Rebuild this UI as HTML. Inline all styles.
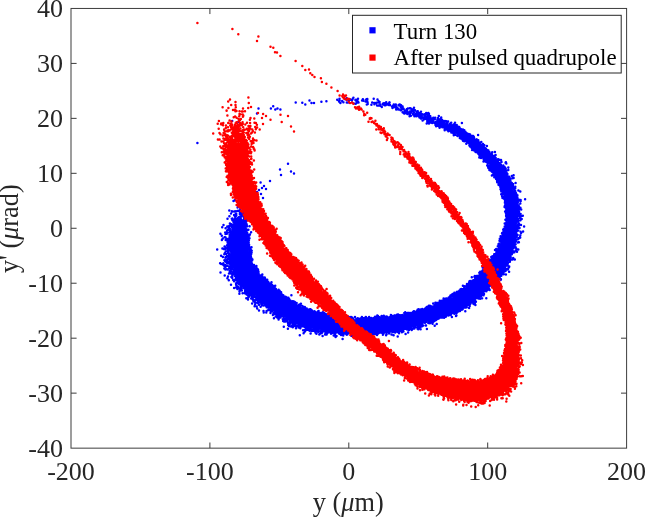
<!DOCTYPE html>
<html lang="en"><head><meta charset="utf-8"><title>Phase space</title>
<style>html,body{margin:0;padding:0;background:#fff}svg{display:block}</style></head>
<body>
<svg width="645" height="517" viewBox="0 0 645 517">
<rect width="645" height="517" fill="#fff"/>
<g fill="#0000ff" stroke="#0000ff" stroke-linecap="round" stroke-linejoin="round">
<path stroke-width="1" d="M238.9 221.2L238.5 222.0L238.0 222.8L237.5 223.6L236.9 224.3L236.4 224.9L236.2 225.5L236.0 226.1L235.8 226.7L235.6 227.3L235.4 227.9L235.1 228.5L234.8 229.1L234.5 229.8L234.2 230.4L233.9 231.0L233.5 231.7L233.2 232.4L232.9 233.1L232.5 233.8L232.2 234.5L231.9 235.2L231.6 236.0L231.3 236.8L231.0 237.6L230.8 238.5L230.6 239.3L230.4 240.2L230.3 241.1L230.1 242.1L230.1 243.0L230.0 243.9L229.9 244.8L229.9 245.7L229.9 246.6L229.9 247.5L229.9 248.4L230.0 249.3L230.0 250.2L230.1 251.0L230.1 251.9L230.2 252.8L230.3 253.6L230.4 254.4L230.5 255.3L230.6 256.1L230.8 256.9L230.9 257.7L231.0 258.5L231.2 259.3L231.3 260.1L231.5 260.9L231.6 261.8L231.8 262.6L232.0 263.4L232.2 264.3L232.4 265.1L232.6 265.9L232.8 266.8L233.1 267.6L233.3 268.5L233.6 269.3L233.9 270.2L234.2 271.1L234.5 271.9L234.9 272.8L235.2 273.7L235.6 274.5L236.0 275.4L236.5 276.2L236.9 277.1L237.4 278.0L237.9 278.8L238.5 279.6L239.0 280.4L239.6 281.1L240.2 281.9L240.7 282.6L241.3 283.3L242.0 284.0L242.6 284.7L243.2 285.3L243.8 286.0L244.5 286.6L245.1 287.2L245.8 287.8L246.4 288.4L247.1 288.9L247.7 289.5L248.4 290.0L249.0 290.6L249.7 291.1L250.3 291.6L251.0 292.1L251.6 292.6L252.2 293.1L252.9 293.6L253.5 294.1L254.1 294.6L254.8 295.0L255.4 295.5L256.0 295.9L256.6 296.4L257.2 296.8L257.8 297.3L258.4 297.7L259.0 298.2L259.6 298.6L260.2 299.0L260.8 299.5L261.4 299.9L262.0 300.4L262.6 300.8L263.1 301.3L263.7 301.7L264.3 302.2L264.9 302.6L265.5 303.1L266.1 303.5L266.7 304.0L267.3 304.5L267.9 304.9L268.6 305.4L269.2 305.9L269.8 306.4L270.4 306.8L271.0 307.3L271.7 307.8L272.3 308.2L272.9 308.7L273.6 309.2L274.2 309.7L274.9 310.1L275.5 310.6L276.2 311.1L276.9 311.5L277.5 312.0L278.2 312.5L278.9 312.9L279.6 313.3L280.2 313.8L280.9 314.2L281.6 314.6L282.3 315.1L283.0 315.5L283.7 315.9L284.3 316.3L285.0 316.7L285.7 317.1L286.4 317.5L287.1 317.9L287.8 318.3L288.5 318.6L289.2 319.0L289.9 319.4L290.6 319.8L291.2 320.1L291.9 320.5L292.6 320.8L293.3 321.2L294.0 321.5L294.7 321.9L295.4 322.2L296.1 322.6L296.9 322.9L297.6 323.3L298.3 323.6L299.1 324.0L299.8 324.3L300.6 324.6L301.3 324.9L302.1 325.2L302.9 325.5L303.7 325.8L304.5 326.1L305.3 326.4L306.1 326.7L306.9 326.9L307.7 327.2L308.5 327.4L309.4 327.7L310.2 327.9L311.1 328.1L311.9 328.2L312.8 328.4L313.6 328.5L314.4 328.7L315.3 328.8L316.1 328.9L316.9 329.0L317.7 329.1L318.5 329.1L319.3 329.2L320.1 329.2L320.9 329.3L321.7 329.4L322.5 329.4L323.2 329.4L324.0 329.5L324.7 329.5L325.5 329.6L326.2 329.7L326.9 329.7L327.7 329.8L328.4 329.8L329.1 329.9L329.8 330.0L330.5 330.1L331.3 330.2L332.0 330.3L332.7 330.4L333.4 330.5L334.2 330.6L334.9 330.7L335.6 330.8L336.4 330.9L337.1 331.0L337.9 331.1L338.6 331.2L339.4 331.4L340.1 331.5L340.9 331.6L341.6 331.7L342.4 331.8L343.2 331.9L343.9 332.0L344.7 332.1L345.5 332.2L346.2 332.3L347.0 332.4L347.8 332.5L348.6 332.6L349.4 332.6L350.2 332.7L351.0 332.8L351.8 332.8L352.6 332.9L353.4 332.9L354.2 333.0L355.0 333.0L355.8 333.0L356.6 333.0L357.4 333.0L358.2 333.0L359.0 333.0L359.8 333.0L360.6 333.0L361.4 332.9L362.2 332.9L363.0 332.9L363.8 332.8L364.6 332.8L365.3 332.7L366.1 332.7L366.9 332.6L367.7 332.6L368.4 332.5L369.2 332.4L370.0 332.4L370.7 332.3L371.5 332.3L372.3 332.2L373.0 332.1L373.8 332.1L374.5 332.0L375.3 331.9L376.0 331.9L376.8 331.8L377.5 331.8L378.3 331.7L379.0 331.6L379.8 331.6L380.5 331.5L381.3 331.5L382.0 331.4L382.8 331.3L383.6 331.3L384.3 331.2L385.1 331.2L385.8 331.1L386.6 331.0L387.4 330.9L388.1 330.9L388.9 330.8L389.7 330.7L390.5 330.6L391.2 330.5L392.0 330.4L392.8 330.3L393.6 330.2L394.3 330.1L395.1 330.0L395.9 329.9L396.6 329.8L397.4 329.6L398.2 329.5L399.0 329.4L399.7 329.2L400.5 329.1L401.3 329.0L402.0 328.8L402.8 328.7L403.6 328.5L404.3 328.3L405.1 328.2L405.8 328.0L406.6 327.8L407.4 327.7L408.1 327.5L408.9 327.3L409.6 327.1L410.4 326.9L411.1 326.8L411.9 326.6L412.7 326.4L413.4 326.2L414.2 325.9L414.9 325.7L415.7 325.5L416.4 325.3L417.2 325.1L417.9 324.9L418.7 324.6L419.4 324.4L420.1 324.2L420.9 323.9L421.6 323.7L422.4 323.5L423.1 323.2L423.9 323.0L424.6 322.7L425.3 322.5L426.1 322.2L426.8 321.9L427.5 321.7L428.3 321.4L429.0 321.1L429.7 320.9L430.4 320.6L431.2 320.3L431.9 320.1L432.6 319.8L433.3 319.5L434.0 319.2L434.7 318.9L435.4 318.7L436.1 318.4L436.8 318.1L437.5 317.8L438.2 317.5L438.9 317.3L439.6 317.0L440.3 316.7L441.0 316.4L441.7 316.1L442.4 315.9L443.2 315.6L443.9 315.3L444.6 315.0L445.3 314.8L446.0 314.5L446.7 314.2L447.5 313.9L448.2 313.7L448.9 313.4L449.6 313.1L450.4 312.8L451.1 312.5L451.8 312.2L452.5 311.9L453.3 311.6L454.0 311.3L454.7 310.9L455.5 310.6L456.2 310.2L456.9 309.9L457.6 309.5L458.3 309.2L459.1 308.8L459.8 308.4L460.5 308.1L461.2 307.7L461.9 307.3L462.6 306.9L463.3 306.5L464.0 306.1L464.7 305.7L465.4 305.3L466.0 304.8L466.7 304.4L467.4 304.0L468.1 303.5L468.7 303.1L469.4 302.6L470.1 302.2L470.7 301.7L471.3 301.2L472.0 300.7L472.6 300.3L473.3 299.8L473.9 299.3L474.5 298.8L475.1 298.3L475.7 297.8L476.4 297.3L477.0 296.8L477.6 296.3L478.2 295.8L478.8 295.3L479.4 294.8L479.9 294.3L480.5 293.7L481.1 293.2L481.7 292.7L482.3 292.2L482.8 291.6L483.4 291.1L484.0 290.6L484.6 290.1L485.1 289.5L485.7 289.0L486.3 288.5L486.8 287.9L487.4 287.4L487.9 286.8L488.5 286.3L489.0 285.7L489.6 285.2L490.2 284.6L490.7 284.0L491.3 283.5L491.8 282.9L492.4 282.3L492.9 281.7L493.4 281.2L494.0 280.6L494.5 280.0L495.1 279.4L495.6 278.8L496.1 278.2L496.6 277.5L497.2 276.9L497.7 276.3L498.2 275.7L498.7 275.0L499.2 274.4L499.7 273.8L500.2 273.1L500.7 272.5L501.2 271.8L501.6 271.1L502.1 270.5L502.6 269.8L503.0 269.1L503.5 268.4L503.9 267.7L504.3 267.0L504.8 266.3L505.2 265.6L505.6 264.9L506.0 264.2L506.4 263.4L506.8 262.7L507.1 261.9L507.5 261.2L507.9 260.4L508.2 259.7L508.5 258.9L508.8 258.1L509.1 257.4L509.4 256.6L509.7 255.8L510.0 255.1L510.2 254.3L510.4 253.5L510.7 252.7L510.9 252.0L511.1 251.2L511.3 250.4L511.5 249.7L511.7 248.9L511.9 248.1L512.1 247.4L512.3 246.6L512.5 245.9L512.6 245.1L512.8 244.4L513.0 243.6L513.2 242.9L513.4 242.2L513.6 241.4L513.7 240.7L513.9 239.9L514.1 239.2L514.3 238.4L514.5 237.7L514.6 236.9L514.8 236.1L515.0 235.4L515.1 234.6L515.3 233.8L515.4 233.1L515.6 232.3L515.8 231.5L515.9 230.7L516.0 230.0L516.2 229.2L516.3 228.4L516.4 227.6L516.6 226.8L516.7 226.0L516.8 225.2L516.9 224.4L517.0 223.6L517.1 222.8L517.1 222.0L517.2 221.2L517.3 220.4L517.3 219.6L517.3 218.8L517.4 217.9L517.4 217.1L517.4 216.3L517.4 215.5L517.4 214.7L517.4 213.9L517.3 213.0L517.3 212.2L517.2 211.4L517.2 210.6L517.1 209.8L517.0 208.9L516.9 208.1L516.8 207.3L516.7 206.5L516.6 205.7L516.4 205.0L516.3 204.2L516.1 203.4L516.0 202.6L515.8 201.8L515.6 201.1L515.5 200.3L515.3 199.5L515.1 198.8L514.9 198.0L514.7 197.3L514.5 196.5L514.3 195.8L514.1 195.0L513.9 194.3L513.7 193.6L513.5 192.8L513.3 192.1L513.1 191.3L512.9 190.6L512.7 189.8L512.4 189.1L512.2 188.3L511.9 187.6L511.7 186.8L511.4 186.1L511.1 185.3L510.8 184.5L510.5 183.8L510.2 183.0L509.9 182.3L509.6 181.5L509.2 180.8L508.9 180.1L508.5 179.3L508.1 178.6L507.7 177.8L507.3 177.1L506.9 176.4L506.4 175.7L506.0 175.0L505.6 174.3L505.1 173.7L504.7 173.0L504.2 172.4L503.8 171.8L503.4 171.1L502.9 170.5L502.5 169.9L502.1 169.3L501.6 168.7L501.2 168.1L500.8 167.5L500.3 166.9L499.9 166.3L499.4 165.8L499.0 165.2L498.5 164.6L498.1 164.0L497.6 163.4L497.1 162.8L496.6 162.2L496.1 161.6L495.7 160.9L495.2 160.3L494.7 159.7L494.2 159.1L493.7 158.5L493.2 157.9L492.6 157.3L492.1 156.7L491.6 156.1L491.1 155.5L490.6 154.9L490.0 154.3L489.5 153.8L489.0 153.2L488.4 152.7L487.9 152.1L487.3 151.5L486.8 151.0L486.2 150.5L485.7 149.9L485.1 149.4L484.5 148.9L484.0 148.3L483.4 147.8L482.8 147.3L482.3 146.8L481.7 146.3L481.1 145.8L480.5 145.3L480.0 144.8L479.4 144.3L478.8 143.8L478.2 143.3L477.7 142.8L477.1 142.3L476.5 141.9L475.9 141.4L475.3 140.9L474.7 140.4L474.2 139.9L473.6 139.4L473.0 139.0L472.4 138.5L471.8 138.0L471.2 137.5L470.6 137.1L470.0 136.6L469.4 136.1L468.8 135.7L468.1 135.2L467.5 134.7L466.9 134.3L466.3 133.8L465.6 133.4L465.0 132.9L464.4 132.5L463.7 132.1L463.1 131.7L462.4 131.2L461.7 130.8L461.1 130.4L460.4 130.0L459.7 129.6L459.0 129.2L458.4 128.9L457.7 128.5L457.0 128.1L456.3 127.8L455.6 127.4L454.9 127.1L454.2 126.7L453.6 126.4L452.9 126.1L452.2 125.8L451.5 125.4L450.8 125.1L450.1 124.8L449.4 124.5L448.7 124.2L448.0 123.9L447.3 123.6L446.5 123.5L445.7 123.6L444.9 123.6L444.0 123.6L443.1 125.9L443.6 126.5L444.2 127.1L444.7 127.7L445.3 128.3L446.0 128.6L446.7 128.9L447.3 129.2L448.0 129.5L448.7 129.8L449.4 130.1L450.1 130.4L450.7 130.7L451.4 131.0L452.1 131.3L452.7 131.6L453.4 131.9L454.0 132.3L454.7 132.6L455.3 132.9L456.0 133.3L456.6 133.6L457.2 134.0L457.9 134.3L458.5 134.7L459.1 135.1L459.7 135.5L460.3 135.8L460.9 136.3L461.5 136.7L462.1 137.1L462.7 137.5L463.2 138.0L463.8 138.4L464.4 138.9L465.0 139.3L465.5 139.8L466.1 140.2L466.7 140.7L467.2 141.2L467.8 141.7L468.4 142.1L468.9 142.6L469.5 143.1L470.0 143.6L470.6 144.1L471.1 144.6L471.6 145.1L472.2 145.6L472.7 146.1L473.3 146.6L473.8 147.1L474.3 147.7L474.9 148.2L475.4 148.7L476.0 149.2L476.5 149.7L477.0 150.2L477.6 150.8L478.1 151.3L478.6 151.8L479.2 152.3L479.7 152.8L480.2 153.4L480.7 153.9L481.2 154.4L481.7 154.9L482.2 155.5L482.7 156.0L483.2 156.5L483.7 157.1L484.2 157.6L484.7 158.1L485.1 158.7L485.6 159.2L486.0 159.8L486.5 160.3L486.9 160.9L487.3 161.5L487.7 162.1L488.1 162.6L488.5 163.2L488.9 163.8L489.2 164.5L489.6 165.1L489.9 165.7L490.3 166.4L490.6 167.0L491.0 167.7L491.3 168.3L491.7 169.0L492.0 169.7L492.4 170.3L492.8 171.0L493.1 171.7L493.5 172.3L493.9 173.0L494.3 173.6L494.8 174.3L495.2 174.9L495.6 175.6L496.0 176.2L496.4 176.8L496.8 177.4L497.2 178.0L497.6 178.6L498.0 179.2L498.4 179.8L498.7 180.4L499.1 181.0L499.4 181.6L499.7 182.2L500.0 182.7L500.3 183.3L500.5 183.9L500.8 184.6L501.0 185.2L501.3 185.8L501.5 186.4L501.7 187.1L502.0 187.8L502.2 188.4L502.4 189.1L502.6 189.8L502.8 190.4L503.0 191.1L503.2 191.8L503.4 192.5L503.5 193.2L503.7 193.9L503.9 194.6L504.1 195.4L504.3 196.1L504.5 196.8L504.7 197.5L504.9 198.3L505.0 199.0L505.2 199.7L505.4 200.4L505.6 201.1L505.8 201.8L505.9 202.5L506.1 203.2L506.2 203.9L506.4 204.6L506.5 205.3L506.7 206.0L506.8 206.7L506.9 207.4L507.0 208.0L507.1 208.7L507.2 209.4L507.3 210.1L507.4 210.7L507.4 211.4L507.5 212.1L507.5 212.8L507.5 213.4L507.6 214.1L507.6 214.8L507.6 215.5L507.6 216.2L507.5 216.9L507.5 217.6L507.5 218.2L507.4 218.9L507.4 219.6L507.3 220.3L507.2 221.0L507.1 221.7L507.1 222.4L507.0 223.1L506.8 223.8L506.7 224.5L506.6 225.2L506.5 225.9L506.3 226.5L506.2 227.2L506.0 227.9L505.9 228.6L505.7 229.3L505.5 230.0L505.3 230.7L505.1 231.4L504.9 232.1L504.7 232.7L504.5 233.4L504.3 234.1L504.1 234.8L503.9 235.5L503.6 236.2L503.4 236.9L503.2 237.6L502.9 238.3L502.7 239.0L502.4 239.7L502.2 240.4L501.9 241.1L501.7 241.8L501.4 242.5L501.2 243.2L500.9 243.8L500.6 244.5L500.3 245.2L500.1 245.9L499.8 246.5L499.5 247.2L499.2 247.8L498.9 248.5L498.6 249.1L498.4 249.7L498.1 250.4L497.8 251.0L497.5 251.6L497.2 252.2L496.9 252.8L496.6 253.4L496.2 254.0L495.9 254.6L495.6 255.1L495.3 255.7L495.0 256.3L494.6 256.9L494.3 257.4L494.0 258.0L493.6 258.5L493.2 259.1L492.9 259.7L492.5 260.2L492.1 260.8L491.7 261.3L491.3 261.9L490.9 262.4L490.5 263.0L490.1 263.5L489.6 264.0L489.2 264.6L488.8 265.1L488.3 265.7L487.9 266.2L487.4 266.7L487.0 267.2L486.5 267.8L486.0 268.3L485.5 268.8L485.1 269.4L484.6 269.9L484.1 270.4L483.6 270.9L483.1 271.4L482.6 272.0L482.1 272.5L481.6 273.0L481.1 273.5L480.6 274.0L480.0 274.5L479.5 275.1L479.0 275.6L478.5 276.1L478.0 276.6L477.4 277.1L476.9 277.6L476.4 278.1L475.8 278.6L475.3 279.1L474.8 279.6L474.2 280.2L473.7 280.6L473.2 281.1L472.6 281.6L472.1 282.1L471.6 282.6L471.0 283.1L470.5 283.6L470.0 284.1L469.4 284.5L468.9 285.0L468.3 285.5L467.8 285.9L467.3 286.4L466.7 286.8L466.2 287.3L465.6 287.7L465.1 288.2L464.5 288.6L464.0 289.1L463.4 289.5L462.9 289.9L462.3 290.3L461.8 290.7L461.2 291.2L460.6 291.6L460.1 292.0L459.5 292.4L458.9 292.8L458.4 293.2L457.8 293.6L457.2 294.0L456.6 294.4L456.1 294.8L455.5 295.2L454.9 295.5L454.3 295.9L453.7 296.3L453.1 296.7L452.5 297.0L451.9 297.4L451.3 297.7L450.7 298.1L450.1 298.4L449.5 298.8L448.9 299.1L448.2 299.4L447.6 299.7L447.0 300.1L446.4 300.4L445.7 300.7L445.1 301.0L444.4 301.4L443.8 301.7L443.1 302.0L442.5 302.3L441.8 302.6L441.2 302.9L440.5 303.2L439.8 303.5L439.2 303.8L438.5 304.1L437.8 304.4L437.1 304.7L436.4 305.0L435.7 305.3L435.0 305.6L434.3 305.8L433.6 306.1L433.0 306.4L432.3 306.7L431.6 307.0L430.9 307.2L430.2 307.5L429.5 307.8L428.8 308.0L428.1 308.3L427.5 308.6L426.8 308.8L426.1 309.1L425.4 309.4L424.7 309.6L424.0 309.9L423.4 310.1L422.7 310.4L422.0 310.6L421.3 310.8L420.6 311.1L420.0 311.3L419.3 311.5L418.6 311.7L417.9 312.0L417.2 312.2L416.5 312.4L415.8 312.6L415.1 312.8L414.5 313.0L413.8 313.2L413.1 313.4L412.4 313.5L411.7 313.7L411.0 313.9L410.3 314.1L409.6 314.2L408.9 314.4L408.2 314.6L407.5 314.7L406.8 314.9L406.1 315.1L405.3 315.2L404.6 315.4L403.9 315.5L403.2 315.6L402.5 315.8L401.8 315.9L401.1 316.1L400.4 316.2L399.7 316.3L399.0 316.5L398.3 316.6L397.5 316.7L396.8 316.8L396.1 316.9L395.4 317.0L394.7 317.1L394.0 317.2L393.3 317.3L392.6 317.4L391.8 317.5L391.1 317.6L390.4 317.7L389.7 317.8L389.0 317.9L388.3 318.0L387.6 318.1L386.8 318.1L386.1 318.2L385.4 318.3L384.7 318.3L383.9 318.4L383.2 318.5L382.5 318.5L381.7 318.6L381.0 318.7L380.3 318.7L379.5 318.8L378.8 318.8L378.0 318.9L377.3 318.9L376.5 319.0L375.8 319.1L375.0 319.1L374.3 319.2L373.5 319.2L372.8 319.3L372.0 319.3L371.3 319.4L370.5 319.4L369.8 319.5L369.1 319.5L368.3 319.6L367.6 319.6L366.9 319.7L366.1 319.7L365.4 319.7L364.7 319.8L364.0 319.8L363.2 319.8L362.5 319.8L361.8 319.8L361.1 319.8L360.4 319.8L359.7 319.8L359.0 319.8L358.3 319.8L357.6 319.8L356.9 319.8L356.2 319.8L355.5 319.7L354.8 319.7L354.2 319.6L353.5 319.6L352.8 319.5L352.1 319.5L351.4 319.4L350.7 319.3L350.0 319.3L349.3 319.2L348.6 319.1L347.9 319.0L347.2 318.9L346.5 318.8L345.8 318.7L345.1 318.6L344.4 318.5L343.7 318.4L342.9 318.2L342.2 318.1L341.5 318.0L340.7 317.9L340.0 317.7L339.3 317.6L338.5 317.5L337.8 317.4L337.0 317.2L336.3 317.1L335.5 317.0L334.7 316.9L334.0 316.7L333.2 316.6L332.4 316.5L331.7 316.4L330.9 316.3L330.1 316.1L329.3 316.0L328.5 315.9L327.8 315.8L327.0 315.7L326.3 315.6L325.5 315.5L324.8 315.3L324.0 315.2L323.3 315.1L322.6 315.0L321.9 314.9L321.2 314.7L320.5 314.6L319.8 314.5L319.1 314.3L318.5 314.2L317.8 314.0L317.2 313.9L316.6 313.7L315.9 313.6L315.3 313.4L314.7 313.2L314.1 313.1L313.5 312.9L312.9 312.7L312.3 312.5L311.8 312.3L311.2 312.1L310.5 311.8L309.9 311.6L309.3 311.3L308.7 311.1L308.1 310.8L307.5 310.5L306.9 310.3L306.3 310.0L305.6 309.7L305.0 309.4L304.4 309.1L303.7 308.8L303.1 308.4L302.5 308.1L301.8 307.8L301.2 307.5L300.5 307.1L299.9 306.8L299.2 306.5L298.6 306.1L297.9 305.8L297.3 305.4L296.7 305.1L296.0 304.8L295.4 304.4L294.8 304.1L294.2 303.7L293.6 303.4L292.9 303.0L292.3 302.7L291.7 302.3L291.1 302.0L290.5 301.6L289.9 301.2L289.4 300.9L288.8 300.5L288.2 300.1L287.6 299.7L287.0 299.4L286.5 299.0L285.9 298.6L285.4 298.2L284.8 297.8L284.2 297.4L283.7 296.9L283.1 296.5L282.6 296.1L282.0 295.6L281.5 295.2L280.9 294.7L280.4 294.3L279.8 293.8L279.3 293.4L278.7 292.9L278.2 292.4L277.6 291.9L277.1 291.4L276.5 290.9L275.9 290.5L275.4 290.0L274.8 289.5L274.3 289.0L273.7 288.5L273.1 288.0L272.5 287.4L272.0 286.9L271.4 286.4L270.8 285.9L270.2 285.4L269.6 284.9L269.1 284.4L268.5 283.9L267.9 283.5L267.4 283.0L266.8 282.5L266.3 282.0L265.8 281.5L265.2 281.0L264.7 280.5L264.2 280.1L263.7 279.6L263.1 279.1L262.6 278.6L262.1 278.1L261.7 277.6L261.2 277.2L260.7 276.7L260.2 276.2L259.8 275.7L259.4 275.2L258.9 274.7L258.5 274.2L258.1 273.7L257.7 273.3L257.3 272.8L257.0 272.3L256.6 271.8L256.3 271.3L256.0 270.9L255.6 270.4L255.3 269.9L255.0 269.5L254.8 269.0L254.5 268.6L254.2 268.1L254.0 267.7L253.7 267.2L253.5 266.7L253.3 266.3L253.0 265.8L252.8 265.3L252.6 264.7L252.4 264.2L252.2 263.7L252.0 263.1L251.7 262.5L251.6 261.9L251.4 261.3L251.2 260.7L251.0 260.1L250.8 259.5L250.6 258.9L250.5 258.2L250.3 257.5L250.1 256.9L250.0 256.2L249.8 255.5L249.6 254.8L249.5 254.1L249.3 253.5L249.2 252.8L249.0 252.1L248.9 251.5L248.8 250.8L248.7 250.2L248.5 249.5L248.4 248.9L248.3 248.3L248.2 247.7L248.1 247.0L248.1 246.4L248.0 245.8L247.9 245.2L247.9 244.7L247.8 244.1L247.8 243.5L247.7 242.9L247.7 242.3L247.7 241.7L247.6 241.1L247.6 240.5L247.6 239.8L247.5 239.2L247.4 238.4L247.4 237.7L247.3 237.0L247.2 236.2L247.1 235.4L247.0 234.6L246.9 233.7L246.8 232.9L246.7 232.1L246.6 231.2L246.5 230.3L246.3 229.5L246.2 228.6L246.0 227.7L245.8 226.8L245.6 226.0L245.4 225.1L245.1 224.2L244.5 223.4L243.7 222.6L242.9 221.9L242.1 221.2L241.4 220.6Z"/>
<path fill="none" stroke-width="2.5" d="m353.4 97.8h0m-43.9 2.8h0m11.9 1.2h0m5-.5h0m10.8-1.5h0m1.8 1.8h0m.1-.1h0m.4-2.7h0m.1 1.7h0m2.6 .6h0m3.1-1.8h0m1.3-1h0m.3 1.5h0m2.1-.3h0m.1 .8h0m1.2-.7h0m1.3 .3h0m.4 .5h0m.8-1.6h0m2.6 1.1h0m.5 .7h0m.1-.8h0m.7 1.3h0m1.2 .5h0m.1-2.8h0m4.1 1.8h0m.8-1.3h0m.4 1.4h0m0-.7h0m2.3 1.4h0m.6-1.9h0m.2 .7h0m.9-.4h0m0-.7h0m6.4-.3h0m3.8 .8h0m1 1.3h0m.3 1h0m.8 0h0m-83.9 .7h0m6.6 .2h0m3 1.7h0m6.2-1.5h0m2.5 0h0m26.4-.1h0m3-.7h0m3.4 .2h0m1.3 .2h0m5.6 .9h0m2 .2h0m.9-.9h0m1.9-.2h0m8.3 1.9h0m.8-2.2h0m.1 1.8h0m3.7 .7h0m.8-2.2h0m2.1 .3h0m.1 1.3h0m1.9-1h0m.1-.4h0m.7 2.7h0m1.4-.1h0m.1-2.8h0m1.8 1.6h0m0 1.5h0m2.6-1.3h0m.2-1h0m0 .5h0m.8-.2h0m.3-.5h0m.3 2.1h0m.9-.1h0m.1-.9h0m.3-1h0m.3-1h0m.9 2.2h0m.1-.7h0m1.7 1.1h0m0-.7h0m.4-1.6h0m.3-.1h0m.4 2.5h0m2.9 .7h0m.9-1.1h0m.1 1.4h0m1.3-.3h0m.6-1.2h0m2.8 .4h0m.5 .5h0m.7-1h0m1.3 .9h0m-142.6 3.1h0m12.4 0h0m2.3-2.1h0m2.1 3.1h0m2.2-1h0m2.9 1.1h0m101.4-2.5h0m10.2-.6h0m.5 1.5h0m.6-.6h0m1.3-.4h0m1.3 .7h0m.5 2h0m.1-3.2h0m0 1h0m0-.9h0m.2 1.7h0m.7 .2h0m.2-.7h0m.1 1.5h0m.4 0h0m.6-.2h0m.2 .5h0m2.1-2.2h0m.4 2.7h0m.2-1h0m.3 .4h0m.2-1.7h0m.7-1.3h0m0 1.5h0m.1-.1h0m.4 1h0m.2 .2h0m.3-.2h0m3.3 .2h0m1-.6h0m1.9-.1h0m1 .3h0m.7 .9h0m.4-.2h0m.8 .2h0m1.3-1.8h0m-157 5.9h0m143.7-3.3h0m1.9 1.9h0m.8 .6h0m0-.4h0m.8 1.2h0m.4-.1h0m.1-3.2h0m.1 .7h0m.1 .9h0m.4 .8h0m.9-1.9h0m.5 1.3h0m.5-1h0m0 2.2h0m.3 .4h0m.1-1.6h0m1 .6h0m1.4-1.1h0m0 2.3h0m.3-.9h0m1-.4h0m.3-1.7h0m.2-.4h0m1.1 .3h0m.3 2.9h0m.6-1.1h0m.3-2.4h0m.9 .1h0m.9 3.4h0m.6-1.9h0m.3 0h0m.9 2h0m.1-2.6h0m.9 1.8h0m1.4 .8h0m.3-1.3h0m.3 .4h0m.3-1.1h0m5.2 1.3h0m0 .8h0m.2 0h0m2-.8h0m.6 .8h0m-21.7 .1h0m.2 0h0m2.1 2.2h0m.1-1h0m.9 .6h0m.3-.1h0m2.2-1.1h0m1.3 1.7h0m.9-1.2h0m.8 .1h0m.2 1.1h0m1-.9h0m.9-.1h0m.4 .9h0m.8 .7h0m.1 .6h0m1.1-2.7h0m.1 1.9h0m.1 1.1h0m.8-1.7h0m0 .4h0m.2-1.9h0m.4-.4h0m.2 .3h0m.3 3h0m.1 .1h0m.8-.3h0m.6-2.7h0m.5 1.6h0m0-.4h0m0-1.5h0m.1 2.8h0m.5-1.5h0m.8-1.3h0m.6 2.6h0m.9 .5h0m.6-2.2h0m.9 .7h0m0 .2h0m.1 .2h0m.1-.3h0m.1 1.5h0m.7-.6h0m.2-.7h0m3 1.6h0m1.9 0h0m3.6-1.7h0m2.4 1.4h0m-209 3.5h0m188.7-2.4h0m1.7 2h0m.6-2.4h0m.4 1.3h0m1.3-.5h0m1.3-.5h0m.5 .1h0m.5 1.4h0m0-1.6h0m.1 3.2h0m.3-2.7h0m0 .3h0m.1 .5h0m.2 2.3h0m.2-2.5h0m.1 1.4h0m.2-.8h0m.4-1.3h0m.3 .1h0m.5 2h0m0-2.4h0m.7 .5h0m.4 2.1h0m.2-1.2h0m.2-1.7h0m1.5 .3h0m.1 3.4h0m0-3.3h0m.1 1h0m.2-.7h0m.1 2.2h0m0 .1h0m.3 0h0m1.5-2.2h0m1.5 2.5h0m.3-.1h0m.4 .5h0m.3-2.2h0m.4-.4h0m.2-1.3h0m.4 1.3h0m.4 .3h0m0 1.6h0m.3-.4h0m.2-1.1h0m.1-.2h0m.1 2.2h0m.5 .1h0m.6-1.8h0m1 1.7h0m.2-1.2h0m.2-.7h0m.5 .6h0m.4 .5h0m1.1 1.1h0m1-1h0m.6 .2h0m.8 .1h0m1.7 .3h0m-209.8 .5h0m188.4 1.3h0m1.7-.6h0m.6 .6h0m1.4-.8h0m.6-.4h0m.6 .3h0m.6 .4h0m2.3 .1h0m1 2.1h0m.1-1.6h0m.4-1.5h0m.1 .3h0m.6 3.1h0m.2-2.2h0m.5 .8h0m0 1.8h0m.2-.8h0m1-2.5h0m.1 .6h0m.9-.8h0m0 2.8h0m.1-2.3h0m.8 2h0m.4-1.9h0m.1 1.7h0m.1-2h0m.4 1.5h0m.9 1.5h0m.3-1.2h0m.1-1.4h0m0 1.4h0m1.6-.1h0m0 .2h0m1.8-.3h0m.2-1.7h0m.2 .4h0m.5-.2h0m.2 .2h0m2.3 2.5h0m.4-1.7h0m.7 1.8h0m.2 .2h0m.3-3h0m.5 2.6h0m1.8-.6h0m.9 .2h0m.2-.9h0m.4-1.2h0m0 2.3h0m.3 0h0m1.3 .5h0m.1-.5h0m5.2-2.2h0m-25.8 3.4h0m2.8 0h0m.4-.1h0m.3 1.6h0m.1-.5h0m1-1h0m.5 .2h0m1.1 .7h0m.2-1.2h0m.5 .2h0m1 .9h0m.3-.9h0m.3 2.8h0m.4-2.1h0m.2 1h0m.1-.4h0m.2 1.1h0m.1-1.1h0m.7 1.6h0m.9-.5h0m.3 .8h0m.9-.4h0m1.1 1h0m.6-.2h0m3.1-2.7h0m.3-.5h0m.2 .5h0m.1-.6h0m.7 .1h0m1.1 1.7h0m.4-.3h0m.2 .8h0m.4-2.7h0m.2 2.1h0m.3-1.7h0m.6 0h0m.3 1.6h0m.3 1.6h0m.7-1h0m.2-1.7h0m.1 1.7h0m.2 1h0m.3-1.4h0m1 1.4h0m.3-.5h0m.6 .4h0m1 .3h0m.2-.5h0m-18.2 .8h0m2.7-.2h0m.4 .4h0m.6 .9h0m2.2-.3h0m.7 1.5h0m.5-.8h0m.1-.6h0m1.2 .3h0m.2 1.6h0m.3-.4h0m1.3 .2h0m.2-.9h0m.1 .3h0m.1 .6h0m.7-.5h0m1.6 1.4h0m.8-.2h0m.6-3.4h0m3.1 .1h0m0 1.8h0m.3-1.8h0m.2 .7h0m1 1.9h0m.1-.9h0m0 1.2h0m.2-.6h0m.2 .6h0m.2-2.8h0m1.1 1.6h0m0-.2h0m.8 1.2h0m.4 .4h0m.4 .3h0m.1 .4h0m-13.4 .5h0m.1 .8h0m.3-.4h0m1.1-.2h0m1.9 .7h0m.6 .5h0m.1-1.2h0m.3 .3h0m0-1h0m.7 .2h0m.2 0h0m.3 .9h0m.5 2.9h0m.2-3.3h0m0 1.2h0m.5-1.1h0m.3 .3h0m0 2.7h0m0-2.1h0m.5 1.1h0m.9 .9h0m.2-.2h0m2 .3h0m1.7-3.1h0m.2 .1h0m2.2 1.5h0m0 .1h0m.2-2.4h0m.6 2.2h0m.3-.2h0m.2-1.2h0m.3-.2h0m.4 .9h0m.3 .7h0m0 1.8h0m1.2 0h0m.3-.7h0m0-1.3h0m.2 1.6h0m.2-.5h0m.2 .3h0m.2-1.4h0m0 1.5h0m.6 .1h0m.1-.9h0m.3 1.3h0m4-2.9h0m-17.2 3.3h0m1.5 1.2h0m.6 1.1h0m.2-1.7h0m.7-.5h0m.3 2.7h0m.2-3.2h0m.5 1h0m.2-.4h0m0 2.2h0m.1-2.6h0m.3 1.7h0m.4-.9h0m.1 1.8h0m.6 .8h0m.1-1.5h0m.1 .6h0m.1 .4h0m.1-.1h0m.1-.2h0m.1 .2h0m.2 .4h0m.4 .4h0m.1-.6h0m.1 .1h0m0 .2h0m2.9-3.4h0m.2 0h0m.1 0h0m.8 .2h0m.4 .6h0m.9 .6h0m.8 1.2h0m.7 .1h0m0-.8h0m.1 1.3h0m.1-.1h0m0-.8h0m.1 .5h0m.5 1h0m.7-2.4h0m.4 1.1h0m.1-1h0m.2 1.7h0m1-.8h0m.3-.3h0m-280.9 2.7h0m268.9 .9h0m1-1.4h0m.2 .2h0m1.5 .6h0m.1 .1h0m.3 2.3h0m.4-2.3h0m.4-.1h0m0 .4h0m.2 .8h0m.9 .2h0m.3 0h0m.1-.6h0m.3 1.9h0m0 .1h0m.1-1.4h0m.2 .7h0m2.9-3.2h0m.6 .4h0m.2-.3h0m.7 .2h0m.4-.4h0m.5 .7h0m.8 .9h0m.1-1.5h0m.5 2.9h0m.1-1.7h0m.1-.6h0m0-.1h0m.3 1.3h0m.3-.3h0m.1 0h0m.1 .4h0m1.1 1.1h0m.2-3h0m0 3.9h0m0-.5h0m.1-.5h0m.1 .6h0m.9-.6h0m.3-.1h0m.3-.8h0m1.3 1.2h0m-14.2 1.2h0m1.3 .9h0m.5 .5h0m.3-1.5h0m.5 .5h0m.7 1.3h0m.4-1.2h0m0 2.1h0m.7-.8h0m.3 1.1h0m.1-1h0m1-.3h0m.2 1.6h0m.2-1.3h0m.6 1.3h0m3.5-3.4h0m.4 .1h0m.9 .4h0m.2 .1h0m.2 1h0m.4 .2h0m1 .7h0m.1-1.6h0m.4 2.3h0m0-2.9h0m.2 3.1h0m.4-.4h0m.8-1.1h0m.7 .9h0m.1 .2h0m.1 .3h0m.6-3.5h0m.2 3.8h0m.1 .1h0m-15.1 .1h0m2.1 .4h0m.9 .1h0m.5 1.4h0m.5-1.7h0m.5 .4h0m0 .9h0m.2-1.1h0m.3 1h0m.1-1.3h0m.4 .3h0m.1 2.2h0m.4-1.2h0m.3 .5h0m0 .8h0m.1 1.2h0m.1-.4h0m.7-1.4h0m.6-.3h0m.2 1.2h0m.4 .3h0m4.4-3h0m.7 .6h0m.7 .2h0m.4 0h0m.6-.8h0m.8 3.3h0m.1-1.5h0m.2 1h0m0-2.6h0m0 2.9h0m.2-1.6h0m.8 0h0m1.7 1.7h0m1.1-1.4h0m2.7-.1h0m-15.6 5.5h0m.2-2.1h0m0-1.1h0m.4 1.8h0m.5-1.9h0m0 .2h0m.2 .5h0m.2 1.2h0m.2 1.7h0m.1-2.3h0m.3-.6h0m.6 1.3h0m.8 .5h0m0-1.9h0m0 .9h0m.2 1.9h0m.1-.3h0m.1 0h0m.1 .1h0m0-1h0m.2 .9h0m.1-1.1h0m.1 .5h0m.7 .3h0m.8 .8h0m0-.2h0m3.7-3.4h0m.4-.1h0m.8 1.5h0m.5-.5h0m.1 .8h0m.1-1.9h0m.2 2.7h0m0-.4h0m.1-2.2h0m.1 1.8h0m.2-1.2h0m.6 1.6h0m0-2h0m.1 3.3h0m0-2.7h0m0-.3h0m.3 2h0m.8-.7h0m0 1.9h0m.4-.1h0m.1-1.5h0m1.1-.5h0m.2 1.5h0m.1 .4h0m.1-2.3h0m.4-.3h0m.1 2.8h0m-12.4 .7h0m.2 2.8h0m.5-1.7h0m0-.2h0m.5-.8h0m.7 2.6h0m.4-3.2h0m.4 2.1h0m0 1.6h0m.5-.6h0m.2-1.4h0m.2 1.1h0m.4-.6h0m.3 .8h0m.2-.4h0m.2 .9h0m.4 .2h0m0-.3h0m4.1-3.4h0m.8 .5h0m.3-.4h0m.3 1.8h0m0-1.7h0m0-.2h0m.4 .1h0m.1 1.8h0m0-2h0m.4 .3h0m.4 2.2h0m.1-1.8h0m.2 0h0m.1 2.1h0m0 .9h0m.3 .3h0m.2-1.9h0m0 1h0m.3 .5h0m.2-1.9h0m.8 .8h0m.2 .4h0m.2 .1h0m.2-1.7h0m1.3 .5h0m1.7 .1h0m.3 1.5h0m-213.3 2.3h0m199.1-1.4h0m.1 3.1h0m.6-1.6h0m.3-.5h0m.7 0h0m.2-.2h0m.2 2.9h0m1.2-.1h0m6.1-2.4h0m.4-.6h0m.5-.7h0m.2 1.8h0m.2-.4h0m.2-.2h0m.2-.1h0m.1-.1h0m.3-.8h0m.3 .5h0m0 1.4h0m.1 1.1h0m.1 .5h0m.3-2.6h0m1.5 1.5h0m.6-2.8h0m1.8 3.6h0m2.3-2.8h0m.3-.5h0m.4 1.2h0m-226.3 5.9h0m208.2-2.2h0m.2 .9h0m.4-.6h0m.6 2.5h0m.5-2.7h0m0 .8h0m.4 1.8h0m.8-1.9h0m.9 .3h0m.2 .8h0m.5-.1h0m.1 .8h0m0 .1h0m5.9-3.7h0m1.3 .6h0m.4 1.2h0m.2-.5h0m0-.8h0m.7 3.2h0m0-2.7h0m.2-.1h0m.2-.1h0m.1-.7h0m.4 3.4h0m.3-.5h0m1.3-.9h0m.2-1.2h0m.4-.4h0m.6 1.1h0m.7 .8h0m2.6-1h0m0 2.3h0m-217.3 1.5h0m3 2.2h0m196.5-3.1h0m1.3 1h0m.3-.6h0m.2 .1h0m.1 1h0m1-1.2h0m.5 1.9h0m.3 .3h0m.3-.3h0m.1 .3h0m7.5-3h0m1 .9h0m.9 .5h0m.1 2.1h0m.1-2.7h0m0 .1h0m.1-.3h0m0-.1h0m.1 2.1h0m.1-2h0m.7 .4h0m.5 1.9h0m.3-.9h0m.2 .2h0m.2-1.7h0m.1 3.3h0m.1-1h0m-225.6 2.2h0m210.9 .4h0m1.2-1h0m1.1 1.4h0m.1-.5h0m0 2h0m.7-1.1h0m.2-.1h0m0-1.3h0m.1 0h0m.1 1.9h0m.1-2.1h0m0 1.8h0m0-.6h0m.2 1.4h0m.1-2h0m.2 2.3h0m.1-.7h0m.1 .9h0m.4-1.7h0m.7 .6h0m8.1-2.1h0m.1 1.4h0m.1 0h0m.6-.8h0m1-.8h0m.1 1.6h0m.1-1.8h0m.7 2.3h0m.2 1.2h0m.4-.7h0m.4-.1h0m2.7-.9h0m1.8 2.1h0m0-2.8h0m-243.6 5.8h0m226.1-2.1h0m.9 1h0m.1-.5h0m0 1.8h0m.4-1.9h0m.1 1.6h0m.1-2.6h0m0 1h0m.2 .2h0m.1-.2h0m.1 1.2h0m.2 1h0m.1-.1h0m.3-1.1h0m.3-.6h0m.4 2.3h0m.4-1.6h0m.1 .5h0m.1 .1h0m.2 .9h0m.3-.4h0m7.3-3.1h0m.3 .4h0m.4-.3h0m.1 3h0m.1 .3h0m.1-.3h0m0-2.4h0m.1 1.7h0m.2-1.8h0m.3 1.5h0m.2-2.1h0m.1 .5h0m0-.8h0m0 .7h0m0-.2h0m.1 .2h0m.3 .2h0m.3 1.1h0m2-1.9h0m-251.8 4.4h0m3.4 3.4h0m233.2-3.8h0m1.3 2.5h0m.1-.3h0m.4-.8h0m.1 0h0m.1 0h0m.5 2h0m.1-2.9h0m.8 1.7h0m.1 1h0m.1-1.2h0m.1-.9h0m.2-.3h0m.2 1.2h0m.7 1.4h0m.2 .4h0m7.3-3.7h0m.4 1h0m.2 .9h0m.2-1.2h0m0 2.8h0m0-2.8h0m.2 .5h0m.2 2.4h0m0-3.6h0m.1 2.1h0m0-.6h0m.2 2.1h0m.4-1.6h0m.4-1.3h0m.3 .6h0m.1 1.9h0m.2-1.3h0m.6 1h0m.1-1.3h0m2.5-.8h0m-253.6 4.9h0m4 1h0m234.3-2.6h0m.1-.2h0m0 1.1h0m.1 1.9h0m.8-.4h0m.6-1.1h0m.5 1h0m.4-.3h0m.1-.4h0m0 1.1h0m7.8-2.4h0m1.7 .1h0m.6 1.6h0m0-1.7h0m.2 2h0m0-.4h0m.3-.3h0m.8 1.7h0m.9-1.5h0m.1-1.5h0m-258.3 5.3h0m2-2h0m2 4h0m240.1-3.8h0m.2 1.4h0m.8-.6h0m.9 2.3h0m.2-1.2h0m0 1.9h0m.4-2.1h0m.3-.8h0m.3 2.3h0m0 0h0m8-2.1h0m.6 1.4h0m0 .3h0m.2-1.4h0m.2 .9h0m.2-1.2h0m0 .2h0m.3 1.4h0m.1 0h0m.2-1.3h0m.2 2.4h0m0-2.8h0m.2 2.3h0m.2-2.9h0m.3 2.3h0m.3-2h0m.6 1.8h0m2.6-2.2h0m1.9 1h0m-262.3 5.5h0m243.2-2.7h0m.9 2.3h0m.1-2.3h0m.3 3.7h0m.6-1h0m.7 0h0m.4 .4h0m.3-1.4h0m.1-1.9h0m0 2.7h0m.7 1h0m0 .1h0m8.1-2.3h0m.6 .8h0m.1 1.2h0m.2-3.4h0m.2 3.5h0m.2 .2h0m.4-3.2h0m.2 2.7h0m0-2.1h0m.1 0h0m0 .6h0m.2 1.2h0m.5-1.3h0m.1-.1h0m.2-1.4h0m1 3h0m0-2h0m-283.9 5.7h0m1.4-.8h0m2.2-2.1h0m25.9-.1h0m241.3 1.1h0m.4-.3h0m.3 2.2h0m.2-1.1h0m.4-.7h0m.4 1.9h0m8.7-1.9h0m.2 1.1h0m.1-1.8h0m.4 1.5h0m.3 .2h0m.3 1.3h0m.2-3.5h0m.1 3.1h0m0-1.5h0m0 1.3h0m.2-.6h0m.1-1.3h0m.1 2.6h0m.1-2.8h0m.8 2.3h0m1-1.7h0m.5 1.1h0m1.5-.4h0m.1 .9h0m4.4-1.7h0m-287.4 2.9h0m267.2 .5h0m.3 2.5h0m.1-1.8h0m1-.5h0m0-.8h0m.2 2.7h0m0 .6h0m.1 .2h0m.2-2.4h0m.5 1.5h0m0-.3h0m.2 .9h0m8.2 .5h0m.1-3.2h0m.2 2h0m0 .8h0m.1-1.8h0m.3 1.7h0m.4-3h0m.1 3.3h0m0-.1h0m.1-1.6h0m.6-.6h0m0-.1h0m.2-.8h0m.8 2.9h0m1.7-1.7h0m-282.7 3.8h0m.1-.2h0m2.7 1.4h0m.1-.8h0m1.6 .2h0m.8-1h0m261.7 0h0m.1-.8h0m.9 1.3h0m.3-1.4h0m.1 2.7h0m.3-.1h0m.7 .6h0m.2-.6h0m.1-2.2h0m.1 3.1h0m.1-1.1h0m.1 .9h0m0-2.7h0m0 .7h0m.2 2.5h0m8.2-3.4h0m.6 1.6h0m1.1 .9h0m0-2.1h0m.1 3h0m.6 0h0m.1-2.1h0m.1 1.7h0m.2-3.2h0m.4 2.9h0m.3-.4h0m.9-1h0m.8 1.6h0m-291.9 1h0m1.7 3h0m.9-2.1h0m.7 .3h0m1.9-.1h0m.6-.3h0m.6 .4h0m0 0h0m1.5-.6h0m.9-.3h0m1.8 2.1h0m.2-2.5h0m.1 .3h0m.1 .4h0m.2 1.1h0m.1 .5h0m0-.6h0m1.1 1.8h0m1-1.2h0m.3 .6h0m.5-.7h0m4.1-.2h0m257.5-.8h0m.8 1.6h0m0-2.1h0m.1 1.1h0m.1-1.7h0m.4 2.4h0m.1-2.1h0m0 .6h0m.1-.2h0m.3 1.8h0m.5-2.7h0m.5 3.2h0m.1 .4h0m0-.5h0m0-.4h0m0-1.2h0m.1 .6h0m8.1 .8h0m.1-1h0m.1 1.4h0m0-3.4h0m.1 3h0m0-1.6h0m0 1.7h0m.4-1.8h0m.2-.6h0m.1 2.3h0m.1-2.2h0m.7 2.2h0m.1 .8h0m0-2.8h0m0 2.5h0m0 0h0m.2-2.5h0m.6 1.4h0m.1 1h0m0-2h0m-289.7 4.7h0m4.7-1.2h0m.3 .4h0m.3-.4h0m0 .9h0m.4-.9h0m.2 2.2h0m.7-1.6h0m.1 .5h0m.2-.7h0m0-1.3h0m1.9 3.6h0m.9-.7h0m.7-2.9h0m.3 2.7h0m.4 .8h0m.5-3.6h0m.5 2.1h0m0 .3h0m.2-.8h0m.4-.9h0m0 .7h0m1.4-.6h0m.5 3h0m0-1.3h0m2.4-1.2h0m1.8 1.2h0m257.9-.4h0m0-1.2h0m.5 2.6h0m.3-.7h0m.1 .2h0m.2-.9h0m0 1.7h0m.1-3.5h0m0 1.7h0m.1-1.8h0m0 2.9h0m0 .5h0m.2-1.7h0m.2-.1h0m.4 1.6h0m8.2-.3h0m.2-.6h0m0 .4h0m.4 .8h0m.1-1.2h0m.4-.4h0m.6-.9h0m.4 .4h0m.3 .3h0m.2-1h0m.2-.1h0m.6 3h0m0-2h0m.8-1.8h0m0 2.1h0m.4 0h0m1.8-.3h0m-295.3 2.9h0m4.3 .1h0m.6 1.5h0m0-1.9h0m.7 1.2h0m.4 2.3h0m.5-.6h0m1.2-3h0m.1 1.9h0m.1 .8h0m.2-1.5h0m1 .4h0m0 .6h0m.1-1.4h0m1.1 .4h0m.3-.2h0m.5 1.2h0m.6-1.3h0m.1 .6h0m.2 1.1h0m0-1.7h0m.2-.6h0m.3 1.2h0m1-.5h0m.6 1.9h0m.2-.7h0m.3-.2h0m.5 .9h0m.3 .3h0m1.1-2.1h0m.1 .5h0m.3-1.9h0m.2 3.5h0m.2 .5h0m.3 0h0m0-.7h0m.7-3h0m0-.2h0m.4 2.2h0m.1 1.3h0m259.1-1.8h0m.5 .3h0m.3 .7h0m.3-2.6h0m.5 1.8h0m.2-1.6h0m.1 .6h0m9 2.9h0m.3-1.1h0m.2 .7h0m.5-2.3h0m.2-.2h0m.1 1.3h0m0 1.3h0m.2-2.6h0m0 .9h0m0 .5h0m.6 .5h0m.2-.3h0m1.8-2.4h0m0 2h0m1.3-1.1h0m-298.2 5.8h0m6.4-1.3h0m1.1 1.7h0m.5-1h0m.6 1.6h0m1-1.2h0m.3 0h0m.3 1.1h0m.6-2.2h0m0 1.6h0m.5-2.2h0m.3-.8h0m.3 2h0m.1-1.7h0m.1 1.2h0m.1 .9h0m.2-2.1h0m0 1h0m.3 1.7h0m.2-2.4h0m.2 .8h0m0 1.5h0m.1-.9h0m.1-1.1h0m.6 .6h0m.1-.3h0m0-1.2h0m.3 .7h0m.3 .2h0m0-.4h0m0-.3h0m.1 0h0m.4-.1h0m.1 .3h0m6 .2h0m.1 1.7h0m.6-2.3h0m.5 .2h0m0 .2h0m.5 2h0m0 1.4h0m.2-.7h0m.1-1.1h0m258-.7h0m.9 1.1h0m.2 1.4h0m.5-3.3h0m.1-.3h0m0 .2h0m.6 3.3h0m.2-.7h0m.1-.5h0m.1-.1h0m.4-1.4h0m8.5-.7h0m1.5 3h0m.2-1.1h0m0 .6h0m.4-.3h0m.4 .5h0m.1 .2h0m.1-2h0m2 1.6h0m-298.8 2.3h0m3.4 1h0m1.7-1.8h0m.9 3.1h0m.5-1.6h0m.5-1.9h0m.6 2.3h0m.1 1.5h0m1.4-3.8h0m.7 1.1h0m.3 2.1h0m.1 0h0m.5 .6h0m.1-.2h0m.6-3.2h0m.2 2h0m.1-1.4h0m0 1.8h0m.4 0h0m.1-.9h0m.2 .6h0m.2 1.1h0m.1-.1h0m0-1.1h0m.4-1.2h0m.3-.2h0m.4-.4h0m9.1-.1h0m.2 2.1h0m0-2.3h0m0 1.4h0m1 1.5h0m.8-3h0m.8 3.7h0m.5-.2h0m1.2-3.5h0m253.6 3.5h0m.6-1h0m.9 .8h0m0-3.2h0m.1 3.6h0m0-1.3h0m.1 .8h0m.5-1.4h0m.1-.8h0m0-1h0m.1 2.5h0m.1-.3h0m.2-1.8h0m.3 2.2h0m.2 .4h0m.4-2.3h0m.1 1.5h0m.1-.2h0m8.9 1.2h0m.2-.2h0m.2-3h0m.2 3.5h0m.1 0h0m.2-1.4h0m.1 .5h0m0-2.8h0m.1 2.7h0m.2-.5h0m0 1h0m.9-1.6h0m.5-.5h0m.9 .9h0m4.6-1.7h0m-303.7 7.4h0m4.8-1.4h0m1.1 0h0m.2 1.3h0m.6-3.1h0m.3 2.9h0m.2-.8h0m1.9-2.2h0m.3 1.2h0m.2 1h0m.3-1.5h0m.5 .2h0m.2 2.4h0m.2-.5h0m.7-1.5h0m0 .1h0m.2 .8h0m.1-1.5h0m.1 .3h0m.2 .8h0m0-2.1h0m.2 2.6h0m.4-.6h0m0-.9h0m.1 2.3h0m.1-1.1h0m.4 .4h0m.4-2h0m0 .2h0m.3-.3h0m.2 .2h0m.5-.6h0m10.8-.2h0m.1 1h0m.1 1.7h0m.3-1h0m.7 1.6h0m.1-.5h0m.1 .3h0m3.8-1h0m250.9 1.1h0m.2-.4h0m1.2 .9h0m.2-2.7h0m.5 1.9h0m.2-2.2h0m.8 2.2h0m.2-1.3h0m.1-.9h0m.1 1.1h0m.1 .5h0m.4-.7h0m8.8 .7h0m.8-.5h0m0-1.4h0m.1 3.1h0m.2-1.5h0m0-2h0m.1 3.7h0m.3-1.6h0m.1-1.7h0m.1 3.4h0m.1-3h0m.1-.8h0m.7 .6h0m.6-.3h0m.3 0h0m2.3 1.3h0m.5 1.3h0m2-1.6h0m-301.3 4.2h0m2.8 1.6h0m.9-3.3h0m.1 3.5h0m4.1-.7h0m0-.7h0m0-1.2h0m.4 .6h0m1-1.2h0m.1 1.7h0m0-1.1h0m0 2.2h0m0-2.4h0m0 2.7h0m.3 .4h0m.8-3.4h0m.2 1.9h0m14 1.3h0m0-3.5h0m.2 1.7h0m.8 1.9h0m.5-.4h0m.2-2.6h0m.2 3.1h0m.1-1.4h0m.3-.3h0m.8-.8h0m.3-.9h0m250.7 1.9h0m2-.4h0m.1 1.2h0m.1-3.1h0m.2 1.2h0m.7-.1h0m.2 1.4h0m.5-1.2h0m.3-.1h0m.2 .1h0m8.7 2.2h0m.3-.9h0m.1-1.3h0m.2 .1h0m.1 1.4h0m.2-.2h0m.5 .9h0m.2-2.4h0m.7 0h0m.8 1.7h0m.5-1.4h0m.4-.5h0m1.4 3.1h0m.5-.1h0m.5-.9h0m.2 .4h0m.1-2.2h0m-298.4 4.7h0m.6-1h0m.2-.3h0m3 1.4h0m1.2 .3h0m.6-1.4h0m.1 2.6h0m0-1.3h0m.7-.8h0m.6 2.2h0m.1-3h0m.1 2.2h0m.5 .2h0m0 .1h0m.1-.2h0m.2-1.6h0m.5-.8h0m.5 1.2h0m.1 .8h0m.1 .3h0m.3-2.4h0m15.3 1.6h0m.2-1.8h0m.2 .5h0m.8 3.3h0m0-1.8h0m.2 .6h0m.1-.7h0m0 .7h0m.1-2h0m.3 2.7h0m0-1.2h0m.2-2.2h0m.1 2.1h0m.4-1.8h0m.2-.1h0m250 2.4h0m.3-2h0m.1 2.1h0m.4 .7h0m.7-2.9h0m.1 .7h0m0 1.5h0m.2-2.2h0m.7 1.2h0m.4-1.3h0m.5 2.5h0m.1-1.8h0m0 1.1h0m.4-1.3h0m.2 .4h0m9.6-.6h0m0 1.4h0m.1 1.6h0m.3 .1h0m.2-3.4h0m.3 .6h0m0 2h0m.4-.8h0m.1 1.2h0m.1-1.3h0m.1 .4h0m.5 1.3h0m.2-3.4h0m.5 2.2h0m.2-1.3h0m.2 0h0m1.5-.1h0m.6-.7h0m-291.5 6.8h0m.4 .6h0m.2-3.7h0m.1 2h0m.2-.2h0m.9-1h0m0 .7h0m.6 .6h0m.3-2.1h0m.4 1.2h0m.1 1.4h0m.1-2.1h0m0-.2h0m.1-.1h0m.3 1.6h0m16.2-.1h0m.2 1h0m0-2.6h0m.1 1.4h0m.1 1.2h0m.1 .1h0m.1-1.9h0m.1 1.9h0m.3-.4h0m.1 .3h0m.1-.5h0m.4 .5h0m0-1.5h0m.2-1.1h0m.2 3.6h0m.2-1.3h0m249.4-.5h0m.1-.3h0m.3-.1h0m.2 1.2h0m.4 .5h0m.3 0h0m.3-.3h0m1-.2h0m.2-1.5h0m.1 .4h0m.4-.4h0m.7-1.1h0m10.3 1.7h0m.2-.3h0m.2-1.6h0m0 0h0m.4 3.2h0m.1-.2h0m0-1.5h0m.6 1.4h0m.1-.5h0m.2 1.4h0m.6-4h0m.4 2.2h0m2.3-1.8h0m1-.1h0m-301.7 7.2h0m5.2-1.1h0m.9 .3h0m.3 .2h0m1-2.3h0m.4 2.3h0m.8-1h0m.9 .6h0m1.4-.3h0m1.2-1.1h0m.1 1.7h0m.1-2.2h0m.4 2.1h0m.2-1.3h0m.1 1.6h0m.1-1.4h0m17.1 .4h0m.1-.9h0m.4 1.8h0m.1 .4h0m0-2.6h0m.1 2.2h0m.2-1.4h0m.3-1.3h0m.3 .4h0m.1-.4h0m.2 3.2h0m.1-2.2h0m0 2.7h0m.3-1.4h0m.3 1.5h0m.6-.7h0m1-2h0m243.5 2.7h0m1.3-1h0m1.5-2.7h0m.8 2.4h0m.1 .7h0m.1-.5h0m.2-1.8h0m12 1.3h0m.2 1.1h0m0-1.3h0m.1-1.4h0m.5 1.7h0m.1-2.5h0m0 2.8h0m.1 .7h0m.3-3.1h0m0 2.4h0m.2-2.1h0m0 1.2h0m.2-1.5h0m.1 2h0m.3-.6h0m.3 .1h0m.2-.2h0m.4-1.3h0m1.2 1.1h0m.5-.2h0m.7 1.4h0m1.9 .9h0m-293.5 3.7h0m.4-.5h0m.6-1.6h0m.3 2.7h0m1.6-3.2h0m.3 2h0m.1-2.4h0m.1 1.8h0m.5-1.6h0m.6 3h0m1.4-2.8h0m.3-.3h0m17.4 3h0m.4-.3h0m.5-2.1h0m.1 1.7h0m.1-2.2h0m.1 2.5h0m.1-1.4h0m.1-1.4h0m0 1.2h0m1.1 1.9h0m.2 .3h0m.5-1.2h0m.1-1.7h0m243.6 3.2h0m.7 0h0m.4-1.5h0m0-.1h0m.2-2h0m.1 1.4h0m.2 .4h0m0-2h0m0 1h0m.4 .1h0m.3 2.1h0m.3-3.1h0m.8 .3h0m.2-.2h0m11.1 2.8h0m.3-2.2h0m.5 1.3h0m0-1.8h0m.2 .9h0m.2 2.7h0m.2-3.2h0m0 1.7h0m.1 .9h0m.5-.7h0m.2-.8h0m.2 .8h0m.2 .1h0m0-2.5h0m.1 1.1h0m0-.2h0m.8 .3h0m.7 .6h0m.2 .1h0m1.3-1.6h0m1.3 1.2h0m-295.9 4h0m1.8 1.1h0m1.4-2.6h0m1.1 3.4h0m.4-.7h0m.2 .3h0m1.2-1.3h0m1.2 .8h0m.4-1.5h0m.1-.2h0m.4 2.1h0m.2-2.4h0m.1 1.2h0m.7-.6h0m.1 .4h0m0 1.3h0m.7-2.2h0m17.8 .8h0m.3 0h0m.1 .9h0m.2 .6h0m0-2h0m.3-1.1h0m0 1h0m0 2.1h0m.2-1.5h0m0 .6h0m0-2.3h0m.8 2h0m.1 .2h0m.3-2.1h0m240.1 3h0m1.1-.7h0m1.2-.5h0m.1 .8h0m.1 .8h0m0-.2h0m.4-3.1h0m.1 3.6h0m.6-.4h0m0-2.5h0m.1 0h0m.2 1.3h0m.3-.5h0m.8 .2h0m0-1.8h0m0 .9h0m.8-.9h0m12 .6h0m0 2.5h0m.8 .4h0m.1 0h0m.1-2.2h0m0 1.5h0m.1-2.8h0m.3 2h0m.1-1.1h0m.1 2.6h0m.1-2.9h0m.5-.1h0m.5-.4h0m-287.4 6h0m.6 .8h0m.9 .7h0m.4-1.6h0m1 1.2h0m.5-2.6h0m.2 .2h0m.6 2.9h0m.5 .1h0m.4-2.5h0m.1 .2h0m.4 .8h0m.2-2.2h0m.2 2h0m.4 .5h0m0 .4h0m.6 .1h0m.9 .7h0m0-1.8h0m.1 .6h0m17.3-2.6h0m1.1 3.7h0m.6-2.3h0m0-.9h0m0-.4h0m.7 1.4h0m0 .9h0m.1-1.2h0m.2 .2h0m236.1 2.4h0m.7-1.2h0m.5-1h0m.3 .9h0m.1 .6h0m.7 .2h0m.1 .5h0m.4-1.8h0m.2 1.7h0m.1-2.6h0m.4 2.4h0m.1-1.3h0m0 .9h0m.2-2.5h0m.1 .8h0m.1-.2h0m.1-1.1h0m.3 .7h0m.6-.3h0m13 3.3h0m.5-1.9h0m.2-.2h0m.2 1.3h0m.5-1.2h0m.1-.8h0m.1 .8h0m0 .4h0m.4 .3h0m.2-.2h0m.2-2h0m.8-.2h0m.2 3.6h0m.9-2.4h0m1.6 .2h0m.6-.5h0m.2-1.1h0m1.6 1.5h0m-294.7 3.8h0m1.1 .8h0m2.2-.8h0m0 1.7h0m.8 .8h0m1.1-.7h0m1.7-2.2h0m.3 2.8h0m0-3h0m1.3 .6h0m.9-.4h0m.1 .8h0m.2 0h0m0-.9h0m.9 2.2h0m.2-.4h0m0 .6h0m.6-2.5h0m.1 1h0m.2 .4h0m.1-1.7h0m.1 2.7h0m0-1.7h0m.8 .3h0m.2 1.3h0m18.5-2.1h0m.1 1.6h0m.4-.7h0m1.7 2.1h0m.3-1h0m232.7 1h0m.6-.1h0m.6-.7h0m.1-1.2h0m0 1.2h0m0 0h0m.3-.7h0m0 1.2h0m0-2.2h0m.4 2.3h0m0-1.9h0m.2-1h0m.1-.1h0m0-.2h0m.2 2.9h0m.2-.8h0m.2 .5h0m.2-2.2h0m0 1.7h0m.1-.8h0m.5-1.4h0m.2 1.9h0m.5-2.3h0m.8 .4h0m.1-.2h0m12.1 3.3h0m.3-.4h0m.1-.1h0m.1 .4h0m.5-.4h0m.3 1h0m.9-2.1h0m0-1.8h0m.2 0h0m.4 1.6h0m.3-.2h0m.2 2.1h0m.3-.9h0m.2-1.8h0m-283.6 5.5h0m1.1 1.2h0m.2-2.9h0m.8 2.6h0m1.2 .3h0m1.4-3.1h0m.2 1.6h0m.4 .5h0m.1-1.3h0m.5 1.1h0m.3-1.9h0m.1-.1h0m.4 .7h0m0 1.6h0m.4 .7h0m.2-1.9h0m0 1h0m.1-.5h0m.2 1h0m.2-.2h0m0-2.6h0m.4 2.7h0m.9 .9h0m0-3.7h0m.3 .9h0m19.1 .5h0m.3-.1h0m0-.5h0m0 1.3h0m.1-.2h0m.2 .2h0m.3-.3h0m.3 .9h0m.2 .8h0m0-3.1h0m.2 .4h0m.1 1.2h0m.1-.1h0m0-.7h0m0-.1h0m.3 2.2h0m0-.4h0m.7 .2h0m.3-2.7h0m.5 3.3h0m0-3.7h0m.3 3.8h0m.3-1.4h0m.6 .5h0m.5 .9h0m224.6-2.4h0m.3 .1h0m.5 2.1h0m1.6-1.9h0m.1 1.8h0m.1-2h0m.5 1.1h0m.2 .8h0m.1-1.7h0m.1 1.1h0m0-.5h0m.3-1.3h0m.3 1.2h0m.8-2.1h0m0 1.7h0m.1-.7h0m.4-1.1h0m13.5 3.8h0m.8-.9h0m0-.5h0m.1 1h0m.1-.1h0m.3 .6h0m.3-1.6h0m.2 1h0m.5-1.6h0m.3 .1h0m0-.7h0m.1-.3h0m.3 2h0m.1-.2h0m.4-.4h0m1.4 .7h0m.7 .5h0m.8-.2h0m.5-1.2h0m.3-.9h0m.3-.3h0m.1-.5h0m-288.7 6.1h0m8.5 .9h0m.7-2.4h0m.6 .6h0m.3-.8h0m.3 2.8h0m.3-2.5h0m1.4 2.9h0m.1-1.4h0m.1-.4h0m.5 .9h0m.3-2.9h0m0 2.8h0m.2 .2h0m.1-2.8h0m.4 .5h0m.5 .7h0m.2 .8h0m0-1.9h0m19.6-.2h0m.7 .9h0m.1-1.2h0m.4 .4h0m.2 0h0m.1 .3h0m.3 1.9h0m.2-2.2h0m.2 2.4h0m.4 .6h0m.1-.8h0m.4 .3h0m.3-.5h0m.5-.6h0m.1 1.8h0m220.7-.9h0m.9-1h0m.2 1.2h0m.2 .1h0m.2 .9h0m.2-.1h0m.1-1.2h0m0-.6h0m.8 .6h0m.1 1h0m.3-2.7h0m.5-.7h0m.1 1.3h0m0-.6h0m.1 1.8h0m.2-2.4h0m.2 1.4h0m.1-1.3h0m.1 1h0m.6 .2h0m14.6 1.9h0m1-.7h0m1.1 .6h0m.3-1.5h0m.1-1.6h0m.3 2.1h0m.1-.9h0m0-1.1h0m.1 .7h0m0 1.3h0m.6-1.2h0m.1 2.1h0m0-1.6h0m.4 0h0m.4-1.3h0m0 1.5h0m.2 2.1h0m0-.4h0m.1-1.4h0m1.2-1.9h0m.7 .7h0m3.6 .8h0m-284.4 3.7h0m3.3 1.1h0m3.4 .5h0m.7-.5h0m.1 .1h0m.1 1.2h0m.1-2.6h0m2.3-.9h0m0-.2h0m.1 .1h0m.1 1.6h0m0-1.3h0m.2 .7h0m0 1h0m.1-2.3h0m.3 2.6h0m.1-.6h0m.4-.6h0m0 .3h0m.1 1.9h0m2.2 .2h0m20.2-3.7h0m.1 1.2h0m.1 .2h0m.1-.2h0m.5 0h0m.2 .4h0m.7 1.3h0m.4-.3h0m.1-1.2h0m.2 .7h0m.3-.4h0m.2-.6h0m.8 1.5h0m.1-2.3h0m0 2h0m.3 1.2h0m.5 .3h0m.2-.4h0m.1 0h0m1.3 0h0m.2 .4h0m206.9-.6h0m2.6-.6h0m.5-.8h0m1.7 1.9h0m0 .1h0m.3-1h0m.1-.9h0m.1-.1h0m.2 .6h0m.2-.1h0m.2 1.1h0m.6 0h0m.5-1.5h0m.7-1h0m17.1 2.9h0m.5-1.8h0m.1-.4h0m.2 .3h0m.7 1.4h0m0 0h0m0-.4h0m.1-.2h0m.2-2.2h0m.1-.2h0m.6 2.2h0m0-.7h0m.5 1.6h0m.1-.9h0m.1-.8h0m.1 .6h0m.1-1.8h0m0 1.4h0m.2-1.6h0m.5 .8h0m.6 .6h0m1.1-1.7h0m1.2 .1h0m2.3 .3h0m-278.5 3.8h0m1.4 2h0m4.4-.3h0m.9 1.2h0m.6-.6h0m.1-.8h0m.4-.3h0m.6-.3h0m1.1 1.4h0m.3-2.1h0m.1 2.7h0m.3-1.4h0m.7 2.2h0m.3-2.6h0m.5 .9h0m0 .1h0m0 1.3h0m1.2-1.2h0m.8 1.5h0m19.9-4h0m.9 .9h0m.3-.2h0m.4 .3h0m.6-.5h0m.7 2.5h0m.2-1.4h0m.2 .4h0m0-.7h0m0 .6h0m.3 .5h0m.4-1.2h0m.1 .2h0m.4 2.6h0m.1-2.4h0m.6 1.5h0m.8 .2h0m.1 .5h0m.1-2.1h0m1 2.1h0m201.3-.5h0m.6-.3h0m1.6 1h0m.7-1.2h0m.5 .6h0m.3 .4h0m0 0h0m0-.3h0m.1-1.3h0m.9 .1h0m.2 .5h0m0-.2h0m.3-.8h0m.4-.7h0m.6-.7h0m1.6-.1h0m14.2 3.6h0m3-2h0m0-.2h0m.3-1.4h0m.2 .7h0m.2 1.3h0m.1-1h0m.1 2.1h0m0-.4h0m.2-.6h0m.3 1.4h0m.2-1.6h0m.3 1.7h0m0-3.1h0m.3 3h0m.1-1.8h0m.9-1.7h0m.1 1.7h0m.4 .9h0m2.6-1.2h0m.1-.4h0m-269.9 5.5h0m5-.9h0m.2 1.7h0m.2-2.5h0m2.1 .6h0m.3-.3h0m.3 .4h0m.1 .2h0m.5 .6h0m.2-2.3h0m.1 1.8h0m0-.3h0m0-.9h0m.8 2.1h0m.2-.5h0m.3-1.9h0m.1 2.1h0m0-.1h0m.3 1.2h0m.1-2.7h0m.2-.4h0m.5 3.2h0m.2-.5h0m.1 .4h0m.2-.3h0m.7 .1h0m1.2 .2h0m21.2-3.5h0m.4 1h0m.2 0h0m.2-.4h0m.2 .9h0m.3-1.7h0m.2 1.7h0m.1-1.6h0m.5 1.5h0m.3 .5h0m.5 .3h0m.3-.4h0m.1-.5h0m.3 1.4h0m.3 .4h0m.5-.8h0m0-.3h0m.2-.2h0m.5 .6h0m.3-2.5h0m.2 3.1h0m.5-.2h0m3 .7h0m187.7 0h0m3.7-.1h0m0 0h0m.3-.5h0m.1-1.2h0m.4 1.9h0m.2 0h0m.1 0h0m.6-1.5h0m0 .4h0m.6-.4h0m0-.1h0m.2-1.8h0m0-.1h0m.1 0h0m0 3h0m.1 .4h0m.2-2.2h0m.1 1.3h0m.1-1.7h0m0 1.3h0m.1-.2h0m.2-.2h0m.2-1.9h0m.3 .7h0m0 1.6h0m.2-.3h0m.1-1.7h0m0-.3h0m.5 1.6h0m.8-.9h0m.8-.3h0m16.3 3.1h0m.6-1h0m.3 .9h0m.9-1.4h0m.2 1.3h0m.3-.7h0m.1-2.7h0m.1 .1h0m0 3h0m.7-2h0m.1-.9h0m.7 .2h0m0 .1h0m.3 1.8h0m1.5-1.4h0m1.2-.9h0m1.6 .7h0m-263.7 5.1h0m2.1-.3h0m1.2 1.3h0m.1-2.5h0m.6 .4h0m1.5 1.4h0m.3 1.4h0m.2-.5h0m.6-2h0m.6 .1h0m.3 1.3h0m.9-1.9h0m1.5 1.7h0m.1-1.1h0m.9 .6h0m.4 .8h0m.2 .5h0m.3 .5h0m.3-1.7h0m.4-.3h0m.4 1.8h0m.1 0h0m.1 .6h0m.4-.6h0m24.9-2.7h0m.2 .5h0m.4 1.1h0m.1-2.3h0m.4 .9h0m.2 .4h0m.1 1.6h0m.3-1.8h0m.1 1.8h0m0 .2h0m.5-2.6h0m.1 2.8h0m.3-.4h0m.1 1h0m.3-1h0m.3 0h0m2.7 .8h0m182-.4h0m.7-.3h0m1 .3h0m1.2-.4h0m.6-.3h0m.1 1h0m.1-2.3h0m.1-1h0m.2 .5h0m.3-.3h0m.3 2.7h0m.2-.2h0m.9-2.6h0m.4 .1h0m.1-.2h0m1 .9h0m0-.5h0m17.7 3h0m.7-.7h0m0 .5h0m.2 .5h0m.2-2.7h0m0-.3h0m.2 .1h0m.1 .7h0m.1 2h0m.4-1.1h0m.1-1.9h0m.1 3h0m.1-2h0m.4 .1h0m.3-1.2h0m.1-.2h0m.1 1.7h0m.5 .6h0m.1-2.5h0m0-.2h0m-249.8 7.7h0m.1-2.3h0m.1-1h0m2.2-.1h0m.8 2.8h0m2.1-.3h0m.3-1.9h0m.2-.7h0m.1 3.3h0m.6-.4h0m0-.2h0m.2-1.9h0m.1-1.1h0m.5 1.1h0m.1-.1h0m.1-1h0m.6 2.7h0m.4-.6h0m.1 .8h0m.1 .1h0m.2-2.6h0m.1 2h0m0 .6h0m.7-1.5h0m.1 .2h0m.2 .3h0m.3-2h0m.5 3.7h0m.1-1.3h0m.1-.7h0m.4 1h0m1.1 1.1h0m.3-1.9h0m1 .8h0m0 .6h0m.4-.2h0m21.8-2h0m0-.2h0m.6-.2h0m.2 .3h0m.5-.5h0m.1 1.8h0m.2-1.9h0m.6 1h0m.6 2.1h0m.6-.5h0m.4 0h0m.4-2.3h0m.2 1.5h0m.1 .2h0m.5 1.1h0m.1-.1h0m.5-.4h0m.1-.8h0m171.6 1.7h0m1.7-1.2h0m0 .2h0m1 .6h0m1.4-1.6h0m.3 .1h0m.1 1.1h0m.3 .4h0m.1-1.4h0m.1 .2h0m.8-.3h0m.4 .8h0m.4-2.1h0m.6 1.6h0m.2 .3h0m.5-2.1h0m0-.2h0m.4 1.9h0m.4-2.1h0m.6 .6h0m0 .1h0m.1 .8h0m.3-1.4h0m.9 .5h0m16.4 3.2h0m.3-.6h0m.1 .7h0m.5-.7h0m.5-.8h0m.3 1h0m.1-.7h0m.1-1h0m0 .8h0m.3-.3h0m.2 .7h0m0-.8h0m.1-.8h0m.2 1.6h0m.1-.5h0m.1-1.1h0m.2-.2h0m.2-.3h0m.5 .9h0m.2-1.1h0m.3 .9h0m.2-.9h0m.1 .9h0m.2-.3h0m.8-1.1h0m1.1 1.1h0m3.3-1.3h0m-243 4.5h0m1.4 1.3h0m.2 1.6h0m.2-.8h0m.7 0h0m0-2.1h0m.3-.1h0m1.4 .6h0m.3-.1h0m.6 1.1h0m.5-1.3h0m0 2h0m.1 1.2h0m0-1.8h0m.2-.2h0m.1 2h0m.6-3.1h0m0-.2h0m.5 2.7h0m.2-.7h0m.1-.9h0m.5-.7h0m0 1.2h0m1.3 1.3h0m.3 .3h0m1.1-1.7h0m0 .6h0m1.3 .6h0m1.5 .5h0m20.2-2.7h0m.9 .4h0m.1-1.1h0m.3 .7h0m.1-.7h0m.3 .1h0m0 .3h0m.1 .3h0m.1 .6h0m.2 .1h0m0-.8h0m.2 1.6h0m.1-1.7h0m.2 2.3h0m0-.3h0m.1-.8h0m0-.8h0m.1 .7h0m.3-.6h0m1.6 1.5h0m.4-.2h0m.6 .8h0m.6 .1h0m1.8 .2h0m3-2.5h0m157.4 2.1h0m.4 0h0m1-1.2h0m0 .8h0m.3-1.4h0m.4 1.3h0m.1-.7h0m0 .6h0m.4-.5h0m0-1.3h0m1.5 .4h0m.6-.4h0m0 .9h0m.2 0h0m.6 .3h0m.1 .1h0m.2-.8h0m.1 .5h0m.1 .7h0m.5-1.2h0m.2-.9h0m.9 1h0m0-1.6h0m.7 .1h0m17.6 3.8h0m.5-.4h0m1.7-1.6h0m0 .7h0m.1 1.1h0m.1 .2h0m.2-.6h0m.3-1.3h0m1.1 .4h0m.4-.7h0m.2 1h0m.3-.9h0m.1 2h0m.5-3.2h0m.2 1.3h0m0 .2h0m.2-.9h0m.5 .4h0m.1 .5h0m.3-1.2h0m2.1 .4h0m.4-1.2h0m-237.7 4.2h0m1.7 1.1h0m3.2-.8h0m1.7 1.2h0m.5 1.2h0m.9 .7h0m.1-1.4h0m.9 0h0m.9-1.5h0m.3 .2h0m.9 .9h0m.3-.5h0m.5-.6h0m.3 2.1h0m.3-1.8h0m.3 1.3h0m.3-.5h0m.2-.8h0m.3 1.8h0m.3-1.5h0m0 2.3h0m0-3.3h0m.5 3.4h0m.1-.3h0m.8-.3h0m.3-1.6h0m.2 1.4h0m.5-.6h0m.8 1.5h0m.3-1h0m.4 .9h0m.4 .1h0m21.2-3h0m.6 .7h0m.1-.1h0m.1-1.2h0m.6 0h0m0 1.8h0m.7 .3h0m.3 .5h0m.2-2.2h0m.1 2.1h0m.5 .2h0m.1-.9h0m.1-1.2h0m.2 .5h0m0 .5h0m.7 .5h0m.1 .4h0m.4 0h0m.5 .9h0m.1 .2h0m.3-.6h0m.8 .7h0m.4-.7h0m.3 .2h0m.7 0h0m1.2 .4h0m145-1.1h0m.6 .3h0m1 0h0m.3 .5h0m.7-.9h0m.3 .9h0m.7-.5h0m.2-2.6h0m.1 3.4h0m.4-.9h0m.9-1h0m.6-1.3h0m.2 3h0m.2-2.3h0m.1 .1h0m.1 1h0m.4-1.9h0m.1 1.3h0m.1 .7h0m1.6-.6h0m0 .2h0m.3-1.7h0m.6 .3h0m.5-.5h0m19.4 3.6h0m1.2-1h0m1.8-.6h0m.3 1.6h0m0-2.6h0m0 2.3h0m.1-.3h0m.1 .5h0m0-.2h0m.3 .3h0m.4-2.1h0m.8-.9h0m0 2.4h0m0-.8h0m.2-2h0m.2 1.6h0m.1-1.1h0m0 1.5h0m.2 1.3h0m.2-1.3h0m.3-2.1h0m.3 3.3h0m.2 0h0m0-3.4h0m1.1-.3h0m1.5 .6h0m1.6 .2h0m2-.6h0m4.2 0h0m-234.2 5.3h0m3 .7h0m.4-1.6h0m1.9 .1h0m.8 .5h0m.7 1.6h0m1.1-2.5h0m.1-.2h0m0 0h0m.8-.1h0m.3 1.3h0m0-.1h0m.2 1.4h0m.1-2.4h0m.6 3h0m.5-2.3h0m.8 .2h0m.1 2.4h0m.1-3.3h0m.6 .7h0m0 0h0m.3 .5h0m.1 .3h0m.2 .2h0m.2-.3h0m.1 1.4h0m.3 .2h0m.3-3.1h0m.5 3.8h0m0-3.5h0m0 2.2h0m.1 1.2h0m0-1.7h0m.2-.1h0m.3 1.5h0m.2-.4h0m.5 0h0m0 .7h0m.2-.2h0m0-1.6h0m0 .7h0m.3 .1h0m1.8 1.2h0m0-.8h0m20.2-2.7h0m1.9-.3h0m.5 .9h0m.1 .1h0m.2-.9h0m.5 1.7h0m.4-.3h0m.5-1.6h0m.8 1.5h0m.6 .6h0m.1 .3h0m.3 0h0m0 1.2h0m.1-.5h0m0-1.7h0m.6-.6h0m1.2 2.7h0m1.1 .1h0m.2-.9h0m.8 .9h0m.3-.2h0m.2-1.3h0m.5-.4h0m128 1.9h0m1.1 .3h0m3.2-2.4h0m1.5 1.6h0m.7-2.4h0m.1 2.9h0m.3-.2h0m0-.3h0m.1-1.4h0m.4 1.5h0m.1-2.2h0m0 .5h0m.1 .7h0m1.2-.2h0m0 1h0m.5-2.3h0m0 2.1h0m0-2.2h0m.5 1.5h0m.7-1.3h0m.1 .7h0m.1 .4h0m.4-.8h0m.6-.4h0m.2 .7h0m.4-1.2h0m.1 .3h0m.5 .1h0m.4-.1h0m.4 .6h0m.4-.4h0m19.7 2.9h0m2 0h0m.8-1.7h0m.5 1.4h0m1.2-1.3h0m0 .5h0m.7 .4h0m.7-1.5h0m.6 .4h0m.2 .5h0m.2-.5h0m0 .5h0m.1 1.6h0m.3-1.9h0m.2 0h0m.2-.8h0m.2-1.3h0m.1 1.3h0m.2-.6h0m2 0h0m.7 1.3h0m1.2-.5h0m.6 1.6h0m-220.8 1.2h0m2.1 .3h0m.5 1.8h0m3.4-1.6h0m6 .4h0m.2-.8h0m1.2 .7h0m.4 2.4h0m.2 .4h0m.1-2.9h0m1.2-.9h0m.4 0h0m.1 1.8h0m0 1.7h0m.3-1.5h0m.4 1.8h0m.8-1.7h0m.4 .7h0m.1-1.7h0m.1 2.4h0m.2 .3h0m1.2-1.6h0m.6 1.7h0m.2-.9h0m21.7-3.1h0m1.3 .5h0m.4 .3h0m.7-.4h0m.8 1.3h0m.4-.9h0m.1 .4h0m0 .7h0m.7 .3h0m.7 .2h0m.9-2.3h0m0 2.2h0m.4-.5h0m0-1h0m0 1.6h0m.5 .3h0m.3-.2h0m.1 .4h0m0 .4h0m.1 .6h0m.2 0h0m0-.6h0m0-1.7h0m.4 1h0m.4-1.5h0m.2 1.2h0m0-.6h0m.4 1.9h0m.9 .4h0m.4-1.6h0m1 1h0m.7 .4h0m.7-.4h0m1.3-.2h0m.1 0h0m1 .7h0m106.1-.2h0m.8-.4h0m1.9 .2h0m1.5 .2h0m.4-.7h0m1.5 .4h0m.6 .5h0m.2-.6h0m.4-.2h0m.2-.4h0m.5-.5h0m.6-.4h0m.4 2h0m.2-2.8h0m0 .1h0m.9 2.2h0m0-1.3h0m.1-.1h0m.4-1.3h0m.4 1.9h0m.4-1.7h0m0-.8h0m.1 1.8h0m.7-1.1h0m.5-.6h0m.1 2.1h0m.1-1.8h0m.3 1.4h0m.3 .3h0m.1-1.7h0m.4 .9h0m0-.1h0m.3-.3h0m0-.4h0m0 .4h0m.1 .8h0m.1-.8h0m1.4-.2h0m1.7-.7h0m22.2 2.6h0m.5 .3h0m.6 .6h0m1-1.7h0m.2-.2h0m.1 1.4h0m.8-1.4h0m.1 1.4h0m0 .9h0m.1-2.9h0m0 1.4h0m.1 .9h0m.2-.5h0m.2-.5h0m.2-.8h0m.1-.5h0m.3 1.2h0m.2 1h0m.1-.7h0m.1-.8h0m.2 1.9h0m.2-.7h0m.7-1.6h0m0 .4h0m.5-.5h0m.5 .2h0m.3-.5h0m.7-.7h0m.3 .3h0m.2 1h0m.1-1h0m.1 .8h0m.6 0h0m2.4 .6h0m-210.1 2.5h0m4.5 .6h0m.2 1.6h0m2.6-.2h0m.3-1.5h0m3.9 2.1h0m.2-2h0m1.5 .3h0m1.5 1.5h0m.2 .7h0m.2 .4h0m.4 .1h0m.3-3.7h0m0 1.5h0m.2 1.1h0m.3-1.3h0m.1 1h0m0-1.3h0m.3 .7h0m0-1h0m.4 2.3h0m.5-1.2h0m.1 0h0m.6 1.4h0m0-.4h0m.2 .4h0m.4-1.6h0m0-.2h0m0 .6h0m.9 1h0m.2 .4h0m.6 .2h0m.2-1.4h0m.1 .1h0m.4 .1h0m26-2.7h0m.7 1.2h0m.7 .5h0m.5-1.4h0m.1 .6h0m.2 .5h0m0-1.3h0m.1 1.2h0m.4-.5h0m.4-.6h0m.4 1.7h0m.5 .7h0m.3-.5h0m.1 0h0m0 .8h0m.5-2h0m.1-.5h0m.1 2.5h0m.1-1.1h0m.4 1.1h0m.9 .3h0m.1-1.7h0m1 1.1h0m.3-.4h0m.1 0h0m.2-.9h0m.7 .7h0m.1 1.2h0m.4 .7h0m.3-1h0m.6-.1h0m1.4-1.3h0m.1 1.8h0m.1-.1h0m.4-2.2h0m0 2.3h0m1.3 0h0m.1 .4h0m.1-.7h0m.5 .7h0m.2 .2h0m1.3-1.1h0m.8-.5h0m.6 1h0m.4-.3h0m.4 .1h0m14.2 .9h0m65.8-.9h0m.9 .5h0m0-1.3h0m.7 .8h0m1.7 0h0m.7-.1h0m.8 .2h0m.2-.2h0m0 .1h0m.9 .2h0m.6-.4h0m1 .1h0m.9-.1h0m.5-.9h0m.2 1.8h0m.2-2.2h0m.3-.3h0m.3 1.4h0m.6 .4h0m.2 .2h0m.1-1.5h0m.3 1.5h0m.4-1.3h0m.1 .8h0m.3 .6h0m.8-1.1h0m.1-1.2h0m.6 1.7h0m0-1.6h0m1.1 0h0m.2 1h0m.1-.3h0m.3-.5h0m0 .1h0m0 .9h0m.4-.7h0m.2-1.2h0m.1 1.6h0m.1-.5h0m.4-1.4h0m.4 .1h0m.4 .7h0m.2-.2h0m.2-.8h0m.8 1.3h0m.2-1.1h0m.4 .7h0m24.2 2.4h0m.6-.4h0m.2 .9h0m.1-1.2h0m1.4 .1h0m.2 .7h0m.5 .2h0m.9-2.2h0m.5 1.6h0m.2-1.2h0m.5 1.3h0m.1-1h0m.3-.8h0m0-.4h0m.1 1.5h0m.3-1.9h0m0 1.9h0m.2 0h0m.3-1.2h0m.1-.2h0m.5 2.8h0m.5-1.3h0m.3-1h0m.3-1.4h0m.5 .8h0m.5 .8h0m.1 .5h0m0 .8h0m.7-2.1h0m.1 .1h0m.4 .4h0m.6 .2h0m.1-.6h0m0 .2h0m1.1-.2h0m.4 0h0m5.3 .3h0m-192.4 3.6h0m.3-.7h0m2.5 2.4h0m.6-2.3h0m.1 .3h0m.8 2.8h0m.1-2.6h0m.3 1.6h0m.1-.3h0m.6-.7h0m0 2.5h0m.2-1.5h0m.3-.5h0m.3-1.3h0m.9 2.5h0m.1-2.9h0m.4 .9h0m0 2.4h0m.8-2.7h0m.6 1.1h0m1.7 1.3h0m.2-.8h0m.4-.5h0m2 .9h0m.1 .2h0m.8 .1h0m.3 0h0m27.4-2.9h0m1.1-.1h0m2.7 .5h0m.4-.1h0m.4-.3h0m2 .2h0m.8 .8h0m.5-.4h0m0 .8h0m.1-.5h0m.1-.5h0m.4-.1h0m.3 .2h0m0-.1h0m.1-.3h0m0 1.3h0m1.1-.5h0m.4 .6h0m.4 .1h0m.4-1.6h0m.7 2.3h0m.1-.2h0m.9-.4h0m.1 .1h0m1.1-.2h0m.5 .9h0m.3-.8h0m.3-.8h0m.2 .3h0m.6 1.5h0m.2-1.7h0m.3 .2h0m.4 1.5h0m.1-1.7h0m.2 .9h0m1-.1h0m.3 1h0m.1-1.8h0m.2 2.3h0m0-.2h0m.6-.9h0m1 .2h0m.2 1.3h0m.5-.9h0m.6 .6h0m.3 .2h0m.3-2.3h0m.2 .9h0m.2-1h0m.3 1.6h0m.8 .1h0m.4-1.5h0m.8 .2h0m.2 .5h0m.4 1.6h0m1-.4h0m.6 .3h0m.8-1.7h0m0 1.7h0m1.3-.9h0m.2 .3h0m.1-.4h0m.4 .6h0m.4 .1h0m.1-.8h0m0-.3h0m2 1.5h0m.2-1.4h0m1.1 1.1h0m.2-.5h0m.1 .7h0m1.7 .1h0m.4-.9h0m.4 .3h0m.1 .4h0m.6-.1h0m2.9-.5h0m6.9-.1h0m4 .1h0m3.2-.2h0m2.3 1h0m2.8 .1h0m.9-1.2h0m1.5 .4h0m.6-.6h0m.1-1.1h0m.2 1.6h0m.2 .3h0m.3-1.5h0m.6 1.9h0m.8-.5h0m.2 .7h0m1.8-.2h0m.2-1.7h0m.5 1.5h0m1.7-1.8h0m.2 1.8h0m.5 .1h0m.1-1.3h0m.2 .9h0m1.9-.9h0m.7 .6h0m.1 .2h0m.7 .7h0m.9-.2h0m.1-.3h0m.8 .1h0m.1-.4h0m.2-.3h0m.1 1.1h0m.5-3h0m.4 1h0m.1 .9h0m.2 .1h0m.4-1h0m0 .5h0m0 .8h0m.1-.3h0m.3-.9h0m1-.1h0m1.3-.3h0m0 1.3h0m.1 .6h0m.1-.7h0m.2-1.4h0m.1 .5h0m.6 2.1h0m.3-1.6h0m.2 1h0m.6-1.1h0m.1-1.6h0m.3 1.1h0m.2 .4h0m0-.2h0m.4 1.4h0m.2-2.9h0m.2 2.5h0m.3-1.6h0m.4-.5h0m.2 1.6h0m.1-1h0m.1 0h0m.7 .9h0m.8-1.2h0m0 1.6h0m.5-.5h0m.1-.5h0m.5 .9h0m.2-1.1h0m.3-.5h0m.1 1.6h0m.9-.6h0m.7-.5h0m.1 .7h0m.2-.6h0m.5-.7h0m.3-.5h0m0 1.7h0m.3-.3h0m.1-1.3h0m.1-.5h0m.2 .5h0m.3 .3h0m0 1.1h0m.4-1.8h0m.3 .8h0m.4 .2h0m.3 .3h0m.8-.2h0m.1 .1h0m.5-1.3h0m0 1.1h0m.1-.1h0m1.2-.1h0m.3-.9h0m.5 .6h0m.1-.6h0m25 3.2h0m.8 .6h0m.4-1h0m.4 .9h0m.1-.3h0m1.7-1.5h0m.3 1.5h0m.2-1.7h0m.7 0h0m.1 1.8h0m.2-.8h0m.1 .7h0m.5 .1h0m.4-1.3h0m.2-.5h0m.1 1.7h0m0-.9h0m.2-1.6h0m.2 1.9h0m.3-.8h0m.1-1.6h0m.2 1.4h0m.3 0h0m.3 1.5h0m0 .4h0m1.1-2.2h0m.2 .3h0m.2-.8h0m.2 .8h0m0 .9h0m.4-2.5h0m.5 1h0m0-1.3h0m.8 1.2h0m.4-.4h0m.4 .8h0m.9-.9h0m.6 .3h0m.5-.8h0m.2 .8h0m.2-.1h0m.2-.5h0m1 2.5h0m4.1-.8h0m.4-.7h0m-182.5 2.8h0m4.7 .8h0m0 .4h0m4.2-.2h0m.3 1.8h0m.7-2.3h0m.2 2.8h0m.1-.8h0m.5-.1h0m.1-1.1h0m.5-.6h0m.1 .8h0m.2 1.7h0m.2-2.8h0m.4-.1h0m.2 .3h0m.3-.5h0m.1-.2h0m.2 3.1h0m.2-.1h0m.7-1.6h0m.8-1.3h0m.7 1.6h0m0-1h0m.1-.6h0m.1 3.2h0m.3-2.1h0m.6 1.9h0m.4-2.3h0m.1 1.5h0m.2 .3h0m.3-1.6h0m.2 2.8h0m.3-.8h0m0-.7h0m.5-.1h0m1.3 1.1h0m0-.8h0m.2 1h0m.3-1h0m2.2 1.2h0m40.4-3.8h0m1.5 .3h0m1.2 .2h0m.6-.4h0m.4 .1h0m.8 .6h0m0 0h0m.4-.7h0m.4 .2h0m.4 .4h0m.8-.7h0m.3 1.1h0m1.6-.4h0m.1-.2h0m.5 0h0m.6-.1h0m.3 1h0m.6-.3h0m.9-1h0m.1 1.4h0m2.1 .2h0m0-.9h0m.6 .6h0m.1 1h0m0-.9h0m.1 0h0m.1-.1h0m.1 .2h0m1.7 .8h0m.1-2h0m.1 1.2h0m0 .3h0m0-.1h0m.2 .1h0m2.8-.9h0m.5 1.2h0m1-1.9h0m.3 2h0m.3-.2h0m.9 .1h0m.2-.9h0m.4-.3h0m0-.3h0m.1 .7h0m.5 .3h0m0-1.3h0m.7 .3h0m0 .1h0m.4-.3h0m0 .3h0m.2 1.8h0m.3-2.2h0m.1-.1h0m.4 1.7h0m.6-.6h0m.2-1.2h0m.2 1.9h0m.1 .4h0m.2-1.5h0m.7 .2h0m.1-1.1h0m.1 2.2h0m.5 0h0m.3-.3h0m.3-.1h0m.2-1.4h0m.4 2.1h0m.1-.1h0m.3-2.2h0m.1 1.2h0m.1-.6h0m.9-.1h0m.4 1.2h0m.3-.2h0m.7 .4h0m0-1.9h0m1 2h0m.4-1.3h0m0 0h0m.2-.8h0m0 .9h0m.2-.5h0m.8 1.3h0m.3-1.5h0m.7 1.6h0m0-1.5h0m.8-.5h0m.3 .6h0m.1-.2h0m.7 .9h0m.6-1.1h0m.8-.1h0m.7 1.4h0m0-.5h0m0 0h0m.5-.8h0m.4 1.5h0m.9 0h0m.5-.6h0m.3 .3h0m.8-.1h0m.3-.9h0m.5 .8h0m0 .4h0m.3-.1h0m.6-1h0m.4 .5h0m.1-.1h0m.7-.1h0m2.2-.7h0m.5 .2h0m.2 .6h0m.1-.8h0m.2 0h0m1.4 .8h0m0-.3h0m0-.4h0m.1 .2h0m2.7 .2h0m1.9-.2h0m1-.3h0m32.1 3.3h0m3.2 .3h0m.3-.3h0m.1-.6h0m.1-.6h0m.1 1.4h0m.3-1.3h0m.5 .9h0m.1-.7h0m.3-.9h0m.1 .1h0m.7 1.2h0m.1-.1h0m0-1.5h0m0 .7h0m.1 .8h0m.3 .9h0m.2-1.4h0m.1-.6h0m.8-.2h0m.1 1.1h0m.3-2h0m.1 2.9h0m0-2.3h0m1 .8h0m.1 .7h0m.3-.7h0m.3-.6h0m.7-.5h0m.1 1.2h0m.6-1.2h0m.1 .4h0m1.2-.5h0m.7-.2h0m-150.7 4.5h0m.1 1.9h0m.2 .3h0m.2-1.3h0m1.2-1.1h0m.1 1.1h0m1.5-1.7h0m.4 .2h0m.8 1.9h0m.2-2.1h0m.3 3h0m.8-2.1h0m.6 .5h0m.5-.4h0m.4 2.5h0m.2-1.4h0m.2-1.7h0m.1 .4h0m.7-.1h0m.5 2.9h0m.2-.1h0m.3-2.7h0m.4 .3h0m.2 1.9h0m.1-1h0m.5-1.5h0m.5 2.5h0m1.4-.2h0m0-.6h0m.2-.1h0m.5 .5h0m.3 .9h0m.2-.1h0m.5-1.1h0m1.1 .6h0m107.7 .6h0m.2 .2h0m.5 0h0m1.8-.5h0m.4-.4h0m1.5 .4h0m.6-1h0m.5-.1h0m.6-.2h0m.1 .8h0m.6 .4h0m.1-1.1h0m.1 .5h0m.3-.6h0m.1 1.6h0m.6-.2h0m.9-1.9h0m.2 1.6h0m.2-.9h0m.2 .9h0m.3-2h0m.2-.5h0m0 1.2h0m.2-1.1h0m.6 .6h0m.3 1.1h0m0-1h0m.2 2.3h0m.7-.4h0m1.8-3.2h0m.1 .4h0m.7 2.7h0m.3-3.3h0m0 3.3h0m2.3-2.4h0m.1-.4h0m1.5 .7h0m1-.8h0m1.7 1.2h0m.2-1.5h0m1.9 3.5h0m2-1.7h0m-152.9 2.7h0m4.1 2.1h0m1.1-2.7h0m1.2 .1h0m1 .2h0m1.6 .8h0m1.7-1.2h0m1.5 2.3h0m2.6-.8h0m.4 .1h0m1.3-1.4h0m0 2.1h0m.9-1.9h0m1.3-.1h0m.2-.1h0m1.7 .5h0m.4-.4h0m.5-.1h0m.4 2h0m.2-1.7h0m0 0h0m.1 .1h0m.2 .9h0m0-.8h0m.3 3.2h0m.2-.8h0m.4-1.3h0m.9 1.9h0m.1-2.5h0m.2 2.1h0m0-1.8h0m1 1.7h0m.1-.2h0m.3-.5h0m.6 0h0m.2 0h0m.1-.5h0m.1 .7h0m.2-.9h0m.1-.5h0m.1-.2h0m0 2.6h0m2.3-.6h0m.1-.4h0m.2-.3h0m.5 .2h0m0 .5h0m.2-.1h0m.2-.4h0m.1 1.3h0m.4-1h0m.4-.7h0m.1 .4h0m0 1.2h0m1.7-1.6h0m0 1.3h0m.1-1.1h0m.2 .6h0m.2 .7h0m1.7-1.3h0m1.2 .4h0m.8 .5h0m.4-.1h0m.4 .6h0m.2-.8h0m.1 .5h0m0 .4h0m.4-.6h0m.2 .5h0m.7-.2h0m.3-.3h0m.5 0h0m1.8-.5h0m1.3 .5h0m1 .2h0m.1 .3h0m5.6-.1h0m53.1 .3h0m4.9-.4h0m1.8 .1h0m1.6 0h0m.6-.5h0m2.3-.4h0m.5 1h0m.7-1.5h0m.2 .8h0m.2-.3h0m.2 .9h0m.9-.7h0m.1 .4h0m.2-.7h0m.1-.4h0m.7 1.1h0m.4-.1h0m.2 .7h0m.2-.8h0m.4-.3h0m0-.4h0m.5-.8h0m.9 0h0m0 .1h0m.1 .9h0m.2-.8h0m.1-.9h0m0 .4h0m.9 1.1h0m.2-.5h0m.4-.9h0m0 2.5h0m.1-.9h0m.1-.2h0m.8-.3h0m.2-1.4h0m.8-.4h0m.3 2.4h0m.3-2h0m.2 1.3h0m.2-.5h0m.2-.6h0m.2 .3h0m.2-.6h0m.1 .5h0m.1-.5h0m0-.5h0m.1 2.5h0m.1-2.4h0m1.7 2.5h0m.6-1.3h0m.1 .1h0m.2-.3h0m.5-.8h0m.2 1.9h0m.5-.8h0m.4-.5h0m0-.4h0m1.9 .8h0m.4 1.2h0m.6 .6h0m.9-1.5h0m.9-1.4h0m.1 .7h0m.5 2.2h0m.9-2.8h0m5.4 2.5h0m-123.8 1.2h0m.5 3.1h0m1-3h0m.3 1.3h0m.7-1.3h0m3.4-.2h0m.2 .4h0m.3 .3h0m1.1 2.8h0m1-2.7h0m.9-.5h0m.8 .4h0m.1-.8h0m.2 .3h0m.5 0h0m.9 1.2h0m.4-.2h0m.2 1.5h0m.2-1h0m.6 1.9h0m.4-2.8h0m1.2-.9h0m.3 2.1h0m0-2h0m.1 0h0m.2 .4h0m1.9 3h0m0-2.2h0m.8-1.3h0m.1 1.8h0m.4 1.2h0m.2-1.1h0m.1-1.4h0m.2 1.8h0m2.1-1.4h0m.3-.4h0m.3 1.1h0m.1-.8h0m.1-.8h0m.3 3.6h0m.1-3.2h0m.2 2h0m0-1.1h0m.1-1.3h0m.2 .3h0m.5 .2h0m.2 .7h0m0-1.1h0m.7 3h0m.3-2.9h0m.2 1.5h0m0 .6h0m.1 0h0m.2-.9h0m0-.2h0m.6 .9h0m.1-1.5h0m.3 .9h0m.7 .6h0m.5-2h0m.2 2.9h0m.3 .7h0m.1-3.2h0m.2 2.7h0m.1-2.1h0m.5-.5h0m0 1.4h0m.3-1.5h0m.1 2.5h0m.9-2.2h0m.7 .3h0m.2-.2h0m.3 1.2h0m.2 1.3h0m.1-2.1h0m1.3-.2h0m.1 1.4h0m.3-1.7h0m.2-.3h0m.3 .1h0m.2 .6h0m.3-.4h0m.5-.5h0m.3 2h0m0-1.3h0m0 1.4h0m.6 0h0m.2-1.8h0m.1 2.8h0m0-1.2h0m.2 .2h0m.4 .9h0m.1-1.4h0m.2 2h0m.2-.7h0m.4-2.5h0m0 2.2h0m.2-1.8h0m.2 .7h0m.5 0h0m.2 1.6h0m0-.9h0m.2 .1h0m.3-.5h0m.1 1h0m.3-1h0m.1 1.3h0m.4-1.1h0m.1-1h0m.4 1.8h0m.4-.4h0m.1-.8h0m.3-.7h0m.3 2.2h0m.3-.9h0m.2 .3h0m0 .1h0m.6 .3h0m.1 .6h0m.5-.5h0m.1-1.7h0m.5 1.5h0m1.5 0h0m1.8-.8h0m.4 1h0m.2-.5h0m.3 1.1h0m1.9-1.1h0m.5-.3h0m1 0h0m.6 1.2h0m1.2-.3h0m1.3 .4h0m.6-.7h0m.2 .7h0m.5-.3h0m.3-.4h0m1.1 0h0m.1-.8h0m0 .8h0m.9 .8h0m1.7-1.4h0m.1-.1h0m.3 1.1h0m.5 0h0m0 0h0m.2-.6h0m2.4 0h0m.4 .4h0m1.3-.6h0m.3-.1h0m0 1.4h0m.1-1.2h0m.2-1h0m.2 .3h0m.3 1.9h0m.1-1.9h0m.3 1.6h0m.3-1h0m.8-.9h0m0 1.1h0m.2 .9h0m.8-2.3h0m.2 1.6h0m.2-1.4h0m.2 .9h0m.6 1.1h0m0-2.6h0m.5 .5h0m.2-.2h0m.1 1.6h0m.2-1.2h0m.3 1.2h0m.2-1.8h0m.1 .6h0m.2 1.5h0m.3 .2h0m.7-.9h0m0 1.3h0m.9 0h0m.1-1.7h0m0 .3h0m0-1.3h0m.2 1.5h0m.2-1.5h0m.1 1.4h0m.5 .8h0m0 .3h0m.2-2.3h0m0 2h0m.2-.9h0m.3-1.4h0m.1 1.8h0m.9-1.8h0m.4 1.4h0m0-1.9h0m.2 .4h0m.1 1.1h0m0-.6h0m.2-.8h0m.3 1.7h0m.1-.6h0m.5-1.1h0m.5 2.1h0m.4-.8h0m.8-1.4h0m.1 1.7h0m0-.7h0m.1 2.4h0m.3-2.4h0m.2 .8h0m.5-1.9h0m0 .7h0m.2 1.4h0m.5-1.7h0m.1 .7h0m.5 .5h0m.5-.4h0m.7-.1h0m.3-.8h0m.2-.5h0m.4 .3h0m.2 1.4h0m.1-1.4h0m.3 1.1h0m.2-1.5h0m.1 1.9h0m.5 1.4h0m.1-1.4h0m0 1.2h0m.3-2.7h0m.2 1.1h0m.5-1.5h0m.1 .5h0m.5 .7h0m1.4 .4h0m.3 .2h0m.1-1.1h0m.1 .4h0m1 .5h0m0-1.7h0m.1 .9h0m.3 1h0m.5-1.7h0m0 1.5h0m.1 .1h0m.3-.3h0m.2 .8h0m2-1.2h0m.5 .9h0m.2-1.6h0m.6 1.7h0m.5-1.1h0m0 2.2h0m.4-3.1h0m.1 .8h0m.6-.1h0m.3-.4h0m1.4 0h0m.1 1.7h0m1.5-.8h0m4.7 1.2h0m.9-2.5h0m2.7 0h0m-111.9 5.2h0m19.5-.9h0m3.3 1.7h0m2.5-1.5h0m1.5-.2h0m7.1 1h0m.8-.3h0m.5-1h0m.6 2.8h0m.9-1h0m4.6-1h0m2.1 .5h0m3.3-1.2h0m.2 .6h0m.8-.5h0m3.7 .3h0m.1 .3h0m0 .9h0m0-1.4h0m.7 .5h0m.1-.3h0m0 1.1h0m1.2-1.5h0m1.9 1.2h0m1.1-.3h0m0 2.5h0m1.8-2.2h0m.8 .6h0m.1-.5h0m.4 .5h0m1.3-.7h0m0-.5h0m.1-.8h0m.4 .1h0m.5 .5h0m.9 1.1h0m.6-1.6h0m0 .7h0m3.8-.1h0m.9-.6h0m.4 .5h0m.3-.3h0m2.7 1h0m3.1-1.3h0m2.6 1h0m5.9-.2h0m3.2 .4h0m.5-1h0m4.9 .4h0m2.1 .7h0m4.1 1.1h0m7.9-2.3h0m-63 4.8h0m15.5-.6h0m9.4 .6h0"/>
</g>
<g fill="#ff0000" stroke="#ff0000" stroke-linecap="round" stroke-linejoin="round">
<path stroke-width="1" d="M459.7 222.9L460.2 223.5L460.6 224.2L461.1 224.8L461.5 225.4L461.9 226.0L462.3 226.6L462.8 227.2L463.2 227.8L463.6 228.4L464.0 229.0L464.5 229.7L464.9 230.3L465.3 230.9L465.7 231.5L466.1 232.1L466.5 232.8L466.9 233.4L467.3 234.0L467.7 234.6L468.1 235.3L468.5 235.9L468.9 236.5L469.3 237.2L469.7 237.8L470.1 238.4L470.5 239.1L470.9 239.7L471.3 240.4L471.6 241.0L472.0 241.6L472.4 242.3L472.8 242.9L473.1 243.6L473.5 244.2L473.9 244.9L474.2 245.5L474.6 246.2L475.0 246.8L475.3 247.5L475.7 248.1L476.1 248.8L476.4 249.4L476.8 250.1L477.1 250.8L477.5 251.4L477.9 252.1L478.2 252.7L478.6 253.4L478.9 254.1L479.3 254.7L479.6 255.4L480.0 256.0L480.3 256.7L480.7 257.4L481.0 258.0L481.3 258.7L481.7 259.4L482.0 260.1L482.3 260.7L482.7 261.4L483.0 262.1L483.3 262.7L483.6 263.4L483.9 264.1L484.3 264.8L484.6 265.4L484.9 266.1L485.2 266.8L485.5 267.5L485.8 268.1L486.1 268.8L486.4 269.5L486.7 270.2L487.0 270.8L487.3 271.5L487.6 272.2L487.9 272.9L488.2 273.5L488.5 274.2L488.8 274.9L489.1 275.6L489.4 276.3L489.7 277.0L490.0 277.6L490.3 278.3L490.6 279.0L490.9 279.7L491.2 280.4L491.5 281.1L491.8 281.8L492.1 282.5L492.4 283.2L492.7 283.9L493.0 284.6L493.3 285.2L493.6 285.9L493.9 286.6L494.2 287.3L494.5 288.0L494.8 288.7L495.1 289.4L495.4 290.1L495.7 290.8L496.0 291.5L496.3 292.2L496.6 292.9L496.9 293.5L497.2 294.2L497.5 294.9L497.8 295.6L498.1 296.3L498.4 296.9L498.7 297.6L498.9 298.3L499.2 299.0L499.5 299.6L499.7 300.3L500.0 301.0L500.2 301.7L500.5 302.3L500.7 303.0L500.9 303.7L501.1 304.4L501.4 305.1L501.6 305.7L501.8 306.4L502.0 307.1L502.2 307.8L502.4 308.5L502.6 309.3L502.8 310.0L502.9 310.7L503.1 311.4L503.3 312.1L503.5 312.8L503.7 313.6L503.9 314.3L504.1 315.0L504.3 315.8L504.5 316.5L504.7 317.3L504.8 318.0L505.0 318.7L505.2 319.5L505.4 320.2L505.6 321.0L505.8 321.7L506.0 322.4L506.2 323.1L506.4 323.9L506.6 324.6L506.7 325.3L506.9 326.0L507.1 326.7L507.2 327.4L507.4 328.1L507.5 328.8L507.6 329.5L507.7 330.2L507.8 330.9L507.9 331.6L508.0 332.2L508.0 332.9L508.1 333.6L508.1 334.3L508.1 334.9L508.1 335.6L508.1 336.3L508.1 337.0L508.1 337.7L508.0 338.3L508.0 339.0L507.9 339.7L507.8 340.4L507.8 341.1L507.7 341.8L507.6 342.6L507.5 343.3L507.4 344.0L507.2 344.7L507.1 345.4L507.0 346.2L506.9 346.9L506.8 347.6L506.6 348.4L506.5 349.1L506.4 349.8L506.3 350.6L506.2 351.3L506.1 352.1L505.9 352.8L505.8 353.5L505.7 354.3L505.6 355.0L505.5 355.7L505.4 356.4L505.2 357.2L505.1 357.9L505.0 358.6L504.9 359.3L504.7 360.0L504.6 360.7L504.4 361.4L504.3 362.0L504.1 362.7L503.9 363.4L503.7 364.1L503.5 364.7L503.3 365.4L503.1 366.0L502.8 366.6L502.6 367.2L502.3 367.8L502.0 368.3L501.8 368.8L501.5 369.4L501.2 369.8L501.0 370.3L500.7 370.8L500.4 371.2L500.2 371.6L499.9 372.1L499.6 372.5L499.3 372.9L499.1 373.2L498.7 373.6L498.4 374.0L498.1 374.4L497.8 374.7L497.4 375.1L497.1 375.4L496.7 375.8L496.3 376.1L495.9 376.4L495.6 376.7L495.2 377.0L494.8 377.2L494.4 377.5L494.0 377.7L493.5 378.0L493.1 378.2L492.6 378.4L492.2 378.6L491.7 378.8L491.2 379.0L490.6 379.2L490.1 379.4L489.5 379.5L489.0 379.7L488.4 379.8L487.8 380.0L487.1 380.1L486.5 380.3L485.9 380.4L485.2 380.5L484.6 380.6L483.9 380.7L483.3 380.8L482.6 380.9L481.9 381.0L481.3 381.1L480.6 381.2L479.9 381.2L479.2 381.3L478.6 381.4L477.9 381.4L477.2 381.5L476.5 381.5L475.8 381.5L475.2 381.6L474.5 381.6L473.8 381.6L473.1 381.7L472.4 381.7L471.7 381.7L471.0 381.7L470.3 381.7L469.6 381.7L468.9 381.7L468.2 381.7L467.5 381.7L466.8 381.7L466.1 381.7L465.4 381.7L464.7 381.6L464.0 381.6L463.3 381.6L462.6 381.5L462.0 381.5L461.3 381.5L460.6 381.4L459.9 381.4L459.2 381.3L458.5 381.3L457.8 381.2L457.1 381.1L456.5 381.1L455.8 381.0L455.1 380.9L454.4 380.9L453.7 380.8L453.0 380.7L452.3 380.6L451.6 380.5L450.9 380.4L450.2 380.4L449.5 380.3L448.8 380.2L448.1 380.1L447.4 380.0L446.7 379.9L446.0 379.7L445.3 379.6L444.6 379.5L443.9 379.3L443.2 379.2L442.5 379.1L441.8 378.9L441.1 378.7L440.4 378.6L439.7 378.4L439.0 378.2L438.3 378.0L437.7 377.9L437.0 377.7L436.3 377.5L435.6 377.3L434.9 377.1L434.2 376.9L433.5 376.7L432.8 376.5L432.1 376.2L431.4 376.0L430.7 375.8L430.1 375.6L429.4 375.3L428.7 375.1L428.0 374.9L427.3 374.7L426.6 374.4L426.0 374.2L425.3 373.9L424.6 373.7L423.9 373.4L423.2 373.2L422.6 372.9L421.9 372.7L421.2 372.4L420.5 372.1L419.9 371.9L419.2 371.6L418.5 371.3L417.9 371.0L417.2 370.7L416.6 370.5L415.9 370.2L415.3 369.9L414.6 369.5L414.0 369.2L413.3 368.9L412.7 368.6L412.0 368.3L411.4 367.9L410.8 367.6L410.1 367.3L409.5 366.9L408.9 366.6L408.2 366.2L407.6 365.8L407.0 365.5L406.4 365.1L405.8 364.7L405.2 364.4L404.6 364.0L404.0 363.6L403.4 363.2L402.8 362.8L402.2 362.4L401.6 362.0L401.0 361.6L400.4 361.1L399.9 360.7L399.3 360.3L398.7 359.8L398.2 359.4L397.6 358.9L397.1 358.5L396.5 358.0L396.0 357.6L395.4 357.1L394.9 356.6L394.3 356.1L393.8 355.6L393.2 355.1L392.7 354.6L392.1 354.2L391.6 353.6L391.0 353.1L390.5 352.6L389.9 352.1L389.3 351.6L388.8 351.1L388.2 350.6L387.7 350.1L387.1 349.6L386.5 349.1L385.9 348.6L385.4 348.1L384.8 347.6L384.2 347.0L383.6 346.5L383.0 346.1L382.4 345.6L381.8 345.1L381.2 344.6L380.5 344.1L379.9 343.7L379.3 343.2L378.7 342.7L378.1 342.3L377.5 341.8L376.8 341.4L376.2 340.9L375.6 340.5L375.0 340.1L374.3 339.6L373.7 339.2L373.1 338.7L372.5 338.3L371.8 337.9L371.2 337.4L370.6 337.0L370.0 336.6L369.4 336.2L368.7 335.7L368.1 335.3L367.5 334.9L366.9 334.4L366.3 334.0L365.6 333.6L365.0 333.2L364.4 332.7L363.8 332.3L363.2 331.9L362.6 331.4L362.0 331.0L361.4 330.6L360.8 330.1L360.2 329.7L359.6 329.3L359.1 328.8L358.5 328.4L357.9 327.9L357.3 327.5L356.8 327.0L356.2 326.6L355.6 326.1L355.1 325.7L354.5 325.2L354.0 324.7L353.4 324.3L352.9 323.8L352.4 323.3L351.8 322.8L351.3 322.3L350.8 321.8L350.2 321.3L349.7 320.8L349.2 320.3L348.6 319.8L348.1 319.3L347.6 318.8L347.1 318.2L346.5 317.7L346.0 317.2L345.5 316.6L344.9 316.1L344.4 315.6L343.9 315.0L343.4 314.5L342.9 314.0L342.3 313.4L341.8 312.9L341.3 312.3L340.8 311.8L340.3 311.2L339.8 310.6L339.3 310.1L338.8 309.5L338.3 309.0L337.8 308.4L337.3 307.8L336.8 307.3L336.3 306.7L335.8 306.2L335.3 305.6L334.8 305.0L334.3 304.5L333.8 303.9L333.3 303.3L332.8 302.8L332.3 302.2L331.8 301.6L331.3 301.1L330.7 300.5L330.2 299.9L329.7 299.4L329.2 298.8L328.7 298.3L328.2 297.7L327.7 297.1L327.1 296.6L326.6 296.0L326.1 295.5L325.6 294.9L325.1 294.4L324.6 293.8L324.0 293.3L323.5 292.7L323.0 292.1L322.5 291.6L322.0 291.0L321.5 290.5L321.0 289.9L320.5 289.4L320.0 288.8L319.5 288.3L319.1 287.7L318.6 287.2L318.1 286.6L317.6 286.1L317.1 285.5L316.7 285.0L316.2 284.5L315.7 283.9L315.3 283.4L314.8 282.8L314.3 282.3L313.9 281.7L313.4 281.2L313.0 280.7L312.6 280.1L312.1 279.6L311.7 279.0L311.2 278.5L310.8 277.9L310.3 277.3L309.9 276.8L309.4 276.2L309.0 275.6L308.5 275.0L308.1 274.4L307.6 273.8L307.2 273.2L306.7 272.6L306.2 272.0L305.8 271.4L305.3 270.8L304.8 270.2L304.3 269.6L303.8 269.0L303.3 268.4L302.8 267.8L302.3 267.2L301.7 266.6L301.2 266.0L300.6 265.4L300.1 264.8L299.5 264.2L298.9 263.6L298.4 263.1L297.8 262.5L297.2 262.0L296.6 261.4L296.1 260.9L295.5 260.4L294.9 259.9L294.4 259.4L293.8 258.9L293.2 258.4L292.7 257.9L292.1 257.4L291.6 257.0L291.1 256.5L290.6 256.0L290.0 255.5L289.5 255.1L289.1 254.6L288.6 254.1L288.1 253.6L287.6 253.2L287.2 252.7L286.8 252.2L286.3 251.7L285.9 251.2L285.5 250.7L285.1 250.2L284.7 249.6L284.3 249.1L283.9 248.6L283.5 248.0L283.1 247.4L282.7 246.9L282.3 246.3L281.9 245.7L281.5 245.1L281.1 244.5L280.8 243.9L280.4 243.3L280.0 242.7L279.6 242.1L279.3 241.5L278.9 240.8L278.5 240.2L278.2 239.5L277.8 238.9L277.4 238.3L277.1 237.6L276.7 237.0L276.3 236.3L276.0 235.7L275.6 235.0L275.2 234.3L274.8 233.7L274.5 233.0L274.1 232.4L273.7 231.7L273.3 231.0L272.9 230.4L272.5 229.7L272.1 229.0L271.7 228.3L271.3 227.7L270.9 227.0L270.5 226.3L270.1 225.7L269.7 225.0L269.3 224.3L268.8 223.7L268.4 223.0L268.0 222.3L267.5 221.6L267.1 221.0L266.7 220.3L266.3 219.6L265.9 219.0L265.5 218.3L265.1 217.6L264.7 217.0L264.3 216.3L263.9 215.7L263.6 215.0L263.2 214.4L262.9 213.7L262.6 213.1L262.3 212.4L262.0 211.8L261.7 211.2L261.4 210.5L261.1 209.9L260.8 209.3L260.5 208.7L260.3 208.1L260.0 207.5L259.8 206.9L259.6 206.3L259.3 205.8L259.1 205.2L258.9 204.6L258.7 204.0L258.4 203.4L258.2 202.7L258.0 202.1L257.7 201.5L257.5 200.8L257.3 200.2L257.0 199.5L256.8 198.9L256.6 198.2L256.3 197.5L256.1 196.9L255.8 196.2L255.6 195.5L255.3 194.8L255.1 194.1L254.8 193.4L254.5 192.7L254.3 192.0L254.0 191.2L253.7 190.5L253.4 189.8L253.1 189.1L252.9 188.4L252.6 187.7L252.3 187.1L252.0 186.4L251.7 185.7L251.4 185.0L251.1 184.3L250.8 183.7L250.5 183.0L250.2 182.4L249.9 181.7L249.6 181.0L249.4 180.4L249.1 179.7L248.8 179.1L248.5 178.4L248.3 177.8L248.0 177.1L247.7 176.5L247.5 175.8L247.2 175.2L247.0 174.5L246.7 173.9L246.5 173.2L246.3 172.5L246.0 171.9L245.8 171.2L245.6 170.5L245.4 169.9L245.2 169.2L245.0 168.5L244.8 167.8L244.6 167.2L244.4 166.5L244.2 165.8L244.0 165.1L243.8 164.4L243.6 163.7L243.4 163.0L243.3 162.4L243.1 161.7L242.9 161.0L242.7 160.3L242.5 159.6L242.4 158.9L242.2 158.2L242.0 157.5L241.8 156.7L241.6 156.0L241.4 155.3L241.2 154.6L241.0 153.9L240.8 153.2L240.6 152.4L240.4 151.7L240.1 151.0L239.8 150.2L239.5 149.5L239.2 148.7L236.1 148.5L235.7 149.3L235.3 150.0L235.0 150.8L234.7 151.5L234.4 152.3L234.1 153.1L233.9 153.9L233.7 154.7L233.5 155.4L233.4 156.2L233.2 157.0L233.1 157.8L233.0 158.6L232.9 159.4L232.8 160.2L232.7 161.0L232.7 161.8L232.6 162.6L232.6 163.4L232.6 164.2L232.5 165.1L232.5 165.9L232.5 166.7L232.6 167.5L232.6 168.3L232.6 169.1L232.7 169.9L232.7 170.7L232.8 171.5L232.9 172.3L233.0 173.1L233.1 173.9L233.2 174.7L233.3 175.5L233.4 176.3L233.5 177.1L233.6 177.9L233.8 178.7L233.9 179.5L234.0 180.3L234.2 181.1L234.4 181.9L234.5 182.7L234.7 183.5L234.8 184.2L235.0 185.0L235.2 185.8L235.4 186.6L235.6 187.3L235.8 188.1L236.0 188.8L236.2 189.6L236.4 190.3L236.6 191.1L236.8 191.8L237.0 192.5L237.2 193.3L237.4 194.0L237.6 194.7L237.9 195.4L238.1 196.1L238.3 196.8L238.6 197.5L238.8 198.2L239.0 198.9L239.3 199.7L239.5 200.4L239.8 201.1L240.0 201.8L240.3 202.6L240.5 203.3L240.8 204.0L241.1 204.8L241.4 205.5L241.7 206.3L242.0 207.0L242.4 207.8L242.7 208.5L243.1 209.3L243.4 210.1L243.8 210.8L244.2 211.6L244.7 212.3L245.1 213.0L245.6 213.8L246.0 214.5L246.5 215.2L247.0 215.9L247.5 216.6L248.1 217.3L248.6 217.9L249.1 218.6L249.7 219.2L250.2 219.8L250.7 220.4L251.3 221.0L251.8 221.6L252.4 222.1L252.9 222.7L253.4 223.3L253.9 223.8L254.4 224.4L255.0 225.0L255.4 225.5L255.9 226.1L256.4 226.6L256.9 227.2L257.3 227.8L257.7 228.3L258.1 228.9L258.5 229.5L258.9 230.1L259.3 230.7L259.7 231.3L260.0 231.9L260.4 232.5L260.7 233.1L261.1 233.7L261.5 234.3L261.8 235.0L262.2 235.6L262.5 236.2L262.8 236.9L263.2 237.5L263.5 238.2L263.9 238.8L264.2 239.5L264.6 240.1L264.9 240.8L265.2 241.4L265.6 242.1L265.9 242.8L266.3 243.5L266.6 244.1L267.0 244.8L267.4 245.5L267.7 246.2L268.1 246.9L268.4 247.5L268.8 248.2L269.2 248.9L269.6 249.6L270.0 250.3L270.4 251.0L270.8 251.7L271.2 252.4L271.6 253.1L272.0 253.8L272.4 254.4L272.9 255.1L273.3 255.8L273.8 256.5L274.2 257.2L274.7 257.9L275.2 258.5L275.7 259.2L276.2 259.9L276.7 260.5L277.2 261.2L277.7 261.9L278.3 262.5L278.8 263.1L279.4 263.7L279.9 264.4L280.4 265.0L281.0 265.5L281.5 266.1L282.1 266.7L282.6 267.3L283.1 267.8L283.7 268.4L284.2 268.9L284.7 269.5L285.3 270.0L285.8 270.6L286.3 271.1L286.8 271.6L287.3 272.1L287.8 272.6L288.3 273.1L288.8 273.6L289.3 274.1L289.7 274.6L290.2 275.1L290.7 275.6L291.1 276.1L291.6 276.7L292.1 277.2L292.6 277.7L293.0 278.2L293.5 278.8L294.0 279.3L294.5 279.8L294.9 280.4L295.4 281.0L295.9 281.5L296.4 282.1L296.9 282.6L297.4 283.2L297.9 283.8L298.4 284.3L298.9 284.9L299.4 285.5L299.9 286.1L300.4 286.7L301.0 287.2L301.5 287.8L302.0 288.4L302.6 289.0L303.1 289.5L303.7 290.1L304.3 290.7L304.8 291.2L305.4 291.8L306.0 292.3L306.6 292.8L307.2 293.4L307.7 293.9L308.3 294.4L308.9 294.9L309.5 295.4L310.1 295.9L310.7 296.4L311.3 296.9L311.9 297.4L312.5 297.9L313.1 298.4L313.7 298.8L314.3 299.3L314.9 299.8L315.4 300.3L316.0 300.7L316.6 301.2L317.2 301.7L317.8 302.1L318.4 302.6L319.0 303.1L319.5 303.6L320.1 304.0L320.7 304.5L321.2 305.0L321.8 305.5L322.4 305.9L323.0 306.4L323.5 306.9L324.1 307.4L324.7 307.9L325.2 308.3L325.8 308.8L326.4 309.3L327.0 309.8L327.5 310.3L328.1 310.8L328.7 311.2L329.2 311.7L329.8 312.2L330.4 312.7L330.9 313.2L331.5 313.7L332.1 314.2L332.6 314.7L333.2 315.2L333.7 315.7L334.3 316.2L334.8 316.7L335.4 317.2L336.0 317.7L336.5 318.2L337.1 318.7L337.6 319.2L338.1 319.7L338.7 320.3L339.2 320.8L339.8 321.3L340.3 321.8L340.8 322.4L341.4 322.9L341.9 323.4L342.5 323.9L343.0 324.5L343.5 325.0L344.1 325.5L344.6 326.1L345.2 326.6L345.7 327.1L346.3 327.7L346.9 328.2L347.4 328.7L348.0 329.2L348.6 329.8L349.2 330.3L349.8 330.8L350.4 331.3L351.0 331.8L351.6 332.3L352.2 332.8L352.8 333.2L353.4 333.7L354.0 334.2L354.6 334.7L355.2 335.1L355.8 335.6L356.4 336.1L357.0 336.5L357.6 337.0L358.2 337.4L358.9 337.9L359.5 338.3L360.1 338.8L360.7 339.2L361.3 339.7L361.9 340.1L362.5 340.6L363.1 341.0L363.7 341.5L364.3 341.9L365.0 342.3L365.6 342.8L366.2 343.2L366.8 343.7L367.4 344.1L368.0 344.6L368.5 345.0L369.1 345.5L369.7 345.9L370.3 346.4L370.9 346.8L371.5 347.3L372.1 347.7L372.6 348.2L373.2 348.6L373.8 349.1L374.3 349.6L374.9 350.0L375.4 350.5L376.0 351.0L376.6 351.4L377.1 351.9L377.6 352.4L378.2 352.8L378.7 353.3L379.3 353.8L379.8 354.3L380.3 354.8L380.9 355.3L381.4 355.8L381.9 356.3L382.5 356.8L383.0 357.3L383.6 357.8L384.1 358.3L384.6 358.9L385.2 359.4L385.7 359.9L386.3 360.4L386.8 360.9L387.4 361.5L387.9 362.0L388.5 362.5L389.1 363.0L389.6 363.6L390.2 364.1L390.8 364.6L391.4 365.1L391.9 365.6L392.5 366.2L393.1 366.7L393.7 367.2L394.3 367.7L394.9 368.2L395.6 368.7L396.2 369.2L396.8 369.7L397.4 370.1L398.0 370.6L398.7 371.1L399.3 371.6L399.9 372.0L400.6 372.5L401.2 373.0L401.8 373.4L402.5 373.9L403.1 374.3L403.8 374.8L404.4 375.2L405.1 375.6L405.7 376.1L406.4 376.5L407.1 376.9L407.7 377.3L408.4 377.7L409.1 378.1L409.7 378.5L410.4 378.9L411.1 379.3L411.8 379.7L412.4 380.1L413.1 380.5L413.8 380.9L414.5 381.3L415.2 381.7L415.9 382.0L416.6 382.4L417.2 382.8L417.9 383.1L418.6 383.5L419.3 383.9L420.0 384.2L420.7 384.6L421.4 384.9L422.1 385.3L422.8 385.6L423.5 385.9L424.2 386.2L424.9 386.6L425.6 386.9L426.4 387.2L427.1 387.5L427.8 387.8L428.5 388.1L429.2 388.4L430.0 388.7L430.7 389.0L431.4 389.3L432.1 389.6L432.9 389.9L433.6 390.2L434.3 390.5L435.1 390.8L435.8 391.0L436.5 391.3L437.3 391.6L438.0 391.8L438.7 392.1L439.5 392.4L440.2 392.6L441.0 392.9L441.7 393.2L442.5 393.4L443.2 393.7L444.0 393.9L444.7 394.2L445.5 394.4L446.3 394.7L447.0 394.9L447.8 395.1L448.6 395.4L449.4 395.6L450.1 395.8L450.9 396.0L451.7 396.2L452.5 396.3L453.3 396.5L454.1 396.7L454.9 396.8L455.7 397.0L456.5 397.1L457.3 397.2L458.1 397.3L458.9 397.4L459.7 397.5L460.5 397.6L461.3 397.7L462.1 397.8L462.9 397.9L463.7 398.0L464.6 398.0L465.4 398.1L466.2 398.1L467.0 398.2L467.8 398.2L468.6 398.2L469.4 398.3L470.2 398.3L471.0 398.3L471.8 398.3L472.6 398.3L473.4 398.3L474.2 398.3L475.0 398.3L475.8 398.3L476.6 398.2L477.4 398.2L478.2 398.2L479.1 398.1L479.9 398.1L480.7 398.0L481.5 397.9L482.3 397.8L483.2 397.8L484.0 397.7L484.8 397.5L485.7 397.4L486.5 397.3L487.3 397.2L488.2 397.0L489.0 396.9L489.8 396.7L490.7 396.5L491.6 396.3L492.4 396.1L493.3 395.9L494.2 395.7L495.1 395.4L496.0 395.1L496.9 394.8L497.8 394.5L498.7 394.1L499.6 393.7L500.5 393.3L501.4 392.8L502.3 392.3L503.2 391.8L504.0 391.2L504.9 390.7L505.7 390.0L506.5 389.4L507.3 388.7L508.1 388.0L508.8 387.3L509.5 386.6L510.2 385.8L510.8 385.0L511.5 384.2L512.1 383.4L512.6 382.5L513.2 381.6L513.7 380.8L514.2 379.8L514.6 378.9L515.0 378.0L515.3 377.1L515.6 376.1L515.9 375.2L516.1 374.3L516.3 373.4L516.5 372.5L516.6 371.6L516.7 370.7L516.8 369.8L516.9 368.9L517.0 368.0L517.0 367.2L517.1 366.4L517.2 365.5L517.2 364.7L517.3 363.9L517.3 363.1L517.3 362.3L517.4 361.5L517.4 360.7L517.5 359.9L517.5 359.2L517.5 358.4L517.5 357.6L517.6 356.8L517.6 356.1L517.6 355.3L517.6 354.5L517.6 353.8L517.6 353.0L517.6 352.3L517.6 351.5L517.6 350.7L517.6 350.0L517.6 349.2L517.6 348.5L517.6 347.7L517.6 346.9L517.6 346.1L517.6 345.3L517.5 344.6L517.5 343.8L517.5 343.0L517.4 342.2L517.4 341.4L517.3 340.6L517.3 339.8L517.2 339.0L517.1 338.2L517.0 337.4L516.9 336.5L516.8 335.7L516.7 334.9L516.6 334.1L516.5 333.3L516.3 332.5L516.2 331.7L516.0 330.9L515.8 330.1L515.6 329.3L515.4 328.5L515.2 327.8L515.0 327.0L514.8 326.3L514.5 325.5L514.3 324.8L514.0 324.0L513.8 323.3L513.6 322.5L513.3 321.8L513.1 321.1L512.8 320.4L512.6 319.7L512.3 318.9L512.1 318.2L511.8 317.5L511.6 316.8L511.4 316.1L511.2 315.4L510.9 314.7L510.7 314.0L510.5 313.3L510.3 312.5L510.1 311.8L509.9 311.1L509.7 310.4L509.5 309.7L509.3 308.9L509.0 308.2L508.8 307.5L508.6 306.7L508.4 306.0L508.2 305.3L507.9 304.5L507.7 303.8L507.4 303.1L507.2 302.3L506.9 301.6L506.6 300.9L506.3 300.1L506.1 299.4L505.8 298.7L505.4 298.0L505.1 297.3L504.8 296.6L504.5 295.9L504.1 295.2L503.8 294.5L503.5 293.8L503.1 293.1L502.8 292.4L502.4 291.8L502.1 291.1L501.7 290.4L501.4 289.7L501.0 289.1L500.7 288.4L500.4 287.7L500.0 287.1L499.7 286.4L499.3 285.7L499.0 285.1L498.7 284.4L498.4 283.7L498.0 283.1L497.7 282.4L497.4 281.7L497.1 281.1L496.8 280.4L496.5 279.7L496.1 279.0L495.8 278.3L495.5 277.7L495.2 277.0L494.9 276.3L494.6 275.6L494.3 274.9L494.0 274.2L493.6 273.6L493.3 272.9L493.0 272.2L492.7 271.5L492.3 270.8L492.0 270.1L491.7 269.5L491.3 268.8L491.0 268.1L490.6 267.4L490.3 266.8L489.9 266.1L489.5 265.4L489.2 264.8L488.8 264.1L488.4 263.4L488.0 262.8L487.7 262.1L487.3 261.5L486.9 260.8L486.5 260.2L486.1 259.5L485.7 258.9L485.4 258.2L485.0 257.6L484.6 256.9L484.2 256.3L483.8 255.6L483.4 255.0L483.0 254.3L482.7 253.7L482.3 253.0L481.9 252.4L481.5 251.7L481.1 251.1L480.8 250.4L480.4 249.8L480.0 249.1L479.6 248.5L479.2 247.8L478.8 247.2L478.4 246.6L478.1 245.9L477.7 245.3L477.3 244.6L476.9 244.0L476.5 243.3L476.1 242.7L475.7 242.0L475.3 241.4L474.9 240.8L474.5 240.1L474.1 239.5L473.7 238.8L473.3 238.2L472.9 237.6L472.5 236.9L472.1 236.3L471.7 235.7L471.3 235.0L470.9 234.4L470.4 233.8L470.0 233.1L469.6 232.5L469.2 231.9L468.7 231.3L468.3 230.7L467.9 230.0L467.5 229.4L467.0 228.8L466.6 228.2L466.1 227.6L465.7 227.0L465.3 226.3L464.8 225.7L464.4 225.1L463.9 224.5L463.5 223.9L463.0 223.3L462.6 222.7L462.1 222.1L461.7 221.5Z"/>
<path fill="none" stroke-width="2.5" d="m197.4 22.9h0m35 6.2h0m5.9 5.2h0m20.1 2.2h0m-1.4 4.5h0m13.5 5.7h0m2.8 1.1h0m1.7 4.5h0m2 .2h0m3.4 3.5h0m15.2 5.1h0m6.7 5h0m6.7 3.5h0m-3.7 .4h0m5 3.3h0m2 1.7h0m2.2 2h0m6.4 1.2h0m1 3.8h0m4.5 1.7h0m5 3.7h0m6.2 3.7h0m-89.2 6.3h0m91.2-1.9h0m2.7 .6h0m.5 1.1h0m.2-2.7h0m.4 .5h0m1.6 .9h0m1-.3h0m-117.8 6h0m1.8-2.1h0m114.2-1.4h0m0 .6h0m.4-.3h0m2.1 1.3h0m.9-1.1h0m1.2 3.1h0m.6-2.7h0m-118.2 6h0m4.3-3h0m0 3h0m13.3-2.1h0m101.2 0h0m2-.3h0m1.4 1.1h0m-130.8 3.5h0m5.8 .7h0m6.3 1.8h0m1.1-2.5h0m7.2 1.4h0m5.2-.7h0m2.8-.9h0m104 .3h0m1 1.2h0m1.1-1h0m.6-.3h0m.2 1.2h0m1-.9h0m.1 2.2h0m.1-2.9h0m.1 2.9h0m1.7-1.1h0m.7 1h0m-135 .9h0m0 .2h0m6.4-.6h0m2.2-.1h0m.2 1.3h0m1.1-.4h0m3 3h0m0-2.6h0m2.4 .1h0m.8 .2h0m2.3-.4h0m13 1.8h0m105.4-1.6h0m.9 2.3h0m2.9-.9h0m-139.8 2.8h0m6.3 1.7h0m1.4-.8h0m1.5 1.3h0m2.6-1.5h0m1.2-2h0m2.3 .3h0m.2 2.2h0m.2-.2h0m.2-1h0m19.8-1.6h0m2.9 2h0m14.5-1.2h0m7.5 1.2h0m76.1-.7h0m1.2-.5h0m5.2 3.1h0m-151.6 3h0m10.7-.4h0m2 1h0m7-2.4h0m.1 2.2h0m1.2-1.1h0m1-1.1h0m9 .6h0m.6-1.6h0m3.8 .3h0m7.7-.4h0m8.5 1.8h0m11.2 2.2h0m86.8-.3h0m1.3-3.4h0m0 .6h0m1.2-.5h0m.5-.1h0m.1 3.6h0m1-.4h0m2.8-.7h0m-157.7 3h0m3.3 .5h0m.2-.8h0m.5 .9h0m1.4 .8h0m.2-2.2h0m2.7 2.5h0m2.2-2.4h0m.1-.1h0m1.9 2.6h0m.4-2h0m1.3 1.9h0m.2-1h0m.1 .4h0m2.8 0h0m.6-1.7h0m.9-.9h0m1.1 2h0m1 .9h0m.7-.1h0m.7-2.1h0m1.3 2.2h0m.4-1.8h0m.2 .2h0m.2 1.4h0m.5-2.7h0m.2 1.7h0m2.5 .5h0m1.7-1.7h0m3.1 .1h0m4.4-.1h0m1.4 .3h0m1 1.6h0m6.1-.7h0m111-.9h0m.4-.2h0m1.1 1.2h0m1 1.4h0m.4-1.4h0m1.8 1.7h0m-160 2.9h0m5.4 .8h0m1.7-1.6h0m2.2-.7h0m3.1 0h0m.2 2.1h0m1.2 .2h0m.1-.8h0m.1 .2h0m.3-1.7h0m.2 .5h0m.1-.3h0m.1 .4h0m.1-.2h0m1.1 1.8h0m0-2.9h0m.1 2.8h0m0-1h0m.8-2.3h0m.9 .3h0m.2 3.3h0m.2-1.7h0m.3-.4h0m.2-1h0m.1 2.3h0m.1-2.7h0m.3-.1h0m.1 3.6h0m.2-1.5h0m.6 1.8h0m.5-3.7h0m1.2 2.3h0m2.8-1.3h0m.3 2.8h0m.5-.2h0m.8-.1h0m2-1h0m.7 1h0m.5-1h0m.5-2.6h0m1 1h0m.8 1.5h0m.1-2.6h0m1.9 3.5h0m2.9-2.4h0m.6 2.1h0m1.3-1.8h0m2.6 2.2h0m31.3-3.1h0m85.3 3h0m2.1-2.2h0m.4 2h0m.6-3h0m1 .5h0m.3 2.6h0m.1-2h0m.1-.4h0m.9 2.8h0m.2-.5h0m.7 .2h0m1.1-1.2h0m-170.6 5.3h0m6.3-.5h0m4.1-.1h0m.8-2.4h0m.9 .8h0m2-.2h0m.1-.7h0m.8 .7h0m.5-1h0m1 .3h0m2.1 2.2h0m1 1.1h0m.5-2.5h0m.6 2.3h0m.3-2.6h0m.2 2.9h0m.6-1.4h0m.5 .8h0m.3-.1h0m.1-1.5h0m.3-.5h0m0 .9h0m.6-.1h0m.2-1.1h0m.1-.2h0m.6-.5h0m.3 3.3h0m.6-2h0m0-.1h0m.2-.1h0m.6 2.4h0m.5-2.6h0m.5 2.8h0m1.3 0h0m.2-2.7h0m.5-.8h0m.2 2.9h0m.1-1.3h0m1.1 .4h0m2.5 .5h0m1.7 .8h0m.1-1h0m.3-1.9h0m.7 .1h0m.2-.8h0m1.6 3.3h0m1.2-.8h0m.7-1.7h0m2.1 1.6h0m39.1-1.1h0m86.5 1.1h0m.8 .4h0m1.5-.7h0m1.1-1.5h0m.4-.2h0m.2 2.9h0m.6-1.6h0m.2 2.2h0m2.3-.4h0m-167.2 .7h0m2.4 1.1h0m2-.3h0m.5-.8h0m0 .4h0m.7 1.9h0m1.1-1.4h0m0 1.8h0m.8-1.5h0m2 1.3h0m1.6-.6h0m.3 .9h0m.2 .8h0m.1-2h0m.3-.4h0m.3-.1h0m0-.3h0m.3 .4h0m.1 .4h0m.7-.4h0m0-.3h0m.2 .8h0m0-.9h0m.2 .6h0m.5 1h0m.5-2.2h0m.1 2.9h0m.1-1.8h0m.8 1h0m.2-1.7h0m.6 3.1h0m0-1.7h0m.1-1.5h0m.1 3.1h0m.1-3.6h0m1.2 2.3h0m.3-.1h0m.5-1.8h0m.5-.6h0m.2 .2h0m.3 3h0m.1 .6h0m.2-1.6h0m0 1.5h0m.3-3.3h0m.3 2.1h0m.2-.4h0m0-.1h0m.5-1.7h0m.2 1.5h0m.2 .1h0m.9 .9h0m.6-1.9h0m.6 1.8h0m.4 .2h0m2.8-2.1h0m.4 2.6h0m.8-2.5h0m1.1 1.8h0m134.6-2.5h0m1.1 .1h0m.1 1.9h0m.1-1.7h0m.1 2h0m.8-2.2h0m.5 1.2h0m1.4-1.1h0m1 .6h0m1.8 2.4h0m-173.5 2h0m1.7 0h0m1.9 1.9h0m1.9-2.9h0m0 2.9h0m1.4-1.6h0m.4-1h0m.6 .2h0m.8 .7h0m.2-.1h0m.5-.9h0m.9 .6h0m.1-.5h0m.1 1.1h0m0-1.2h0m.3 .6h0m.4 .8h0m.5 1.2h0m.3-1.2h0m.3 .3h0m.5 1.5h0m0-.6h0m.2-2.5h0m.2 3h0m.4 0h0m.3 0h0m0-2.9h0m.3 .7h0m.3 1h0m.5-.2h0m.2 .3h0m.2 .3h0m.1-1.1h0m.6 1.2h0m.2-1.1h0m0-.3h0m.1 2.2h0m.1-1.3h0m1.3 .4h0m.3-1.7h0m.9-1h0m.2 .6h0m.2 .2h0m.3 0h0m.1 .6h0m.2 1.5h0m.4-1.8h0m.2-.5h0m.1 1.7h0m.2-2.6h0m0 3.5h0m.1-1.3h0m.2 .5h0m.1-1.7h0m.1 1.3h0m.4 .3h0m.2-1.3h0m.8 1.6h0m.1-1.7h0m.4 1.9h0m.2-1h0m0 1.6h0m.1-2.3h0m.3 2.5h0m0-.2h0m0-2.9h0m0-.6h0m.6 2.7h0m0-.8h0m.2-1.4h0m.2 1.9h0m.4-.1h0m.4 .1h0m.3-2h0m.2 1.8h0m.8-.5h0m.1 1.4h0m.6-1.6h0m1.2 1.1h0m2.4-1.9h0m1.5 2.4h0m.5 .3h0m.8-.7h0m.8-.5h0m.2-1.9h0m.2 .8h0m1.2 .9h0m2.1 .3h0m130.4-.5h0m.6-1.7h0m3.9 1.4h0m.1 1.8h0m.9-3.4h0m.2 .6h0m.1 .2h0m.3 3h0m.9-.9h0m.9 .5h0m-170.7 1.7h0m.1 2.7h0m.7-1.4h0m1.4-.2h0m.2-1.3h0m.4 2.5h0m.6-3.4h0m1.3 2.7h0m0 .1h0m.1 .1h0m.1-1h0m.1 2h0m0-3.4h0m.1 1.5h0m.2 1.5h0m.1-3.5h0m0 2.4h0m.1-1.6h0m.7 1.7h0m0-2.4h0m.1 .3h0m.2 3.2h0m.1-2.6h0m.1-1h0m.1 .5h0m.3-.5h0m.2 1.6h0m.7 .8h0m.1 1.3h0m.1-.4h0m.1-1.8h0m.1-1.3h0m.1 .1h0m.3 3.1h0m.1 .2h0m0-2.8h0m.5 .7h0m0 .6h0m.1 .4h0m.3-.9h0m.2 .8h0m0-.7h0m.3 1.8h0m.2-2.1h0m.2-1.1h0m.1 2.3h0m.1-.4h0m.2-1.5h0m.1 1.8h0m.4-2.5h0m.1 1.4h0m.4 .5h0m.3 1.1h0m.4-1.3h0m0 .8h0m.1-.4h0m.2-.5h0m0 1.8h0m0-1.9h0m.1 1.6h0m.4 .6h0m.5-1.6h0m.1-1h0m0-.1h0m.3 1.2h0m.5 .1h0m.7-.3h0m.4 .9h0m0-1.3h0m.1 .1h0m.4 1.7h0m.2-2.4h0m.3 1.1h0m.2 1.5h0m.2-2.3h0m.3 .8h0m.5 1.5h0m.4-2.1h0m0 1h0m.3-2.4h0m.4 1.1h0m.1 1.7h0m.1-2.5h0m.5 0h0m1 3.5h0m.2-.7h0m.2-.5h0m0-1.8h0m.6-.1h0m0 2.7h0m.2 .4h0m0-1.2h0m.1-1h0m.4 0h0m.7-.6h0m.8 1.3h0m3.2-.4h0m1.5-1h0m.4-.2h0m139.6 .8h0m.7 1h0m.3-2.6h0m.1 2.2h0m.3-.9h0m.5-.6h0m.4 2.6h0m0-1.5h0m1.7-1.5h0m.2-.1h0m.7 .1h0m.2 2.5h0m.9-1.4h0m1.7 1.5h0m.1 .3h0m-180.6 1.3h0m1.1 1.4h0m1.8-1.8h0m.3 2.5h0m.1 .8h0m.1-.6h0m1 .1h0m.1 0h0m.3-.1h0m.5-1.8h0m1.4-1h0m.1 .9h0m.5 2.2h0m.2-.7h0m.1 .6h0m.6-2h0m.6 .1h0m0 1.1h0m.1 1.6h0m.1-.4h0m.1-1.4h0m.1 .2h0m.4 1h0m0-.1h0m.1 .4h0m.2-.7h0m.5 .1h0m.2-1.5h0m0-1.1h0m.3 1.5h0m.1 .3h0m.1 1.5h0m0-1h0m.1-.8h0m.2-.5h0m.5 .3h0m0-1.3h0m.1 3.5h0m.2-.2h0m.3 0h0m.1-1.3h0m0 0h0m.1 .8h0m0 .2h0m0-2.8h0m.1 1h0m.1-.2h0m0-1.1h0m.2 2h0m0 1h0m.3 .4h0m.3-.9h0m.4-2.3h0m.2 2.3h0m.1 .7h0m.1-3h0m0 0h0m.1 2.9h0m.1-1.1h0m.1 .2h0m.1-2.1h0m0 .9h0m.4 .8h0m0 1.4h0m0-1.6h0m0 2h0m0-.5h0m.1-3.2h0m.2 1.8h0m.1 1.3h0m.2-3h0m0 2.3h0m0 .9h0m.2-1.7h0m0-1.8h0m.2 .4h0m.1 1h0m.3 .3h0m0-.3h0m1.5 .8h0m0-.3h0m.1-.1h0m.1 .6h0m0 1.5h0m.1-3.3h0m.5 2.9h0m.1-1.9h0m.3-.6h0m0 .2h0m.3 1h0m.3-1h0m0 .6h0m0 1h0m.2 .2h0m0-2.5h0m0 3.3h0m.1-1.4h0m0-1.3h0m.1 1.4h0m.1-1.7h0m0 0h0m.3 1.6h0m.1-2.4h0m.1 3.6h0m.1-3.2h0m0 2.7h0m.2-.1h0m.1 .7h0m0 .1h0m0-1.9h0m.1 0h0m0-1.2h0m.2 1.6h0m.1-.2h0m0 .3h0m.1-1.5h0m.2-.5h0m.1 3.5h0m.4 .1h0m.1-3.2h0m.1 3.1h0m0-.6h0m0-1.3h0m.1-1.4h0m.3-.4h0m.2 3.3h0m.3-1.9h0m0 2.1h0m0-1.1h0m.6-1.3h0m.2 .5h0m.4 .4h0m.1-1.7h0m.3 1.7h0m.2-.1h0m.1-.6h0m.2 2.2h0m.3-2.6h0m.3 2.5h0m.2-1.1h0m0 1h0m.3-3.4h0m.3 2.7h0m0-.4h0m.8-1.6h0m.9 1.1h0m1.2 1.9h0m.8-3.4h0m1.9 .7h0m.5 .9h0m.1 .8h0m.7 .6h0m140.6-2.9h0m.2 1h0m1.9-.6h0m1.1-.2h0m1 .2h0m.1 1.2h0m.1 1.1h0m0 0h0m.5-.7h0m.1-.7h0m.6 0h0m.1-.6h0m.3 1.5h0m.3 0h0m.1-1h0m.5 1.6h0m.6-2.3h0m-180.7 5.2h0m1.8-.3h0m.5 .3h0m.1-.2h0m.2-1.2h0m.2 2h0m.7 .6h0m0-.4h0m.5-.6h0m.4-1.6h0m.1 .3h0m0-.5h0m.1 0h0m.1-.1h0m.3 1.9h0m.7-.7h0m.3 .8h0m.4 .9h0m.4-1.4h0m.1 .2h0m.1 .7h0m0 .4h0m.2-2.9h0m.1 1.8h0m0 .9h0m.3-1.3h0m.1 .5h0m0-1.7h0m.1 .7h0m.1 0h0m.1 1.9h0m.2-3h0m.2-.1h0m.3 1.8h0m.3 .3h0m0-.9h0m.1-1.1h0m.2 2.4h0m.3 .6h0m.1-2.3h0m.2-.5h0m.3-.3h0m.2 3.7h0m.3-3.1h0m.1 .5h0m.2 1.8h0m.1 .3h0m.1-.5h0m.2-1.3h0m.2 2.1h0m.1-2.6h0m.2-.6h0m.3 .9h0m0 2.6h0m.4-1.6h0m.1-2.3h0m.3 1.3h0m0-.6h0m.9-.4h0m.1-.3h0m0 .8h0m0 .2h0m.1-.6h0m3.5 .8h0m0-.9h0m.2 1.3h0m.1-.2h0m.4-.8h0m.1 2.6h0m.1-2.3h0m.2-.4h0m0 .6h0m0 2.6h0m.1-2.6h0m.2 .7h0m.1 2h0m.1-.7h0m.1-.5h0m.2 .4h0m.4-1.4h0m.5-1.1h0m.1 2h0m.1 .7h0m0 .1h0m.4 0h0m0-2.5h0m.1 1.2h0m0 1.5h0m0-2.8h0m.2 2.4h0m.1-2.7h0m.1 2.2h0m.1-.1h0m.5 1h0m.1-1.7h0m.5-1.4h0m.2 2.9h0m0-.9h0m0 .5h0m.1-.5h0m0 .3h0m.1-.5h0m.5-.1h0m0-1.5h0m.1-.3h0m.1 0h0m.1 3.1h0m0-3h0m.2 2.3h0m.1-1.3h0m.1 1.4h0m0-2.8h0m0 4h0m.2-.8h0m.1 .7h0m.2-3.4h0m.1 2.1h0m.4-.3h0m.1 1.1h0m0-2.8h0m.3 .8h0m0 1.6h0m.1-1.7h0m.5 1.2h0m.6-.8h0m.1 .9h0m.2-.3h0m.6 .7h0m.4-1.6h0m.8 .7h0m.2 1.1h0m.3-1.3h0m3.3-1.5h0m145.7 1.6h0m3.2-.7h0m.4-1.1h0m.1 1.3h0m.1-1.5h0m.1 1.3h0m.1-.5h0m1.4 1.5h0m.1 1.6h0m2.7-2h0m-185.8 3.4h0m1.3-.7h0m.3 1.3h0m.3 1.4h0m.6 .2h0m.6-.4h0m.6-3h0m.6 3.5h0m.4-1.4h0m.1-2.1h0m.4 1.3h0m.1 .6h0m.1-1.6h0m.1-.3h0m.1 2.3h0m.1-.8h0m.1 1h0m.1-2h0m.1 2.5h0m.5-.7h0m.2-.4h0m.3 .4h0m.5 1.4h0m.2-1.9h0m.5-.6h0m0 1.2h0m.2-2.5h0m0 .5h0m.3 1.1h0m.2-.2h0m.1-1.1h0m.1 1.8h0m0 1.8h0m.1-3.5h0m.3 2h0m.1 .3h0m.2 .2h0m0-1.3h0m.3-.9h0m.2 1.7h0m.8-1.5h0m.1 .9h0m0 .2h0m.4-1.2h0m0-.7h0m6.6 1.3h0m0 1.4h0m.4-2.4h0m.1 .6h0m0 .3h0m.2 1h0m.4-1.4h0m.1 3.1h0m0-.6h0m.2-1.1h0m0-2.3h0m.1 2.9h0m.1-2.3h0m0-.5h0m.2 1.1h0m.1-1h0m.2 1.1h0m.1-1h0m.3 1.6h0m.5-1.3h0m0 .4h0m0-.7h0m.2 2.2h0m.1 .5h0m.1-2.1h0m0 1.5h0m0 1h0m.2-.5h0m.3 1.1h0m.5-3.2h0m.5 2.2h0m0-.3h0m.2 .6h0m.3-1.6h0m.5 1.7h0m.1-2.8h0m.4 1.1h0m.1-1.5h0m.1-.2h0m.2 1h0m1.4 1.4h0m2.1 .1h0m149-2.5h0m3.5 .6h0m.2-.1h0m.8 2.1h0m.4-1.6h0m0-.9h0m0 2.5h0m2-2.5h0m0 3h0m.2 .4h0m.1-.1h0m0-1.3h0m.2-1.1h0m.5-.1h0m.4 0h0m.1 2.4h0m0-3.1h0m.3 1h0m.4-1.1h0m0 .8h0m.1 1.7h0m1.3 1.1h0m.3 .2h0m1.7-.5h0m-187.1 1.2h0m.3 2.9h0m.3-.5h0m.2-2.8h0m.2 2.4h0m0-1.1h0m.3-1.3h0m.3 1.1h0m0-.9h0m.1 1h0m.3 1.3h0m.1-1.6h0m.1 1.4h0m.3 .1h0m.4 .2h0m.7-1.3h0m0-.8h0m.1 2.9h0m.1-1.4h0m0-.2h0m.1-1.9h0m.5 1.9h0m.3 1.1h0m.1-2.2h0m.2 1.5h0m.1 1.5h0m.2-2.4h0m.1-.1h0m0 .2h0m0 .5h0m.3 .8h0m.1 .5h0m.4-.8h0m0-1.7h0m.2 2.3h0m.1-1.2h0m0-1.4h0m.1 2.3h0m.1-2.9h0m.3 2.5h0m0-2h0m0 2.2h0m.1-2.2h0m0 .9h0m.4-.7h0m.8-.4h0m7.6 .7h0m.3 .7h0m.3 1.3h0m0 .3h0m.4-2h0m0 2.4h0m.1-3.4h0m.1 .3h0m.1 1.9h0m.3-.6h0m.1-.7h0m0-1.2h0m.2 .4h0m0 1.8h0m0-.2h0m.1-2h0m.3 3.8h0m.1-2.1h0m.3 1.2h0m.1-1.6h0m.5 .7h0m.1 1.2h0m.1 0h0m.3-.6h0m1.1 .5h0m.1-1.7h0m.1 1.8h0m.1-.8h0m.2-1.7h0m.1-.5h0m.5 1.6h0m0 1.5h0m.1 .2h0m.2-2.4h0m.2 .4h0m.2 .4h0m.3 .1h0m.2 .6h0m.3-.3h0m1 1.6h0m1.1-3h0m.3-.2h0m2.5 1.7h0m153.5-1.8h0m.9 .1h0m.3-.2h0m.6-.4h0m.3 .5h0m0 2.1h0m.2 .8h0m.5-1h0m.3-.8h0m.1 1.4h0m0-1.9h0m.6 1.8h0m.1-2.7h0m.9 2.3h0m.5-.9h0m.3 1.6h0m.1-.8h0m.1 1h0m.2-3.3h0m.1 1.3h0m0 1.4h0m.3-1.1h0m.7 2h0m-189.8 .6h0m1.4 2.5h0m0-.6h0m.6-.2h0m.3 0h0m.2 1.4h0m.1-.9h0m.1 1.3h0m0-1.2h0m.1-.2h0m.4 1.5h0m.3-3.7h0m.5 .3h0m.8 1.3h0m0 .7h0m.4-2.1h0m.2 1.6h0m0-.3h0m.1 .4h0m0-.4h0m.1-.3h0m.3 1.8h0m.2-2.3h0m.2 .4h0m0-1.1h0m.3 3h0m.3-.1h0m.6-1h0m0-1.2h0m0-.2h0m.5-.2h0m.3 .9h0m.1 1.2h0m.1-1.9h0m0 1.8h0m9.4-1.8h0m.5 1.5h0m.2-1.6h0m0 1.7h0m.1 .5h0m.3-2.9h0m.3 .6h0m0 .5h0m.1 2.2h0m0-1.2h0m.1-1.8h0m0 1.1h0m.1 2.3h0m0-3.1h0m.1 2h0m.2 1.1h0m.1-3.2h0m0 .3h0m.1 .7h0m0 1.9h0m.2-1.8h0m.1 1.1h0m.1-.4h0m0-1.9h0m.3 .3h0m.1 1.1h0m.5 1.1h0m.1-.3h0m0 .1h0m.2-.9h0m0 .6h0m.1 0h0m.2-2.1h0m.2 .8h0m.3 .1h0m0-1.1h0m.2 2.6h0m.1 .3h0m0-2.9h0m.1 2.5h0m0-.3h0m.1-2.1h0m.2 1.9h0m0 1.9h0m.1-2h0m.4 1.1h0m.1 0h0m.2-2.6h0m0 3.2h0m.2-3.5h0m.8 .8h0m.2 .9h0m1.8-1.2h0m.3 1.9h0m157.4-2.2h0m1.8 .8h0m.5-1h0m.4 .5h0m.3 3.1h0m.2-3.5h0m.3 1.3h0m.1-.5h0m.1 .4h0m1.1 2.2h0m.4-2.4h0m0-.6h0m.2 2.4h0m.2-.5h0m.1-.5h0m.4-1.7h0m.1-.3h0m0 1.9h0m.2-1.9h0m.1 3.7h0m1.5-1.4h0m.3 1.1h0m.1 .5h0m.7-.5h0m.6 .1h0m-193.4 2.8h0m1.3-1.5h0m.1 2.3h0m0-1.8h0m.2-1.4h0m.4 2.5h0m0 .6h0m.9-.7h0m0-.4h0m.3 .8h0m0-2.7h0m.1 3.4h0m.1-2h0m.2 .2h0m.1-1.3h0m.4 2.6h0m0 0h0m.2-1.6h0m.2 2.4h0m.2-1.8h0m.2-1.9h0m.5 2.3h0m.8 1.3h0m0-2h0m.3-1.3h0m0 2.1h0m.4 .6h0m0 0h0m0-1h0m10.9-1.5h0m.5 .7h0m.1 .8h0m.2 .5h0m.8 .6h0m0-1.3h0m.1 1.1h0m0 .3h0m.3-1.3h0m.5-.9h0m.2 2.6h0m.1 .3h0m.1-2.4h0m.1-1.4h0m.1 2.3h0m0-.3h0m.6 1h0m.1-1.2h0m.5 1.8h0m0-1.5h0m.3-.4h0m.2 1.9h0m.4 .2h0m.6-1.3h0m.2-1.7h0m0 2.5h0m0-2.7h0m.4 .3h0m4.3 2.5h0m160.5-3.3h0m.7 2.2h0m.9-1.7h0m.2 2.5h0m0-.2h0m.1-.8h0m.1 .4h0m.3-1.4h0m0 .4h0m.1 .6h0m0 1.5h0m.6-3.1h0m.2 2.8h0m.1-1.2h0m.3-2.1h0m.2 1.9h0m0 1.2h0m.3-1h0m.2-1.1h0m.4 2h0m.5-.7h0m.2 1.1h0m.3 .4h0m.1 0h0m.4-2.3h0m1.1 1.8h0m.2 .4h0m-196.3 1.3h0m.2 .3h0m2.1-.6h0m.1 .4h0m.2 .8h0m.3 .4h0m.3 1.3h0m0-3.2h0m.5 1.6h0m0 1.5h0m.5 .1h0m0-2.5h0m.4-.1h0m.1 1.8h0m.5-1.4h0m0-.8h0m.2 2.5h0m.1-.3h0m.1-1.7h0m0 1.8h0m.1-.3h0m.2-2.1h0m.3 .6h0m.1 .7h0m0 .2h0m.2 .9h0m.5-1h0m.1 1.8h0m.1-1.8h0m.3-1.4h0m.2 .4h0m11.2 0h0m.1-.5h0m.6 .5h0m.2-.5h0m.4 .4h0m.3 2h0m0-2.1h0m.3 .7h0m.2 1.3h0m.3-1.6h0m0 .9h0m.1-1h0m.2 1h0m.3-1.7h0m.1 3.3h0m.1-3.2h0m.1-.5h0m0 1.8h0m.1 1.1h0m.1-1.2h0m.3-.4h0m0 0h0m1 .9h0m0 1.4h0m.4-2.9h0m.1 2.3h0m.2-1.8h0m.1 2.1h0m.9-.3h0m.3-2.4h0m1.1 1h0m164.5-1.4h0m0 0h0m1.1 .8h0m.2 1.9h0m.4-2.5h0m.2 .6h0m.1-.2h0m.5 .6h0m.1 2.4h0m.7-3.1h0m.1 0h0m0 2.5h0m.4-3.2h0m.1 1.9h0m.3 1.9h0m.1-.2h0m.2-1.5h0m0 1.3h0m.7-2.3h0m.2 2h0m.1-.4h0m.1 .1h0m.6 1h0m1.2-1.6h0m.1 1h0m.3 .5h0m1.1-.8h0m-199.4 3.9h0m.8-1.1h0m.7 .1h0m.5 1.4h0m.4-1.4h0m.2-1.9h0m.1 .7h0m.9 1.8h0m0-1.5h0m.2 2.3h0m.2-.7h0m0 1.1h0m.1-1.2h0m.5 1.1h0m.2-1.6h0m0-.7h0m.1-1.2h0m.2 1.2h0m0-.9h0m0 3.4h0m.1-2.7h0m0 1.9h0m.5-.3h0m.1 .8h0m.1-1.4h0m.4 1h0m0-.5h0m.2 1.1h0m.8 .2h0m.1-3.4h0m.1 .7h0m12.7-.2h0m1.2 1.7h0m0-.4h0m.1 .4h0m.1-2.2h0m.1 .8h0m.1 .6h0m.1 1.2h0m.2-2.2h0m.7-.4h0m1.1 .5h0m0 1.4h0m.2 .8h0m.1-.3h0m.8-1.3h0m.3 2h0m2 .3h0m166.1-3.1h0m.5 .9h0m.1-.3h0m.8 .6h0m.7-.9h0m.1 .2h0m.5-.1h0m0 1.4h0m.2-1.8h0m.3 1.9h0m.4 .4h0m.3-1.8h0m.1 .7h0m.7-1.6h0m.1 1.2h0m0 .1h0m.5-1h0m.1 1.1h0m.8-.2h0m0 1.1h0m1.8 1.1h0m0-1.7h0m.1 1.9h0m.7-.5h0m-202.1 4.4h0m1.5-3.1h0m.1 1.7h0m1.1-.4h0m.9 1.8h0m.1-1h0m0 .7h0m.3-.9h0m0-1.9h0m.2 2.3h0m.4 .8h0m.1-.2h0m.2 .1h0m.3-1.5h0m.4 .4h0m.1 .4h0m.9-1h0m.1-.4h0m.4-.3h0m.2 1.7h0m.1-1.3h0m.1-.2h0m.2 .4h0m0 1.4h0m.3-.3h0m.1-.5h0m0 1h0m12.9-2.6h0m.8 .6h0m.1 .7h0m0 .7h0m.1-2.3h0m.1 1h0m.2-1.4h0m.1 2.3h0m.1 .9h0m.1-.6h0m.2-.8h0m.5 .9h0m.4-2.6h0m.4 3.2h0m.4-2.2h0m.1 0h0m0 1.7h0m.1-1.9h0m0 .6h0m.4-.9h0m0 .2h0m.1 .1h0m.1-.7h0m.2 .7h0m.5-.8h0m169.5-.4h0m2.5 .2h0m.2 .6h0m1.1 2.7h0m0-1.6h0m0 .3h0m.2-.5h0m0-.6h0m.6 2.4h0m0 0h0m.4-.9h0m0 .5h0m.6-2.9h0m.5 .1h0m.1 .6h0m.1 .7h0m.4 1.1h0m.4 .4h0m.2-1.1h0m.3 .5h0m.2 1.1h0m.8-.8h0m.1-1.9h0m.6 2h0m-203.5 4h0m0-1.6h0m1.4 1.2h0m0-.3h0m.9-1.3h0m.2-.3h0m1.3-.4h0m0 1.5h0m.1-.8h0m.2-.8h0m.3 2.7h0m.5-1.1h0m0 1.9h0m.7-3.4h0m0 2.6h0m0 .4h0m0 0h0m.1-2.3h0m1.1-.7h0m.3 1.9h0m.5 1.3h0m.1-.3h0m.2 .7h0m13.4-2.7h0m1.4 .2h0m.1 1.2h0m.1 .6h0m0-.1h0m.7 .6h0m0-2.8h0m.1 3h0m.5-1.9h0m.1-1.5h0m.5 3.1h0m.1-3.2h0m0 2.4h0m.2-1.9h0m.2 0h0m.9-.7h0m.4 3.7h0m.6-2.3h0m.9-.9h0m170.3 .2h0m.8 3h0m.8-2.6h0m1.3-.6h0m.3 2.7h0m0-2.4h0m.1 0h0m.4 .9h0m.1-.1h0m.3 2.2h0m.2-.9h0m.1 .7h0m0-1.9h0m.4-.5h0m.1-.4h0m0-.1h0m.4-.6h0m.1 .5h0m.6 1.5h0m0 1.6h0m.2-.8h0m0-.5h0m.2 .1h0m.2-1.3h0m.1 0h0m0-.1h0m.3 1.9h0m.3-2.4h0m.7 2.4h0m.3-1.2h0m.2-.7h0m0-.1h0m.4 2.5h0m.4-1.3h0m.6 1h0m.2 .4h0m-203.7 2.7h0m.4-.8h0m.9-1.3h0m.2 3.2h0m.1-2.6h0m0 1.5h0m.1 .5h0m.5-2h0m.2 2.6h0m0-2.5h0m0 1.7h0m.4 .1h0m.3-2.3h0m.3 3.3h0m.2-1.2h0m.1-.7h0m0-.2h0m.1 .9h0m14.8-2.4h0m.6 .1h0m.3 3.6h0m.8-.8h0m.1-1h0m.2-1h0m.6 1.4h0m.5 .7h0m.1-2.2h0m.6 2.2h0m.8-2.8h0m0 2.3h0m.1-2.2h0m171.4 .1h0m2.8-.6h0m1.5 3.4h0m0-2h0m.1 .7h0m.8-1.3h0m.4 .5h0m.3-.3h0m.2 1.2h0m.7-.5h0m0-.9h0m.2 1h0m0-.7h0m.1 2.5h0m.9 .2h0m.3-2.4h0m.5-.1h0m.6 1.7h0m0-2.5h0m1.1 3h0m.2-3.3h0m.7 1.5h0m-208.1 6.1h0m1.9-1.8h0m.5-1.9h0m.2 2.2h0m.5-1.4h0m.7-.1h0m.1 2.5h0m.7-.8h0m.1-.5h0m.2 1.5h0m.3-.8h0m.1-.9h0m.2 1.9h0m0-2.9h0m.4 1.1h0m.2 .7h0m.1-1.5h0m0 1.7h0m.1 .9h0m0-2.7h0m.6 1h0m.4 1.9h0m14.4-3.7h0m.1 0h0m.1 .1h0m.2 1.1h0m.4-.4h0m.5 2.1h0m.2-1.6h0m0 .6h0m.2-.4h0m.5 .2h0m.1-1.4h0m.3 1.1h0m.3 2.2h0m.1-.3h0m0-.1h0m1.1-.1h0m.9-.4h0m0 .4h0m176.6-2.4h0m.5 .2h0m.9 1.1h0m.2-1.4h0m0 .3h0m.3 .5h0m.1 .2h0m.2-.9h0m0-.9h0m1.4 .2h0m.1 2.6h0m.2-1.5h0m1.2-.1h0m.1 .7h0m.3 1.7h0m.2-1.2h0m.6 1.3h0m.1-1.7h0m.4 .7h0m0 1h0m.3 .3h0m.1-2.8h0m.3 .3h0m.6 1.8h0m.5 .6h0m.8-.7h0m-212.6 1.7h0m1.8 2.6h0m.8-3h0m1.2 .1h0m0 1.6h0m.5-1.8h0m.1 2.9h0m.2-2.9h0m1.1 1.6h0m.1-1.2h0m.2 2.1h0m.5 .1h0m.1-2.2h0m.1 2.8h0m.2-2.6h0m.1-.7h0m0 2.1h0m.9 .4h0m.1 .5h0m15.6-2.5h0m.6-.3h0m.8 2h0m.4-.8h0m.1 1.3h0m0-.5h0m.2-1.6h0m.2 2.1h0m.4-2.6h0m0 2.5h0m.3 0h0m.1-1.2h0m.2-1h0m.4 2.3h0m178.4-2.6h0m1.4 1.5h0m.6-.2h0m.3 0h0m.2 .1h0m0-1.5h0m.1-.2h0m.4 0h0m.5 2.1h0m0-1h0m.1 1.8h0m.1-3h0m.5 2.4h0m.2-.2h0m0-.8h0m.2 2.2h0m0-.5h0m0-2.1h0m.1 1.1h0m.2-.1h0m.3 .9h0m.2-.3h0m.3-1.3h0m.3 1.2h0m.1-2.5h0m.7 3.7h0m.1-3.5h0m.1 3.6h0m.1-2.9h0m0-.3h0m.6 1.8h0m.2 .4h0m.4-1.8h0m.1 1.2h0m0 1.7h0m0-1h0m.2 0h0m0-1.4h0m.8 .4h0m1.4 1.6h0m-212.2 .6h0m.4 .7h0m.7 2.2h0m.5 .9h0m.1-3.5h0m.4 .1h0m.1 .1h0m.7-.5h0m.1 2.9h0m.1-2.2h0m.1 1.4h0m.6-2.1h0m0 3.5h0m.1-1.4h0m.3-.1h0m0-2h0m.1 1.1h0m.2 2.3h0m.2 .4h0m.3-1.4h0m.2-.2h0m.3 1.5h0m.2-.1h0m15.2-2.7h0m.5 .6h0m.1 .2h0m.1 .2h0m0 1h0m.2-2.1h0m.6 0h0m.6-.6h0m.1 1h0m.1 .1h0m182.9-1.1h0m1.1 2h0m.1 1.4h0m.2-3.2h0m.3 1.4h0m0 .6h0m.3-.5h0m.1-.4h0m0-.3h0m.1-.2h0m.2 2.2h0m.3-1.1h0m.2 .8h0m.2-1.4h0m.5-1.3h0m0 3.2h0m.2-2.8h0m0 .8h0m.1-.9h0m.2-.5h0m.3 2.6h0m0 .5h0m.1 .1h0m.1-1.3h0m.1 1.7h0m.3-.3h0m.1-2.7h0m.1 1.4h0m0-1.7h0m0 1.7h0m0 .2h0m.3-.9h0m.4 .8h0m.2-1.8h0m0-.2h0m.1 2.5h0m.1-.3h0m.1 .5h0m0-1.2h0m.1-1.2h0m1.3 3.1h0m-212.6 3.5h0m.9-2.3h0m.8-.4h0m.1 2.1h0m.7-1.3h0m.2 .3h0m.1 .5h0m.1-1.6h0m.1 2.2h0m.2 .7h0m.1-1.5h0m.7 1.7h0m.5 .2h0m.2-1.8h0m0-1.1h0m.3 2h0m0 0h0m.2 0h0m.4 .4h0m.4 .7h0m15.1-1.8h0m0-1.4h0m.2 1.7h0m.1-.3h0m.2 .1h0m0 .6h0m.2-.3h0m0-2.4h0m.2 .9h0m.8 2.3h0m0-2.5h0m.8-.5h0m0 .3h0m.2 2.3h0m.3 .1h0m.1-.6h0m0 1h0m.6-1.6h0m.1 .8h0m.2 1.1h0m182-2.9h0m.3-.1h0m.4 .4h0m.2 0h0m.4 2.1h0m.1-3h0m.1 .9h0m.3 .1h0m.1 1.6h0m.2 .8h0m.2-3.2h0m.4 1.5h0m.5 1.1h0m.4-1.6h0m.2 .2h0m.1 2.3h0m0-3.6h0m.1 1.3h0m.4 .8h0m.1-.1h0m0-.4h0m.1-.6h0m0 .4h0m.2-1h0m.1 3h0m.1-1.6h0m.1-2h0m.1 .7h0m0 1.1h0m.1 1.6h0m.5-.4h0m.1-1.8h0m.1-.3h0m.3 1.6h0m1-.2h0m.1-.5h0m.2 1.6h0m-212.9 1h0m1.3 .2h0m.1 .4h0m.1-.1h0m.9-.8h0m.2 2.1h0m.4-.9h0m0-1.2h0m.6 2.1h0m.1-.4h0m.1-1.7h0m.1 1.2h0m.4 .7h0m.2 .2h0m.5 .9h0m.1 .4h0m.1-.9h0m15.1-2.6h0m.1 0h0m.4 .1h0m.1 .9h0m0 .3h0m.1 .5h0m.3 0h0m.4-.4h0m0 1.9h0m.2-1.1h0m0-.5h0m.1-1.3h0m.3 2.3h0m.5 .6h0m.1-.3h0m0-.6h0m0 1.2h0m2-.4h0m182-2.2h0m1.3-.9h0m.3 .3h0m.1 .1h0m.3 2.6h0m.1-1.7h0m.2-1.3h0m.1 2.7h0m.1 .6h0m.1-2h0m.5-.9h0m.6 .4h0m0 1.4h0m0-.9h0m.4-.6h0m0 2.5h0m1.2-2.5h0m.1-.8h0m.7 1.9h0m.1-.2h0m.2-.8h0m.2 .8h0m.5-.7h0m0 2.1h0m.1-2h0m.5-.9h0m1.1 .9h0m.3 2.4h0m.3-.6h0m.3-.2h0m1.1 .7h0m-215 1.4h0m1.4-.1h0m.1 1.4h0m.1-2h0m.4 .3h0m1.1 .2h0m.1-.3h0m.8 2.6h0m.1-.4h0m1.6 1.3h0m14-2.8h0m.2 .8h0m.3-.8h0m.5 1h0m.1 .5h0m0-2h0m0 2.9h0m.5 .4h0m0-3.3h0m.5 .7h0m.3 .3h0m.4 1.1h0m0-.3h0m.1-.9h0m.3-.5h0m1.6 2.8h0m183.4-2.4h0m.2-.1h0m.5-1.3h0m.7 2.3h0m0-2h0m.1 1.5h0m.3-.6h0m.3-.6h0m.1-.5h0m.3 3.5h0m.5-1.9h0m.5 .8h0m.3-.6h0m.2 1h0m.1 .2h0m.5-1h0m.2-1.9h0m.3 .4h0m.1 2.1h0m0 .7h0m.4-.9h0m.7-1.2h0m.4 1.8h0m.1-.3h0m.3-1.3h0m.7 2.1h0m0 0h0m.3-1.5h0m2.5 .8h0m-215.9 1.8h0m.7 .1h0m.3 1.3h0m.1-1.3h0m0 2.3h0m.2-2.4h0m.2 .3h0m1.1 1.9h0m.7-2.7h0m.5 3.2h0m.3-.8h0m.5-.1h0m0 .7h0m.6 .6h0m14-2.8h0m.7 1.8h0m0-.6h0m.1-2h0m1.2 2.7h0m.2-.3h0m0 1.2h0m.4-1.5h0m0 .1h0m0 .8h0m.5-1.1h0m1.4 1.7h0m184.1-1.6h0m1.2-2.1h0m.2 .1h0m.6 1.5h0m.1 .3h0m.2-.1h0m.3 .7h0m0 .9h0m.1 .5h0m.1-1.8h0m0-2h0m.5 2h0m0 .2h0m.3-1h0m0-.4h0m.1 .3h0m.4 1.6h0m0-2.8h0m.1 .7h0m1-.3h0m0 2.3h0m.2 .6h0m.1-.5h0m.6-.1h0m.1-.1h0m0-1.1h0m0-1.2h0m.1 .5h0m0 2.1h0m0-1.3h0m0 1.9h0m.5-.3h0m.2-1.1h0m.4-1.6h0m.6 2.4h0m.6 .5h0m.8-.4h0m.5 .4h0m.1 .2h0m-216.5 1h0m.5-.1h0m.4-.4h0m.8 0h0m1.2 2.3h0m.3-1.8h0m.2 1.3h0m.3-.2h0m.1-1.3h0m0 .1h0m.1 1.3h0m.8 1.1h0m.3-1.8h0m.2 .2h0m.5 1.6h0m.3 .4h0m.1-1h0m.1 1.4h0m1.1-.7h0m.6 .5h0m12.3-2.6h0m.5 1h0m.5 1.1h0m.7-2.4h0m.1 1.4h0m.2-1.5h0m0 1.1h0m0 .3h0m.6-1.7h0m.1-.2h0m1.1 3.9h0m183.9-3.7h0m2 .7h0m.3-.9h0m1.8 2.9h0m.1-.7h0m.3-2h0m.5 .8h0m.1-.7h0m.8 .2h0m.3 2.7h0m0-.5h0m.1-.5h0m.2 1h0m.1-3.1h0m.2 1.5h0m.1 .1h0m.2 .6h0m.1 .3h0m.1 0h0m.2-1.9h0m.2 2.4h0m.4-1h0m.3 .6h0m.5-.2h0m.5 .5h0m.1-1.2h0m0 .7h0m.2 .2h0m-211.9 1.3h0m1.4 .6h0m0 1.5h0m.2-.2h0m.2-1h0m.1-.4h0m.3 .9h0m.1 .1h0m.1 .5h0m0-1.8h0m.2 1h0m0 .3h0m.1 .5h0m0 .6h0m.1-1.5h0m0 .3h0m.3-.4h0m.2 .6h0m.1 .3h0m.1 .3h0m.2 .5h0m1-.3h0m.3 .6h0m.1 .5h0m12-1.9h0m.3-.3h0m0-.2h0m.1-.7h0m.1 1.3h0m.4-1.6h0m.6 .7h0m.6 1h0m0-1.3h0m.3 3h0m.3-.2h0m.9 .6h0m1-.1h0m185.7-3.4h0m.8-.2h0m.3 1.1h0m.8-.1h0m.1-.7h0m.5 2.6h0m.2-1.8h0m.1 1.6h0m.1-1.7h0m0 1.5h0m.1-.6h0m.3 .3h0m0-.7h0m.1 .3h0m.1 .6h0m.3-1.6h0m0 2.4h0m.3-3.4h0m.2 3.2h0m.5-2.4h0m.1-.8h0m.3 2.3h0m.2 1.1h0m.5-.1h0m0 0h0m.5-.2h0m0-1.1h0m.4 .3h0m.1 .6h0m0-.8h0m.6-.8h0m.2 1.9h0m.4 .2h0m.1-1.5h0m.4 .1h0m.4 1.7h0m-213.6 3.6h0m.2-3.1h0m.1 2.2h0m1.3-.7h0m.3 .1h0m.2-.7h0m.2 1.3h0m0 .5h0m.1-2.4h0m.2 .9h0m.3 .4h0m.4-.2h0m0-.4h0m.2 2.6h0m.5-1.8h0m.1 .8h0m0 .5h0m.1-2h0m.4 .2h0m.1 .7h0m.3 1.4h0m.2-.3h0m0-1.3h0m.3 .4h0m10.5-2.2h0m.3 .3h0m0-.1h0m.5 .2h0m.1 .2h0m.1 .1h0m0-.6h0m.2 1.6h0m.2-.8h0m0-.8h0m.1 1.3h0m.1 .9h0m0 .3h0m.1-1.1h0m.3-1.3h0m.2-.1h0m.2-.4h0m.1 1.9h0m.1-.8h0m.5-.8h0m.3 3.1h0m.4-1.7h0m.4 2h0m0-.2h0m0-1.7h0m0-.5h0m.4 2.2h0m2.5-.8h0m184.9-2.6h0m.9 .7h0m.4 .6h0m.4 .2h0m.4 1.6h0m.6-.5h0m.3-.3h0m.3-2.3h0m.1 .1h0m.1 3h0m.1 .4h0m0-3.3h0m.5 1.9h0m.3-.6h0m.4 .7h0m.1-2h0m.1 1h0m.1 1.6h0m.1-2.3h0m.1 .7h0m.2 1.8h0m.3-1.2h0m.5 .8h0m0 .2h0m.1-2.8h0m.2 1.8h0m.3 .9h0m.1 .6h0m.1 .2h0m.2-.8h0m.9 1h0m-213.5 1.3h0m.6-.5h0m.8 .1h0m.3 1.9h0m.2-1.3h0m.1 1.4h0m.6-.1h0m.2 .5h0m0-1.3h0m.1 1.7h0m.1-3.1h0m.1 1.5h0m.1 0h0m.4 .6h0m0-1.3h0m.1 .1h0m.1 1.2h0m.4-.2h0m.5-.7h0m0 2.1h0m.2-1.4h0m.1 .7h0m1.1 1h0m11.2-1.6h0m0-.7h0m.1 1.5h0m.7-.8h0m0 .1h0m.3-.8h0m0-.6h0m.2 2.5h0m.4-.8h0m.2-2.6h0m.4 1.6h0m186.1-1.3h0m2.1 .9h0m.1 1.7h0m.5-1.7h0m.1-.8h0m.6 .7h0m.2-1h0m0 3.6h0m.1-1.7h0m.1 .7h0m.2-.7h0m.4 .8h0m0-1.1h0m.1 .7h0m.1 .3h0m.1-.3h0m.5-2.3h0m1.6 .2h0m0 .5h0m.1 .3h0m.2-1.1h0m.7 1.8h0m.1-.2h0m.5 1.2h0m.6-.1h0m.2-.6h0m.1-.4h0m1.6 1.2h0m.1-1.4h0m-213.4 4.5h0m.3-.2h0m.3-2h0m.8 1.2h0m.6-.4h0m.5 1.6h0m.2 1.2h0m.3 0h0m0-.3h0m0-.3h0m.6-.7h0m11.6-2.1h0m.1 .2h0m.6 .2h0m.1 1.6h0m.7 .1h0m.8-.4h0m.2-.7h0m.1 2.5h0m.6-.8h0m.3-.1h0m1.3 .7h0m1.2 .4h0m184.4-3.8h0m1.2 .4h0m.6 1.8h0m.1-2.2h0m.5 2.9h0m.4 .1h0m0-2.2h0m.2 0h0m0 1h0m0-.5h0m.1 1h0m.1 1h0m0-2.3h0m1.5 2.4h0m.2-.7h0m0-2.4h0m.2 3.3h0m.4-2h0m0-.2h0m.8-1.4h0m1.1 .2h0m0 .2h0m.1 .5h0m.1 2.1h0m.7 .4h0m0-1.9h0m.2 .5h0m1.8 1.5h0m-215.9 2.1h0m2-.9h0m.2 .4h0m.9-.1h0m.7 .2h0m.3-.4h0m.4 .6h0m.2-.2h0m0 .5h0m.1 1.6h0m.6-.4h0m.1-2.1h0m0 2.9h0m.4-1.7h0m.4 .8h0m.4 .3h0m10.2-3h0m1.4 .2h0m.1 .4h0m0-.8h0m.3 .5h0m.2 2.8h0m.3 .2h0m.1-.5h0m.2-2.5h0m.1 2.7h0m.7-1.5h0m.2 1h0m0 .4h0m0 .1h0m.5-.3h0m0-.8h0m.1 .1h0m.4 .8h0m0 .5h0m.8-.2h0m185.8-2.5h0m.3-.3h0m1.9 .2h0m.1-.4h0m1-.1h0m.3 2.2h0m.3-.8h0m.1 .3h0m.2 1h0m.3 .2h0m.4 .1h0m.5-2.3h0m.5 .5h0m.7 .5h0m0-.3h0m.7-.5h0m.1 1.3h0m0-1.7h0m.1-.4h0m0 3.3h0m.8-2.5h0m.4 1h0m.2 1.8h0m0-.4h0m.1-1.7h0m-213.2 3.1h0m.6-.5h0m.3 1.4h0m.4-.9h0m.5 1.5h0m.1 .4h0m.3 0h0m0 .7h0m.3-2.6h0m0 .8h0m.1 1.4h0m.1 .6h0m.5-3.2h0m.3 1.8h0m.1-1h0m.1 1.3h0m0 .2h0m0 1.1h0m.4-.8h0m.4 .2h0m.2 .1h0m11.6-2h0m.1-.4h0m.7-.8h0m.4 2.3h0m0-1h0m0 1.1h0m1.2 .8h0m.2-2.2h0m.2-1.2h0m.2 1.7h0m.2 2.1h0m.5-.9h0m.3 .1h0m.7 .9h0m184.1-3.6h0m2.4-.2h0m.4 .6h0m1 1.4h0m0 .5h0m0 1.1h0m.1-1.3h0m.1 .6h0m.4-3h0m0 2.4h0m.5-1.6h0m0 0h0m.2 .3h0m.2 0h0m.1 1h0m.2-.6h0m.6 1.6h0m.9-2.9h0m.1 .8h0m.2 .3h0m.2-.2h0m.1 .2h0m0-.9h0m.2 .3h0m.1-.7h0m.3 2.6h0m.2 1.1h0m0-2.8h0m.2 1.6h0m.3 .4h0m.4-.6h0m.3-2.1h0m.2 1.9h0m.2-.8h0m0 .5h0m.1 .2h0m.3-.7h0m1.1 1.6h0m-213.5 3h0m.2 0h0m.2-1.3h0m.2 .2h0m0-.4h0m.1 1.5h0m.1-.9h0m0-.7h0m.8-.1h0m.4 .5h0m0 .9h0m.1 1.7h0m0-2.2h0m.1-1h0m.6 1.8h0m.5 .9h0m.1 .1h0m.2 .3h0m10.9-3h0m.6 .2h0m.4 1.1h0m.1-.2h0m.9 1.5h0m.5-2.5h0m.6 2.8h0m.4 .7h0m.4-.3h0m.7-1.1h0m0 .3h0m.1 1.2h0m.1-.3h0m.1 .2h0m.1-1.5h0m.2 0h0m186.9-1.2h0m.3 .6h0m.3-1.5h0m.1 3.6h0m.1-.2h0m0-2.5h0m.3-.9h0m.1 1.6h0m.4-1.6h0m.5 1.7h0m1.2 .6h0m1.6-2.2h0m.1 1.4h0m.4-1.4h0m.4 .3h0m.6 2.2h0m.7 .2h0m.2-.6h0m.1 1.5h0m.8-.9h0m.2-2.3h0m.7 3.2h0m.5 0h0m-215.7 3.7h0m2.5-3.3h0m.6 2h0m.1 .5h0m.5-1.2h0m.3 .6h0m.2-.4h0m.4 1.8h0m.1-1.7h0m.8 1.2h0m.4 .6h0m12.3-2.5h0m.4 .2h0m.6-.4h0m.3-.9h0m.1 3.5h0m.1-2.9h0m.6 1.3h0m.3-1.9h0m.2 1.4h0m.1 1.3h0m.7-.5h0m.1 1.2h0m1.5-.5h0m184.1-1.6h0m1.4 1.1h0m1.2 .7h0m0-2.4h0m1 1h0m.3 .8h0m1.6-2.5h0m.6 .7h0m.1 0h0m.3 .2h0m.1 1h0m.2-.7h0m0 .4h0m.4-.3h0m1 .1h0m.3 2.1h0m.3-1.3h0m-213.2 3.4h0m1-.3h0m.3 .9h0m.7-1.6h0m.1 1.8h0m0-1.5h0m.2 .5h0m.1-.1h0m0-1.2h0m.6 3.7h0m.2-.2h0m.3-2.5h0m.1-.6h0m.3 2.5h0m0-2h0m0 0h0m.4 1.5h0m0-.7h0m.6 .6h0m13-2.5h0m.1 .8h0m.2-.2h0m.4 .7h0m.6-.8h0m.9 1.4h0m.4 1h0m.2-2.8h0m0 3h0m0-1.1h0m.2-1.8h0m.1 1.2h0m.3-1.2h0m.9 2.9h0m1.2 .4h0m.1-.3h0m0-.3h0m.9 .5h0m.3 .6h0m.5-.3h0m.8 .2h0m181.5-3.5h0m0 1.7h0m0-1.9h0m.1 .5h0m.2-.6h0m.3 2.7h0m.9-1h0m0-.3h0m.1 2.2h0m.3-2.8h0m1.6 1.2h0m.7 1.7h0m0-.5h0m.2 .4h0m1-2.8h0m.1 .6h0m.4-.3h0m0 1.5h0m.1-1.5h0m.1 .5h0m.2-1.2h0m0 .5h0m.4 2.3h0m.1-.4h0m0-1.2h0m.1 1.4h0m0-.7h0m.2-.9h0m.5 1.7h0m.1 .6h0m.1-.8h0m.1-1.7h0m2 1.4h0m-213.7 1.9h0m.2 1.1h0m0-1.7h0m.3 1.3h0m.2 .8h0m.1-1.3h0m1.1-.5h0m.7 1h0m.7 .8h0m0 1h0m.2-1.2h0m.4 1.4h0m15.2-2.9h0m.4 .1h0m.1 .2h0m.1 .9h0m.1 0h0m.5 .7h0m.7-2.1h0m.2 1.5h0m.3 .5h0m.6-1.1h0m.1 0h0m.9 .6h0m.1 1.1h0m.1 .5h0m.3-.2h0m0-1.4h0m.4 .8h0m.4 0h0m.6 .3h0m180.9-1.2h0m.7-.5h0m.3-.7h0m.5-.1h0m.2 2.9h0m.2-.5h0m.3 .6h0m.5 .6h0m.4-2.1h0m.2 1.1h0m.1-.2h0m.1 0h0m1.7-2h0m.1-.4h0m.2 1h0m1.2 1.7h0m.1 .8h0m.2 .2h0m.2-1.9h0m0-.3h0m.1 1.2h0m0 .9h0m.3-1.5h0m0-.1h0m.5 1.2h0m.5-.2h0m.2-2.4h0m.1 2.8h0m-213.1 .7h0m.2 .7h0m1.7 1.2h0m.3-1.2h0m.6-.9h0m.3 1.4h0m.7 2.3h0m.6-.5h0m.7-.1h0m1.7 .5h0m.1 .1h0m15.1-3.4h0m1-.4h0m.8 2.3h0m.3 1.2h0m.6-.9h0m.2-.3h0m.3-1.5h0m.7 2.9h0m.2-3.3h0m.2 1.6h0m.4 .7h0m.3 .9h0m0-.1h0m.2-1.1h0m2.6 1.3h0m176.6-2.7h0m.3 2.9h0m.5-3.1h0m.1-.4h0m.6 2h0m.3-1.1h0m.1 2.4h0m0-3h0m.1-.2h0m0 1.3h0m.2-.2h0m.6 .3h0m.7 1.3h0m2.3-2.7h0m.3 .8h0m.3-.1h0m.2 1.9h0m0-.7h0m.1-1.8h0m.1 2.6h0m.1 .2h0m.3-1.7h0m.3-.8h0m0 .5h0m.1 2.4h0m.3-.1h0m.4-1.5h0m.2-1.5h0m.2 1.6h0m.5 1.4h0m0-.1h0m.4-.9h0m-211.2 1.9h0m.2-.5h0m.3 .3h0m1.2 2h0m.4-2h0m.1 2.7h0m.1-2.1h0m.2 .9h0m.1-.3h0m.6 .5h0m.3 .6h0m.1-.8h0m.5 1.8h0m.2-.9h0m.4 .9h0m.2-.8h0m.7 .5h0m.3 .2h0m15.1-3.6h0m1.1 1.5h0m0-.2h0m.5 .2h0m.2 .2h0m0 1.3h0m.2-2.7h0m.1 1.8h0m.3-.4h0m.2-.3h0m.6-.4h0m.6 2.1h0m.6 .8h0m.8-1h0m177.8 .2h0m.5-1.7h0m.2 1.3h0m0-1.7h0m.2 1.7h0m.2-2.5h0m.2 1.4h0m.2-1.2h0m.6 .8h0m.5 2h0m0 .7h0m2.5-3.9h0m.1 .6h0m1.7 1.1h0m.5-.9h0m.3 1.5h0m.4-.9h0m.8 1.8h0m.2-1.5h0m.6 1.5h0m3.7 .2h0m-215.1 .7h0m1.8 1.9h0m0-.5h0m.5-1.4h0m.3 2.8h0m.3-2.8h0m.1 1.4h0m0 .3h0m1.3 1.9h0m.3-1.1h0m0 0h0m.2 .4h0m.1-1.4h0m.3 .1h0m.1-.2h0m.9 2.4h0m.9-.3h0m.1-.3h0m.5 .5h0m14.2-3.7h0m0 0h0m.5 .5h0m0 .2h0m1.1 1.8h0m.1 .1h0m.2-2.7h0m.1 2.1h0m.3 .7h0m.1 .9h0m.5-1h0m.2-1.5h0m.4 .4h0m.4 2.3h0m.5-2.6h0m.5 1.3h0m175.1-1.2h0m.1-1.4h0m.4 1.1h0m.3 0h0m.5-.9h0m.7 .3h0m.3 1.8h0m.1-1.6h0m.1-.2h0m.2 1.2h0m0 1.4h0m.3-.6h0m.3-2.3h0m.2 .7h0m0 1.9h0m3.9-1.6h0m.2 .1h0m.7-1.2h0m.2 .1h0m.6 2.3h0m.1-1.2h0m.3 1.7h0m.6-1.4h0m.3 1.6h0m.1 .5h0m-207.5 .3h0m.2 1.4h0m.2-.4h0m1.1 .6h0m.3-1.2h0m.1-.2h0m0 2.6h0m.1-1.5h0m.7-.9h0m.2 3.4h0m.2-3.1h0m.1 2.3h0m.3-.6h0m.2-1.9h0m.1 .1h0m.3 2.5h0m.1-1.7h0m.1 .1h0m0 0h0m.1 1.5h0m.3 .8h0m0-.7h0m.5-.2h0m.4 .8h0m.1-.7h0m13.9-3h0m.5 1.2h0m.1-.3h0m1.3 .2h0m.1-.3h0m.2 .2h0m.2 2.3h0m.3-2h0m.1-1h0m.1 1.6h0m.5 1.3h0m.1-2.3h0m0 2.6h0m.2-1.4h0m0-1.4h0m1.1 2h0m.1 .5h0m175.8-.3h0m0 .4h0m.8-3.4h0m.1 1.4h0m.1 0h0m.1 1.5h0m0-1.7h0m0 .4h0m0-1.1h0m.1 1.2h0m.1-.2h0m.3 .2h0m.1 1h0m.3 1.2h0m.1-2.7h0m.4 2.4h0m2.7-3.6h0m1 2.1h0m.1-1.7h0m.2 0h0m.6 2.2h0m.1-2.1h0m.2-.2h0m0 3.4h0m.2-1.5h0m.4-.5h0m.2 2.2h0m.1-2.9h0m0 .2h0m0 .4h0m-205 2.6h0m1.5 1.3h0m.3 0h0m.2-.4h0m.2 .7h0m.2-.9h0m.1 2.1h0m.2-.5h0m.1-1.7h0m.7 1.9h0m0-.1h0m.2 .7h0m.3-2.3h0m0 .7h0m0 1.8h0m.3 0h0m.3-1.7h0m.1 1h0m.4 .9h0m.1-.3h0m13.7-3h0m1.8 .9h0m.2-.9h0m.5 1.7h0m.4 1.5h0m.8-2h0m.1-.5h0m.3-.3h0m2 1.7h0m1.9 1.2h0m172.1-.9h0m.2 1h0m.2-2.8h0m0 .6h0m.8-.4h0m.3 .5h0m0 2.2h0m.3-1.8h0m.1 .8h0m3.2-2.6h0m.6 .2h0m.6 1.1h0m.1-.5h0m0 .7h0m.3 .9h0m.1-2.6h0m.5 .3h0m.1-.3h0m0 3.4h0m.1-1.9h0m0-1.4h0m.2 3.5h0m.3-.2h0m.1-1.8h0m.1 .1h0m.2-1.1h0m1 .9h0m-205.3 3.1h0m.2 2.9h0m1.5-1.5h0m.1-1.2h0m.2-.1h0m.3 1.6h0m.1-.3h0m0-1.5h0m.3 .1h0m.1 2.1h0m0 .4h0m.3-1.4h0m0 .6h0m.1 .1h0m.1 .9h0m.1-1.6h0m.1 1.4h0m.3-1.3h0m.1-.2h0m.2-.6h0m16.2-.7h0m.5 .1h0m0 1.6h0m.9-.9h0m.2 2.5h0m.6-2.9h0m.3 2.9h0m.1 0h0m.1-1.7h0m.2 .2h0m0-1h0m.2 .5h0m1.4 .5h0m1.1 1.4h0m169.2-2.7h0m.5-.2h0m.5 .7h0m.3-.7h0m.4 .1h0m.3 .2h0m.1 1.8h0m.2-.5h0m.8-1h0m.1 2.7h0m.1-.3h0m.3-1.4h0m.6 0h0m.1 .5h0m.5 1.1h0m.2-.9h0m3.1-2.7h0m.5 2.4h0m.3-1h0m0-1.5h0m0 3.1h0m.5-2.3h0m.7 2.7h0m.1-3.4h0m.2 3.3h0m.4 0h0m.3-.8h0m0-.3h0m.1 1.5h0m.2-1.8h0m0 1.8h0m.2-.9h0m-204.6 2.5h0m.1 .3h0m.8 .8h0m.9-2h0m.2 .4h0m.1 .1h0m.5-.5h0m.3 2.8h0m.3-2.9h0m0 2.8h0m.1-3h0m.4-.2h0m.4 1.2h0m.2-.5h0m.2 2.4h0m.3-2.8h0m0 1.1h0m.7 0h0m.1 .3h0m1.1 .8h0m.9 .2h0m.4 .7h0m.3 .1h0m13-3.1h0m.1 .9h0m.2-.1h0m1.1-.8h0m0-.5h0m.1 2.5h0m.1 .4h0m.3-.2h0m.2-1.1h0m0 .4h0m.1 1.3h0m0-2.6h0m.3 2.2h0m.3-.4h0m.1-1.3h0m0 1.2h0m.3 .4h0m.1-2.8h0m.3 2.8h0m0 .9h0m.5-2.2h0m0 2h0m.4 0h0m.8 0h0m3.8-.6h0m165.6-1.5h0m1.1-1.3h0m.1 1.9h0m.2-.1h0m.2 1h0m0-1.9h0m.4 2.7h0m0-1.5h0m.2-.3h0m.1 1.6h0m.1-1.9h0m.3 1.4h0m.3-1.4h0m.6 2.2h0m0-.4h0m3.8-1.4h0m0 .3h0m0-.3h0m.2-1h0m.4 2h0m0-1h0m.1 1h0m.1-.7h0m.2 1.4h0m0-2.2h0m0 1.3h0m.1-.2h0m.3 .7h0m.1-1.6h0m.2-.5h0m.1 .7h0m.1-1.6h0m0 .7h0m.2-.4h0m-203.7 5.5h0m3.6-1.8h0m.2 3.1h0m.4-3.3h0m.2 1.2h0m.2 .9h0m1.2-1.5h0m.6 2h0m.6-.6h0m.3 1.6h0m.1-.6h0m0-2.1h0m.4-.1h0m.5 .5h0m.5 2.4h0m.2-.5h0m.1-.9h0m.2-.3h0m.6 1h0m.2 .7h0m12.2-3.4h0m2.4 2.6h0m.7-.8h0m.1 .9h0m.2-.2h0m.1-2.3h0m.2 3.1h0m.3-2.4h0m.6-.6h0m.3 1.7h0m.5 .8h0m.6-.8h0m.1 .8h0m1.1 .1h0m166.3-1.6h0m.5-1.6h0m0 .2h0m.1 .2h0m.7 2.6h0m0-.3h0m.2-2h0m.1 1.1h0m.6 .5h0m0 .8h0m0-3.1h0m.4 2.6h0m0 .8h0m.1 .4h0m.2-3.4h0m.3 2.3h0m.2-1.3h0m.4 1.8h0m.1 0h0m4.1-1.8h0m.4 1.1h0m.7 .3h0m.3-2h0m.2 2h0m.3 .4h0m.2-1.4h0m.4-.2h0m1.4 2h0m.1-.9h0m-205.2 2.4h0m3-.3h0m.3-.8h0m0 1.4h0m2.7 1h0m1 .4h0m.1-1.1h0m.4 .4h0m.2 .9h0m.8-2.9h0m0 1.2h0m.1-1.2h0m.5 2.1h0m.1 .8h0m.2-.6h0m.1-1.8h0m0 .8h0m.3-.3h0m.1 1.9h0m.7-.7h0m.1-.5h0m.4 .5h0m.7 1.2h0m.9-.3h0m11.9-2.5h0m0 1h0m.1-.9h0m.1-.3h0m.5 1.7h0m.4-.1h0m.2-.8h0m.4 1.8h0m.3-2h0m.1 1.9h0m.1-.6h0m0 .4h0m0-.6h0m.1-2h0m.1 1.9h0m0-.5h0m.3 .5h0m.8 1.4h0m.1-.9h0m.1 .9h0m.5 0h0m.7-1.9h0m166.8 2h0m.2-1.4h0m.4 .4h0m0 .3h0m.3-1.2h0m.1-1.7h0m.5 3.6h0m.6 0h0m.1-.1h0m0-.6h0m.1 .1h0m.3 .4h0m3.4-2.9h0m.9 .3h0m.1 .5h0m.2 2h0m.1-2.2h0m.2 2.2h0m.1-3.2h0m.2 2.4h0m.2 1.1h0m.3-.3h0m.5-1.7h0m1.1 1.4h0m.1-3h0m0 3.2h0m1.4-1.7h0m-197.9 3.3h0m.7-.2h0m0 2.9h0m.9-1.1h0m.1-1.5h0m.2 1.4h0m0-1h0m.1-1h0m.1 .6h0m.8-.4h0m.5-.4h0m0-.3h0m.1 2.4h0m.2-1.7h0m0 1.5h0m.4 1.6h0m.5-1.5h0m.7-.1h0m1.1 .2h0m.6 .7h0m.3 0h0m1 .7h0m9.5-3.4h0m.3 .6h0m.1-.2h0m.4 1.2h0m.1-.7h0m.1-.7h0m.2 0h0m1 2.3h0m.2 .3h0m.1-1h0m.5-2.1h0m1 3.1h0m.1 .2h0m.9-.6h0m.1 .8h0m163.9-3h0m.6 .3h0m.4 .3h0m.3 .6h0m.5-1.6h0m.2 1.7h0m.2-1.1h0m.1 2.6h0m.1-2.6h0m1.1 2.4h0m0 .2h0m.3 .5h0m4.2-3.6h0m.1 1.8h0m.4-1.3h0m.1-.6h0m0 .4h0m.4 2h0m.4 1.1h0m0-2.4h0m.1 .6h0m0-.8h0m.3 .6h0m0 1.6h0m.7 .3h0m.2-.8h0m.6-2.3h0m0 .2h0m-193.1 4h0m.8 0h0m1.3 .2h0m.3 .6h0m.4-.9h0m.2 1.4h0m.1-.3h0m.9-1.1h0m.2-.1h0m.4 3h0m3 .2h0m9.5-3.1h0m.3 1h0m.3-.3h0m.2 .9h0m.2 .8h0m0-1.2h0m.1-.5h0m.8 .1h0m0 1.1h0m0-.7h0m.2-.9h0m.1-.3h0m.1 2.4h0m0-.7h0m.5-.9h0m0 2.3h0m.3-.4h0m.4-.1h0m.4 0h0m.2-1h0m.6 1.3h0m.2-.6h0m.4 1h0m161-2.3h0m.4-.9h0m.7-.6h0m.2 3.1h0m.3 .1h0m.5 .2h0m.1-1.6h0m0-1.2h0m.1 1.4h0m.2 1.3h0m0-1.9h0m.5 .6h0m5.2 0h0m.2-1.4h0m.1 2.6h0m.5 .3h0m0 .2h0m.4-3.3h0m.8 1.5h0m.4 .7h0m.4 .8h0m.9 .4h0m-193.1 1.8h0m1.1-1.6h0m1.2 .2h0m.3-.1h0m2 1.9h0m.1-2h0m0 1.3h0m.5-.2h0m.1-.5h0m0 .2h0m.3 .2h0m.1 .4h0m.1-.8h0m.1-.2h0m0 3.5h0m.5-1.4h0m0-1.9h0m.2 .6h0m.2 1.3h0m.1-2h0m.2 2.1h0m0 .7h0m.2-1.8h0m.3-.2h0m.1 2.2h0m.1 .1h0m.1-1.3h0m.2 .2h0m.1 .3h0m.2-.7h0m.8 .3h0m.1 .7h0m1.2 .2h0m7.1-3.2h0m.4 1.1h0m.7-1.2h0m.5 2.3h0m.2-.3h0m.2-1.2h0m.1 1.5h0m.1-.4h0m0-.4h0m.3-.4h0m0 2.6h0m.2-3.2h0m.2-.5h0m.2 3.4h0m.1-.6h0m.2-1.2h0m.4 2.2h0m0-1.5h0m.1-1.7h0m.2 2.8h0m.1-.4h0m.1-2.1h0m.9 2.5h0m160.4-2.9h0m.2 .1h0m.3-.3h0m1 2.3h0m0-.9h0m0 .6h0m.2 1.6h0m.3-1.7h0m5.5 .6h0m.1 .2h0m.5-1.7h0m0-.8h0m.1 1.8h0m0-1.5h0m0-.2h0m.5 2h0m.4-.6h0m.3 .9h0m.1-.1h0m1.1-1.3h0m.5 1.6h0m-187 .9h0m.4 .2h0m.9 .7h0m.4-.2h0m1.5 3.1h0m.1-.6h0m.3-3h0m.1 .1h0m.6 .1h0m.6 2.5h0m0 .5h0m.3 .2h0m.2-.7h0m1.6-.1h0m7.3-1.4h0m.5-1.4h0m.4 .6h0m.3 1.7h0m.1-1.7h0m.3-.6h0m.1 1.7h0m.1-1.6h0m.2 1h0m.1 2.1h0m.3-3.2h0m.2 1.4h0m.4 1.2h0m.6-1.8h0m.2 2.8h0m.9-.3h0m0-.2h0m.2 .1h0m0-.3h0m.6 .5h0m.3-1.2h0m156.7-1h0m.1-.6h0m1.4 .1h0m.5-.8h0m0 1.5h0m.1-.2h0m5.1-1.1h0m.6 1.2h0m.2 1.2h0m.1-.7h0m.4 .1h0m.3-.7h0m.3 2.1h0m.1-3.4h0m.2 2h0m.3 .3h0m.2 1.1h0m.1-.2h0m.1 .2h0m.4-1.6h0m1.9 .7h0m.4 .9h0m-183.8 .9h0m.1 1.8h0m.2-2h0m.2 1.1h0m1.8 2.4h0m.2-1.1h0m.1-.2h0m.2-.7h0m0 2.2h0m.6-.8h0m0-1.3h0m.1-.5h0m0-.2h0m.6 1h0m.2 .5h0m.3-.5h0m.1 0h0m1.3 1.2h0m7-2.1h0m.2 .3h0m0 0h0m.1-1.1h0m.5 .3h0m.9 2.2h0m.2 1h0m.5-2.7h0m1 2.5h0m.3-.4h0m.2-1.3h0m155.5-1.7h0m.1 2.4h0m.1-.2h0m1 1h0m0-3h0m.1 2.6h0m.2-1.3h0m.5 .2h0m.3 1.5h0m4.5-2.8h0m.5 0h0m.7 3.3h0m.1-2.4h0m.2 1.7h0m.4-3.2h0m.1 .3h0m.1 3.2h0m.3-2.8h0m.5 2.4h0m.2-1.8h0m.4 .9h0m.1 .2h0m.5 1.1h0m1.6-2.3h0m-180.5 4.1h0m1 2.5h0m.6-3.4h0m.1-.3h0m.2 1.3h0m0 2.4h0m.2-2.6h0m.4 .2h0m.4 .1h0m.1 2.1h0m.2-1.4h0m.3-.5h0m.1-.7h0m.3 .7h0m0 .7h0m.3 1.3h0m.4-.3h0m.1-.3h0m.1-.2h0m.2-.3h0m.3 1.3h0m.6-.6h0m5.7-2.4h0m1-.4h0m0 .9h0m.6 1h0m0-1.1h0m.5-.5h0m.2 .1h0m.2-.7h0m.7 .9h0m0 1.9h0m0-.4h0m.4-1.2h0m.3 .1h0m0 1.5h0m.1-1.3h0m.2 .7h0m.3 .9h0m.5-1h0m.4-.2h0m1.3 1.3h0m150-2.6h0m.4 1.1h0m.7-.2h0m0 .3h0m.3-.4h0m.6-.5h0m.2 .4h0m.1 1.4h0m0-.3h0m.1 0h0m.6 1.3h0m.1-.8h0m.3 .4h0m4.8-2.3h0m0 .1h0m.4 1.7h0m.4-.8h0m0 1h0m.2-1h0m.1-1.5h0m.1 .9h0m0 1.8h0m.2-1.7h0m.5 .8h0m.2-.1h0m.1 .5h0m.1-.3h0m0 .2h0m.7-1.5h0m.2 1.7h0m.1-2.1h0m-175.6 3.9h0m.4 .3h0m.4 1.1h0m.8-1.3h0m.3 .1h0m.3 1.8h0m.3-.4h0m0-1.2h0m.5 2h0m.1-2.4h0m.5 1.4h0m.1 1h0m0 .2h0m.6-.1h0m0-1.5h0m.2 2h0m.3-.7h0m.2 .4h0m5.7-3.4h0m1.1 1.1h0m.1-.2h0m1.3 .7h0m.4-.1h0m.6 .7h0m.5 .3h0m.2-.4h0m0-.8h0m.2-.6h0m.2 1.4h0m.1 1.1h0m0-.4h0m1 .8h0m.4-.2h0m1.1 0h0m.1 0h0m143.8-2.3h0m4.3 1.2h0m.2-2.2h0m0 .2h0m.3 2.1h0m.1 .5h0m.1-2.8h0m.3 .1h0m.3 2.5h0m0 1.1h0m.1-.3h0m.2-3.1h0m.2 2.3h0m.2 .4h0m5.4-2h0m.3 .7h0m0 .2h0m.1-.3h0m.2-.6h0m.1 .2h0m.5 0h0m.1 2.2h0m.5-.8h0m.1 .4h0m.1-.6h0m.1-1.7h0m.1 0h0m.2 1.9h0m.7 .5h0m.3-.6h0m-174.8 1.7h0m1.6 .1h0m1.3 2h0m.4-1.7h0m.1 .9h0m0 1.2h0m.3 .5h0m.2-.9h0m.4-1.4h0m.2 .6h0m.1 .1h0m.4-1h0m.4 2h0m1.9 .2h0m6.5-2.1h0m.4-.2h0m.7-.6h0m.9 .2h0m0 .1h0m1-.2h0m0 2.6h0m.1-1.7h0m.4 1.3h0m.1 1.3h0m.1-2h0m.1 1.5h0m0-2.2h0m.7 1h0m.1 1.7h0m1.8-.3h0m.2 .4h0m.1-1.6h0m.3 .6h0m.3 .6h0m.1-.1h0m.4 .6h0m143.2-2.1h0m.3 1.1h0m.3-1.1h0m0-1.4h0m.9 2.3h0m.9 .5h0m6-1.9h0m.3 .9h0m.3 .6h0m0-2h0m.5 .4h0m.2 .8h0m0 1.8h0m.1-3.1h0m.1 2.8h0m.2 .4h0m.3-2.1h0m0-1h0m.5-.7h0m-173 4.6h0m3.9-.3h0m.9-.2h0m.8 1.4h0m.4 .6h0m.1 .9h0m.1-.2h0m.9-1.2h0m.6 1.5h0m.3-1h0m.2 1.7h0m.3-.6h0m.1-.4h0m.4 .5h0m.3-.5h0m.8 .8h0m.2 .1h0m.6 0h0m6.9-2.5h0m.2 .2h0m0-1.4h0m.3 1h0m0 .7h0m.6 .7h0m.2-2.5h0m.2 .7h0m.1 1.4h0m.2-1.3h0m.3 2.6h0m.5-1.1h0m0 .7h0m.4-.1h0m.5 .7h0m.1-1.1h0m.5-1.1h0m.1 2.4h0m.2-.7h0m0-.6h0m.4 1h0m.2-1.4h0m1.6 1.3h0m137.5-2.3h0m.3-.7h0m.1 3.2h0m.5-3.5h0m.5 2.5h0m.2-.9h0m.1-1h0m0-.5h0m.1 2.2h0m.2 .6h0m.2-.1h0m.1 .7h0m.1-.1h0m0-1h0m.1 .3h0m0-1.4h0m7.9 1.1h0m.7-1.3h0m.1 .3h0m.7 .3h0m0 1.5h0m.5 .5h0m-168.1 1.2h0m2.7 2.3h0m.1-3.2h0m.5 1.9h0m1.3-.6h0m.3-.6h0m.1 2.5h0m.2-2.1h0m.7 1.3h0m.1 .4h0m.4 .1h0m.1-1.1h0m.1 1.5h0m.4-.5h0m0 .6h0m.5-.2h0m.7-.2h0m0 .3h0m1 .1h0m.4 .4h0m6-3.5h0m.5 0h0m.1 .4h0m.2 .7h0m0-.1h0m.1-1h0m.4 1.2h0m.3 .1h0m.3-.9h0m.5 .9h0m.4-1.5h0m.5 2.4h0m0-1.4h0m.8 .1h0m.1 .1h0m.1-.5h0m.5-.6h0m.1 3.6h0m.4-.7h0m0-.4h0m.3-1h0m.1 .9h0m.2-.7h0m.8 1.1h0m.6-.8h0m.3 1.4h0m.6-1.1h0m.1 1.1h0m132.3 0h0m.1 .2h0m0-2.6h0m.9 .3h0m.2 2.2h0m.7-3h0m.1 1.1h0m0-1.9h0m.1 3.7h0m.1-2.1h0m7.2-.7h0m.4 2.9h0m.1-3.1h0m.1 .6h0m.1-.1h0m.1 1.8h0m.1-2.8h0m.1 .8h0m1.1 1.6h0m0 1.3h0m.3-3.5h0m.2 3.5h0m.5-2.5h0m.4 1.4h0m1.3 .9h0m-166.5 .5h0m1.1 .1h0m.8 .7h0m1.1 1.2h0m.1-2.2h0m.8 .2h0m0 .2h0m.4-.2h0m.4 .3h0m.4 .1h0m.4 .5h0m.3-1.1h0m.2 2.2h0m.4-2.2h0m.1 .9h0m.6-.2h0m.4 1.3h0m.2 .6h0m.5-.4h0m1.1 .1h0m1.2 .7h0m1 .8h0m4.8-3.7h0m1.4 .8h0m1.4-.8h0m.6 1.9h0m.5-.7h0m.2 1h0m.4 .5h0m.1-2.2h0m.1 1.3h0m0-1h0m.3 1.4h0m.1 1.2h0m.1-.7h0m.1-.7h0m.7 1.6h0m.4-2.2h0m1.3 1.6h0m.3-1.7h0m0 .8h0m.6 1.1h0m9.8-.2h0m116.9-1.6h0m.3 .6h0m.2-1.6h0m.4 3.1h0m.1 0h0m.1-2.7h0m0 2.6h0m.1-3h0m.7 2.9h0m0 .2h0m.1-1.1h0m.2-1.9h0m.2 2.2h0m.1 1.2h0m.1-1.3h0m0-.9h0m.1 .9h0m0 .5h0m.3-3.1h0m7.8 2.3h0m0-2.3h0m.1 2.3h0m0 0h0m0 1.6h0m1.1-2.6h0m.1-.7h0m0 .5h0m0 1h0m.2 .1h0m.1-1.8h0m.1 1h0m.5-1.4h0m.2 1h0m.2 .5h0m.1-.5h0m-156.5 3.1h0m.9 0h0m0 1.1h0m.5-.1h0m.1-.9h0m.2 1.2h0m.6 .3h0m.2 1.2h0m.4-.3h0m0-1.7h0m.4 1.9h0m.1-1.6h0m.6 1.2h0m.2 .1h0m0-.7h0m.4-.5h0m.1 1h0m.1 .4h0m.6 1.1h0m1.3-.7h0m.3 .2h0m.1 .4h0m7.3-3.6h0m1.9 1.9h0m.2-1.1h0m.8 1h0m.2 .2h0m.8 .7h0m.1-.3h0m1.1-.1h0m.6 .6h0m.2 .6h0m.5-1.7h0m.1 .5h0m1 .8h0m0 0h0m.1 .1h0m120.5-.3h0m0 .9h0m1.1-.2h0m.2-2.8h0m0 .6h0m.1-.9h0m.3 1.7h0m.2-.5h0m0 2.1h0m.1-.8h0m0-.3h0m.1-.7h0m.1-.4h0m.2-1.7h0m.1 2.1h0m.2-.8h0m.3 .7h0m8.4-1.5h0m.1-.1h0m0 .1h0m1.2 .5h0m.3-.2h0m.3 .5h0m.7 .5h0m.2-.4h0m1.8-.6h0m-153.8 3.6h0m.2 1.4h0m.8-1.8h0m.7 3.8h0m.2-3.6h0m.2 2h0m.2-.5h0m.5-1.1h0m.7 3.2h0m0-3h0m.2-.7h0m.7 3.2h0m.2-1.8h0m.1-.8h0m.3 .5h0m0 .7h0m.1 1.8h0m0-1.7h0m.2-.3h0m.3 .5h0m.7 .2h0m.2 .3h0m.1-.1h0m.2-.1h0m.1 .1h0m7.5-2.3h0m.9 .3h0m1.3 .5h0m.2-.5h0m.5 2h0m0-2.5h0m.1 .7h0m0 1.2h0m.1-.5h0m.3 1.1h0m.8-.9h0m.8 .4h0m.4 .4h0m.5 .2h0m.9 1.2h0m2.1-.1h0m114.2-.8h0m.3 .3h0m.7 .3h0m.1 0h0m.1-1.4h0m.1-.1h0m0-1h0m.3-.1h0m.1 2.8h0m.9-3.8h0m.3 .6h0m8.7-.5h0m.2 2.7h0m.6-1.8h0m.1-.7h0m0 2.6h0m.5-1.1h0m1.1-.3h0m.1 .6h0m.1 0h0m0 .7h0m.1-2.7h0m0 2.7h0m0-2.3h0m.1 2.2h0m.2-1.8h0m.2 2.6h0m.3-.2h0m-146.1 .6h0m.1 1.6h0m.5-.1h0m.6-.8h0m0 .1h0m.2-.2h0m.2 .4h0m.3 .5h0m.5 .4h0m.4-1.1h0m.1 2.4h0m0-1.5h0m.3-.6h0m1 1.8h0m1.1 .9h0m0-.4h0m7.6-3.2h0m1.6 .5h0m.3 .5h0m.6 .1h0m.1 .9h0m.9 .2h0m.6-1.7h0m2.6 2.1h0m110.3 .3h0m.3-.3h0m.2-2.3h0m.1 2h0m.2 .7h0m.6-3.1h0m.4 .9h0m.4-.7h0m0 1.2h0m.3 1.4h0m.1-1.1h0m.4 0h0m9.9-.6h0m.1 .6h0m.3-.6h0m.1 1.2h0m.7 1h0m.1 .2h0m.1-3.4h0m.2 .5h0m.2-.1h0m.2 1.2h0m.3-1.6h0m-142.5 5.5h0m1.8-.1h0m0 .2h0m.1-.9h0m0-.6h0m1 1.4h0m.1 .1h0m.5 .4h0m0-.2h0m.2-1.8h0m.2 2.5h0m.8-.2h0m0 .3h0m.2-.7h0m.3-1.1h0m.2 1h0m.1 1.5h0m.2-1.5h0m.3 .3h0m.9 .9h0m.4 .8h0m.1-.4h0m7.9-2.2h0m0-1.2h0m0-.1h0m.4 .5h0m.6 .7h0m.1 .4h0m0 .3h0m.2-1.1h0m.4 .9h0m.4-1.3h0m.1 2h0m.2-.6h0m.7-.8h0m.3 1.1h0m.1-1.2h0m.3 .2h0m2.1 2h0m104.2-1.2h0m1.6 .6h0m.6-2.1h0m.4 3.4h0m.2-1.5h0m.1 .4h0m.1-.8h0m0 1.2h0m.1-.5h0m.3-1h0m0-.9h0m.2 3.1h0m11.1-1.8h0m0-1.3h0m0-.3h0m.2 3.2h0m0-3h0m.3 .4h0m.1 1.4h0m0-1.6h0m.4 1h0m.3-1.2h0m.2 1h0m.1 .5h0m.3-1.1h0m2.1 .5h0m-137.8 4.1h0m1 1.6h0m.6-1.1h0m.2-1.5h0m.3 1.2h0m.1 1.4h0m.1-.5h0m.3 .3h0m.1 .4h0m.4-1.1h0m.1 1.4h0m.1-1h0m.4 1h0m.5-1.8h0m1 1.5h0m7.6-3.4h0m1.1 1h0m.1-.2h0m.2-.4h0m.1 1.1h0m.4-.5h0m.2 .2h0m.4 1.2h0m.2 .3h0m.3-1.2h0m.2 .8h0m.1-1.6h0m.2 .7h0m.3 .5h0m.9 1.2h0m2 0h0m.4 .5h0m.1-.8h0m.1-1h0m.9 1.9h0m99-1.3h0m.2-2h0m.2-.5h0m0 3.3h0m.3-2.2h0m.3 2.4h0m.5-2.4h0m.2-.9h0m.1 2.5h0m.1-.8h0m.1 1.4h0m.1-1.2h0m.1 0h0m.1 .9h0m11.3 .5h0m.1 .1h0m.2-2.2h0m.1 1.4h0m.6-.9h0m.8-1.6h0m.3 2h0m.1-.8h0m.4-1.3h0m1.8 0h0m1.2 2.1h0m-138 1.9h0m2.5-.2h0m.4 1.6h0m.3-.4h0m.3 1.4h0m.6-.8h0m.1-1.6h0m.1-.2h0m.4 .1h0m.1 2.2h0m.7-.9h0m.5 1.1h0m.2 1.2h0m0 .3h0m.8-1.1h0m.1 .5h0m.2 .5h0m.1-1.3h0m.1 .8h0m.6-.1h0m.3-.3h0m8.6-2.1h0m.5 .2h0m.4-.3h0m.4 .2h0m.3 1h0m.2-.2h0m.1 .1h0m.4-1.7h0m.6 1h0m.4 1.8h0m.1-1.7h0m0 1h0m.2 0h0m.1-1.4h0m.8 .1h0m.5 2.5h0m0-.3h0m.1-2.1h0m0 2.6h0m.1-.3h0m.1-1.3h0m.5-.7h0m.1-1h0m.7 2.8h0m1 .7h0m.8-1.4h0m91.4 .2h0m.4 .6h0m.4 .4h0m1.3-2.8h0m.1 2.5h0m.2 .2h0m.1-3.6h0m.2 2.9h0m.5 .5h0m.1-.8h0m0-2.2h0m.6 1h0m11.2 2.2h0m.2-1.9h0m0 .5h0m.1-.2h0m.1 2h0m0-2.1h0m.2-1.4h0m.1 0h0m0 .6h0m.3 .1h0m.1 .6h0m.1 .8h0m.2-2.5h0m.6 2.9h0m.1-2.8h0m.1 .9h0m0 1.5h0m.2-1.9h0m.1 .4h0m.1-.4h0m.2-.4h0m1.8 1.7h0m.4-1.4h0m.7-.2h0m1.1 2.7h0m-135.2 1.5h0m2.1 1h0m1.5-1.3h0m1.2-.2h0m.4 2.9h0m.2 .6h0m.4-2h0m.1 1.5h0m0 .4h0m.2-2.7h0m.2 .8h0m.4 1.3h0m.2-.1h0m.7-.5h0m.1 1h0m.1-1h0m11.9-2.1h0m1.9 .2h0m.1 .5h0m.3 1.1h0m.1 .1h0m.2-.2h0m.5-1.1h0m.5 .8h0m1-.6h0m.3 1.9h0m.2-.3h0m.6-1h0m.3 2.1h0m.2-.4h0m.1-1.7h0m.2-.2h0m.2 2.2h0m.1-1h0m.1 1.4h0m0-1.3h0m.6 1.3h0m.4-1.5h0m.3-1.4h0m.5 1.4h0m.1 1.1h0m.5-1.5h0m1.2 1h0m1.1 .7h0m.2-.1h0m.4-1.9h0m79.1 2.1h0m1.2-2.3h0m.5 1.2h0m.4-2h0m0 1.7h0m.3 .3h0m.1 .8h0m0 .2h0m.1-1.9h0m0-1.2h0m.5 .9h0m0 1.2h0m0 .1h0m.2-2.2h0m.2 2.1h0m0 .2h0m.2-.3h0m0-.3h0m0-.7h0m0 .8h0m.5-2h0m.6-.3h0m0 .1h0m12.6 1.4h0m.1 1.3h0m.3-.6h0m.2 1.4h0m.4-3.8h0m.4 3.5h0m.6-.8h0m.4-2.7h0m.1 3.4h0m.4-2.4h0m.7-.4h0m-125.4 5.1h0m.1-.2h0m0 1.6h0m.2-1.7h0m.9-1.2h0m.2 .6h0m.3 .9h0m.8-1.1h0m.1 1.6h0m.8 .8h0m.1 .3h0m.4-1.1h0m.1-.4h0m.1-.9h0m0 .5h0m.2-.9h0m.4 1.4h0m.7-.5h0m.2-.2h0m.2 2.3h0m0-1.2h0m.5 1.4h0m.3-.4h0m.2 .5h0m.4-1.4h0m.4 .7h0m.3-.1h0m.6 .3h0m.8 .1h0m.2 .4h0m.4 .1h0m12-3.4h0m.3-.4h0m0 1.2h0m.1-1.1h0m.4 1.4h0m3-1.6h0m.1 .9h0m1.7 1h0m.1 .5h0m.4-.1h0m.2-1.2h0m.6 2.1h0m0-1.2h0m1 .5h0m0-1.1h0m.3 2.2h0m.2-.2h0m0-.5h0m.1 .5h0m0-1h0m1.2-.1h0m.2 1.6h0m.1-1.3h0m.1 1.3h0m.2-.3h0m.2-1h0m.3-.5h0m.7 1.2h0m69.3 .4h0m.1-1.3h0m.3 1.5h0m.1-3.1h0m.1 2.2h0m.3-.9h0m.2-.1h0m0 .1h0m.3 1.9h0m.3-2.5h0m.1 1h0m.1 .7h0m0-.4h0m.1 .8h0m.3-.3h0m0-2.4h0m.1-.4h0m0 2.8h0m.3-.5h0m.3-1.7h0m0 1.2h0m.1-.6h0m.3-1.1h0m0 1.8h0m.7-1h0m.3-.7h0m.2-.3h0m.1 .2h0m14.1 .6h0m.2-.2h0m.5-.9h0m.1 1.6h0m.5 .4h0m0-.2h0m0 1.2h0m.2-2.7h0m.3 2.9h0m0-1h0m.2-.4h0m.1-.4h0m.5-.9h0m0 1h0m.1-.9h0m.1 .3h0m1 1.5h0m-118.5 1.9h0m1.4 .3h0m.2 .6h0m1.1-1.1h0m.6 .6h0m.2-.2h0m0 .3h0m.6 2.1h0m.3-1h0m.5 0h0m.7-.2h0m1.2 1.6h0m.9-.1h0m.1-.3h0m15.5-2.8h0m1.1 .6h0m.9 .5h0m.1-1.2h0m.6 0h0m.5 1.6h0m.4 .1h0m.6 .2h0m.9-1.3h0m.1-.6h0m0 1.1h0m1.1 .4h0m.2 .8h0m0-1.6h0m0 .1h0m.2 1.2h0m0-.3h0m1.4-.3h0m0 1.7h0m.2-1.7h0m0-.8h0m.2 .1h0m.1 1h0m.4 1.6h0m.3-.7h0m.5-.2h0m1 1.3h0m1.1 0h0m.1-.7h0m.5 0h0m.1 .7h0m0-1.5h0m.9 .4h0m.3 1.1h0m.2-1h0m.1 .4h0m.5-.1h0m.7 .8h0m.5 0h0m1.7 0h0m.5-1.2h0m.3 .8h0m1.1-.1h0m.1 0h0m.3-.9h0m.3 1.1h0m.2 .1h0m2.7-.1h0m40.3-1.3h0m2.3 1.5h0m.7-1.5h0m1.1 1.6h0m.7 0h0m.4-3.1h0m.1 1.2h0m.1 1.4h0m0 .6h0m.2-.3h0m.1 .3h0m.1-1.2h0m0-.4h0m.4-.8h0m.1 .5h0m.1 1.3h0m0-1.4h0m.4 .4h0m.2 1.4h0m0-1.3h0m.3 .6h0m0-1.7h0m0 .7h0m.4-.2h0m.3 1.8h0m.2-1h0m0-2.1h0m.3 2.3h0m.1 .1h0m.3-2.7h0m.2 1.8h0m0-.3h0m.1 .4h0m.1-1.5h0m.3 .1h0m0-.3h0m.4 1.6h0m1.4-1.5h0m0-.4h0m16.2 1.6h0m0-.6h0m0-.8h0m.1 1.7h0m.1-.9h0m.3 2.7h0m.1-2.1h0m.1-1.7h0m.3 1.9h0m.4 1.7h0m0-3.3h0m.3 0h0m.4 2.1h0m.8-2.4h0m1.5 2.2h0m1.5 0h0m1.6-.2h0m-118.7 4.4h0m.7-2.4h0m2 .5h0m1.4 1.8h0m.6-1.3h0m.2-1h0m.1 1.2h0m0-1h0m.2 .5h0m.1 1.4h0m.2 1h0m.1-1.8h0m.2 .9h0m.3-2.1h0m1 3.5h0m.1-2.5h0m.8 .6h0m.2 .9h0m.3 .4h0m.3 .4h0m.7-1.2h0m.1 1.4h0m.6 .2h0m.3-1.2h0m.2 .9h0m.5 .3h0m.3-.2h0m.2 .2h0m20-3.8h0m4.7 0h0m.1 .6h0m.8 .7h0m.2-.7h0m.3 .6h0m.1 .3h0m0 .2h0m0-.6h0m.3 .8h0m1-1.2h0m.1 1.4h0m.2-.7h0m.4 .7h0m0-2h0m.7 1.2h0m.2 .5h0m.1-.2h0m.1-1.6h0m.2 1.9h0m.7-1.9h0m0 1.9h0m.3 .5h0m.1 .2h0m.6-1.7h0m0-.1h0m.5 1.5h0m.1 .1h0m.1-.7h0m.3 .5h0m.7 .5h0m.1 .2h0m0-1h0m.4-1.1h0m.2 1.1h0m.2-1h0m.1 .2h0m.6-.9h0m0 2.8h0m.2-.8h0m.2-.3h0m0 .5h0m.1-1h0m.6 1.2h0m.4 .7h0m1.1-2.6h0m0 .8h0m.1 2.1h0m0-1.9h0m.1-.6h0m.3 1.9h0m0-2.7h0m.7 2.6h0m.3-.2h0m.2-2h0m.1 2h0m.3 1h0m.4-2.5h0m.8 2.5h0m.5 0h0m0-1.3h0m0-.9h0m.1 1.6h0m1.1-.2h0m.5 1h0m.2-2.5h0m.6 2.2h0m.6-.5h0m.3-1.5h0m.3 .3h0m.1 1h0m.2 .9h0m0-1h0m0 1h0m.3-2.7h0m.3 1.8h0m0-.8h0m.3 .6h0m.2 .4h0m1.2-.3h0m.5-.4h0m.1 1.3h0m0-.4h0m0-1.2h0m.4 .4h0m.3 .1h0m.4-.6h0m0-1.3h0m.5 3.2h0m0-1h0m.1 .4h0m.6 .4h0m.6-.7h0m.5 .4h0m.5-1h0m.4 .6h0m.3 .4h0m0-.1h0m.3 0h0m.3-.1h0m.4 0h0m.9-2.4h0m.7 2.2h0m.5 .8h0m.7-.8h0m.3-1.3h0m.2 1.1h0m.6-.9h0m.3-.1h0m.2 1.4h0m.3-.6h0m.5 .6h0m.3-1.2h0m.1 1.7h0m.1-1.3h0m.4 1.4h0m0-.7h0m.3 .4h0m1 .2h0m.7 .2h0m.4-.1h0m.2-1.6h0m.2 .9h0m2.1-1.4h0m.2-.7h0m.2 2.7h0m.3 .1h0m0-.6h0m.2-.3h0m.9-.4h0m0 .7h0m.3 .2h0m.1 .3h0m.2 0h0m.1-.9h0m.6 .4h0m.3 .2h0m.4-.5h0m.1-1.2h0m.4 1h0m0 .3h0m.2-.2h0m0 .2h0m.2-.8h0m.1-.6h0m0-.6h0m.5 .9h0m.1-.6h0m.1 1.6h0m.1-2.1h0m.9 1.1h0m.2 1h0m.4-2.8h0m1.1 .9h0m.3 .1h0m.2 .3h0m0-.5h0m.1 .1h0m.4 .1h0m0-.6h0m.3-.5h0m.4 .8h0m0-.6h0m.6 1.2h0m.7 0h0m.2-1h0m1.1 1h0m19.8 2.1h0m1.2-3h0m.5 2.6h0m0-.4h0m1.1-1h0m.2 1.4h0m.8-2.1h0m.2-.1h0m-106.5 3.1h0m3.1-.1h0m1.3 0h0m.4 1.7h0m.2-1.3h0m.6 2.9h0m.5-2.2h0m.3 .2h0m.1-1h0m.1 3h0m.1-2.2h0m.6 1.5h0m.1-.8h0m.1-1.5h0m.3 1.5h0m1 .4h0m.2-.9h0m.2-.7h0m.1 .8h0m.5 1.8h0m.1 .5h0m.4-2h0m.1 1.9h0m.1 .3h0m1.5-1.1h0m.4 .7h0m.2 .2h0m1-.1h0m.4 0h0m.5 .3h0m36.1-3.8h0m2.5 .4h0m2.6-.3h0m1.8 .4h0m2.6 .1h0m.1-.3h0m0-.4h0m.9 .7h0m2.3-.5h0m.9 0h0m2.7 .2h0m.5-.4h0m.3 0h0m2.4 .2h0m29.4 2.8h0m1.3 .5h0m.2-2h0m.2 .1h0m0 1.8h0m.3-1.4h0m.6 .6h0m.1-.9h0m.3-1h0m.1 1.4h0m1.2-.9h0m0 .4h0m0-.5h0m.3 .6h0m0 1.1h0m.4-.9h0m.4-.2h0m.1-.1h0m1.4 .1h0m4.7-.5h0m-103.9 3.2h0m.2 2h0m2.1-2.4h0m.2 1.1h0m1-.3h0m1.5 1.7h0m.1 1.3h0m.4-2.5h0m.2-.1h0m.3 0h0m1.1 .7h0m0 1.3h0m.2-2h0m.4-.4h0m.1 1.4h0m.1-.3h0m1.3-.9h0m.7 1.8h0m.3 .2h0m.2-2.1h0m.1 1.6h0m.4 1.4h0m.3-1.5h0m.3-.3h0m.2 1.8h0m0-2.1h0m.1 1.3h0m.5-.8h0m.3 1.6h0m.3 0h0m1.1-.7h0m1.2 0h0m.6-.3h0m0 .2h0m.4 .3h0m.4-.1h0m72.1-.4h0m.8 .8h0m.1-.6h0m.4 0h0m.2 .7h0m.8-2.6h0m0 1.5h0m.1 .2h0m.1-1.8h0m.1 1.3h0m1.5-2.3h0m.5 3h0m1.1-3h0m1.2 .4h0m1.7 .7h0m.3 1.5h0m1.4-2.4h0m-96.3 4h0m5.2 3.1h0m4.5 .4h0m.4-3.7h0m.7 1.3h0m.3-.6h0m.8 1.8h0m1-.8h0m.2-.7h0m.3 .6h0m.2-1h0m0-.5h0m.4 .3h0m.1 .3h0m.3 .4h0m.5 1.2h0m.2 1.3h0m.4-2.7h0m.2 1.2h0m.1 0h0m.3 .4h0m.3-.6h0m.6-.4h0m.1 1.4h0m.3 .2h0m.5 .2h0m.1-2.5h0m0 .1h0m.4 1h0m.1 .3h0m.1-1.3h0m.9 2.5h0m.7-.7h0m0 .2h0m.3 .3h0m0-.8h0m.5-.6h0m.4 .5h0m0 .7h0m.6 .2h0m.3 .1h0m.2 .4h0m.1-.1h0m54.1 .1h0m.3 0h0m.2-.1h0m.6-.3h0m1.1 .5h0m1.3-.5h0m.9-.3h0m.6 .1h0m.1-.9h0m.2 .2h0m.1 1.3h0m.6-.5h0m.1-2.3h0m.1 2.3h0m0-1.4h0m.2 1.4h0m.1-1.4h0m.3-.7h0m1.6-.6h0m.2-.2h0m.3 0h0m0-.2h0m.5 1.5h0m0 .1h0m.6 .4h0m.9 1.5h0m.6-.5h0m.5-1.6h0m1.4-1.3h0m1 1.2h0m-82.2 4.1h0m2.4-1.4h0m3.3 0h0m.7 1.2h0m2.9 .3h0m2.7-1.7h0m.5 .7h0m.2-.6h0m.7 .3h0m.2 0h0m.2 .2h0m.5 1.1h0m.6 1.9h0m1-1.9h0m0-1.6h0m.2 .1h0m.1 1.2h0m.5-.2h0m.6 .9h0m.8-1.7h0m.6 2.9h0m.2-2.3h0m.2 .1h0m.5 .6h0m.2 .3h0m0-.9h0m.1-.1h0m.2 .1h0m.6 2.2h0m0 .3h0m0-.8h0m.1-.7h0m0 .9h0m.3-2h0m.4 1.9h0m.2-1.6h0m.1-.3h0m.5 2.5h0m.1-1.5h0m.2 1.6h0m.6 0h0m.6-.5h0m.1-1.4h0m.1 1.5h0m0 .4h0m1.1-1.8h0m.6 .1h0m1.3 1.3h0m.3-.8h0m.4 .5h0m.7 .5h0m.5 .4h0m.3 .2h0m.2-.6h0m.3-.2h0m0-.5h0m2.5 1.1h0m.2-.4h0m.4-.5h0m1.1 .8h0m1.2-.5h0m3.9 .5h0m.6 .1h0m.3 .1h0m3.9-.2h0m.6-.3h0m.5 .6h0m1.1-.2h0m1-.4h0m.3 .3h0m.2 .2h0m1.9-.3h0m.2-.3h0m.6-.1h0m2 0h0m1.6 .5h0m1.2 .2h0m.4-1.1h0m2.4-.4h0m.1 .6h0m.4 .8h0m.3-1.2h0m1.9 1h0m.8-.6h0m1.1-.6h0m.7-1.2h0m.7 1.5h0m0-.9h0m.2 .7h0m.2-.6h0m.1 .2h0m0 .6h0m.2 .1h0m.8-.8h0m.2 1.7h0m.5-1.6h0m.3 .3h0m.1-.5h0m.1 .5h0m.2-.2h0m.2 1h0m0-1.4h0m.2-.8h0m.5-.4h0m.1 .4h0m.2-.6h0m.9 1h0m.5-.6h0m.2 .2h0m.2-.5h0m.5-.4h0m.4 1.1h0m1.1-.8h0m1.4 0h0m.6 .8h0m.3-1.1h0m.7 .3h0m1.7-.2h0m3.3 .7h0m.7 .8h0m-66 3.9h0m.1 .2h0m.7-1.4h0m0 .2h0m4.1 .3h0m.2 1.3h0m2.8-.7h0m.1 .4h0m1.3-1.9h0m.7 3.2h0m.3-3.2h0m1.1 1.9h0m.6 .3h0m.4 0h0m0-2.1h0m.1 .1h0m.2 .4h0m0-.2h0m.2-.2h0m.2 .6h0m0 1h0m0-1.5h0m0 .9h0m1.6 .3h0m.2-.9h0m.8-.3h0m.2 3.4h0m1.5-2.4h0m.1-.7h0m.1 .8h0m.2 .6h0m.4-.9h0m.1 .7h0m.4-.3h0m1.9 .5h0m.1-.2h0m0 .5h0m.1 .7h0m.2-1.7h0m0 .4h0m.8 .5h0m0-1h0m.1-.5h0m0 1.6h0m.9-1.5h0m.1 .8h0m.2-1.2h0m.8 1.3h0m.2 1.9h0m0 .1h0m1.3-.4h0m.2-2.6h0m0 2.2h0m.1-2.8h0m.1 .4h0m.2 1.6h0m.1 1.3h0m0-1.9h0m.2-.9h0m.1 0h0m.1 .5h0m.4 .3h0m.1-.7h0m.1-.1h0m.2 2.3h0m.3-.1h0m.5 .2h0m.4-.8h0m.1-1.7h0m.1 1.5h0m.6 .4h0m.3-1.8h0m.3 .8h0m0-.1h0m.5-.7h0m.5 1.1h0m.1-1.5h0m.2 2.6h0m.1-.2h0m.2-.5h0m.1-1h0m.4 1.1h0m.4-1.9h0m.2 2h0m0-.7h0m.1 .2h0m.1-.2h0m.1 .7h0m.3 1.7h0m.2-2.9h0m.2-.5h0m.1 2.5h0m.2-1.5h0m.3-.3h0m.7 .2h0m0 .2h0m.1-1.3h0m.1 1.1h0m0-1.5h0m.4 .3h0m.9 1.7h0m.4 1.3h0m.2-2.5h0m.5 2.9h0m.1-.8h0m.1-1.8h0m.4-1h0m.1 2.7h0m.2-1.5h0m.1-.9h0m0-.3h0m.1 1h0m.3 .9h0m.1-.1h0m.5-.1h0m1.1 1.3h0m.2-1.2h0m.3-.8h0m0-1.1h0m.6 .3h0m.3 3h0m.1-2.5h0m.2 2.3h0m.3-2.4h0m.6-.5h0m.4 .5h0m1.5-.1h0m1.7 2.4h0m1.6-.9h0m.5-1.6h0m1.2-.5h0m.4 .1h0m.2 1.7h0m3.1-.2h0m0-1.6h0m4.3 .2h0m1.3 0h0m3.6 3.4h0m.3-2.9h0m-50.5 5.8h0m7.1 .9h0m.1-.7h0m1.3-2.6h0m1.9 2.9h0m2-2.2h0m9.7 2.5h0m.2-2.9h0m1.4 .4h0m1.6 .2h0m0 .4h0m.6-.9h0m1.2 1.1h0m1.4-.6h0m5.1 2.5h0m-18.5 1h0m4.5 .4h0"/>
</g>
<g stroke="#3c3c3c" stroke-width="1" fill="none">
<rect x="71.0" y="8.45" width="555.6" height="439.7"/>
<path d="M209.9 448.1v-5.6M209.9 8.45v5.6M348.8 448.1v-5.6M348.8 8.45v5.6M487.7 448.1v-5.6M487.7 8.45v5.6M71.0 63.41h5.6M626.6 63.41h-5.6M71.0 118.36h5.6M626.6 118.36h-5.6M71.0 173.32h5.6M626.6 173.32h-5.6M71.0 228.27h5.6M626.6 228.27h-5.6M71.0 283.23h5.6M626.6 283.23h-5.6M71.0 338.19h5.6M626.6 338.19h-5.6M71.0 393.14h5.6M626.6 393.14h-5.6"/>
</g>
<rect x="352.5" y="15.3" width="268.7" height="57.7" fill="#fff" stroke="#262626" stroke-width="1"/>
<rect x="369.4" y="27.2" width="6.2" height="6.2" fill="#0000ff"/>
<rect x="369.4" y="54.5" width="6.2" height="6.2" fill="#ff0000"/>
<g font-family="'Liberation Serif', 'Times New Roman', serif" font-size="23.5" fill="#000">
<text x="393.6" y="39" textLength="83.6" lengthAdjust="spacingAndGlyphs">Turn 130</text>
<text x="393.6" y="64.7" textLength="223" lengthAdjust="spacingAndGlyphs">After pulsed quadrupole</text>
</g>
<g font-family="'Liberation Serif', 'Times New Roman', serif" font-size="26" fill="#262626">
<text x="71.0" y="480.2" text-anchor="middle">-200</text>
<text x="209.9" y="480.2" text-anchor="middle">-100</text>
<text x="348.8" y="480.2" text-anchor="middle">0</text>
<text x="487.7" y="480.2" text-anchor="middle">100</text>
<text x="626.6" y="480.2" text-anchor="middle">200</text>
<text x="63" y="17.1" text-anchor="end">40</text>
<text x="63" y="72.1" text-anchor="end">30</text>
<text x="63" y="127.1" text-anchor="end">20</text>
<text x="63" y="182.0" text-anchor="end">10</text>
<text x="63" y="237.0" text-anchor="end">0</text>
<text x="63" y="291.9" text-anchor="end">-10</text>
<text x="63" y="346.9" text-anchor="end">-20</text>
<text x="63" y="401.8" text-anchor="end">-30</text>
<text x="63" y="456.8" text-anchor="end">-40</text>
</g>
<g font-family="'Liberation Serif', 'Times New Roman', serif" font-size="26.3" fill="#262626" text-anchor="middle">
<text x="348.3" y="511.4">y (<tspan font-style="italic">μ</tspan>m)</text>
<text transform="translate(18.3 228.7) rotate(-90)">y' (<tspan font-style="italic">μ</tspan>rad)</text>
</g>
</svg>
</body></html>
